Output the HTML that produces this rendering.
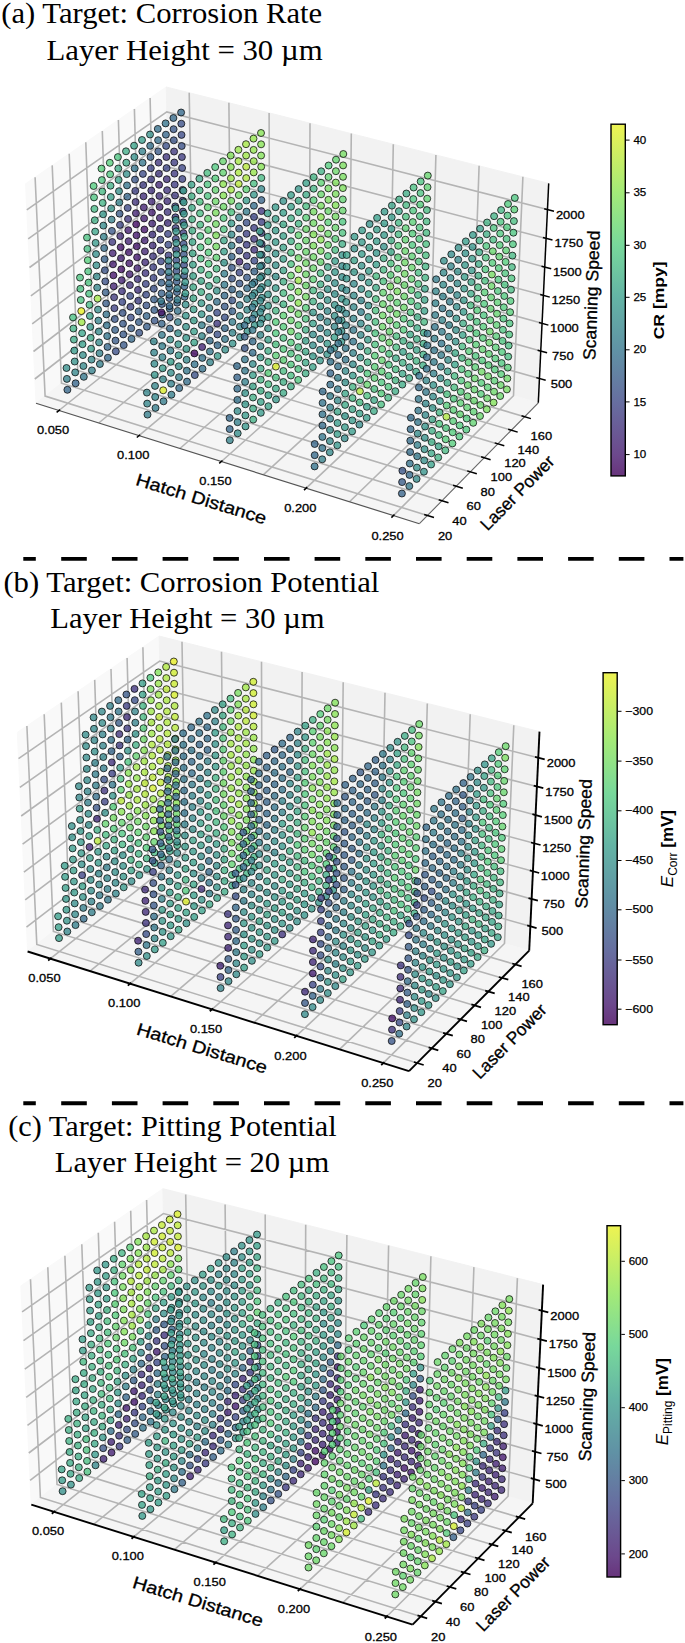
<!DOCTYPE html>
<html><head><meta charset="utf-8"><style>
html,body{margin:0;padding:0;background:#fff;}
svg{display:block;}
.sc circle{r:3.5px;stroke:#000;stroke-width:0.9;fill-opacity:0.8;stroke-opacity:0.8;}
text{font-family:"Liberation Sans",sans-serif;fill:#000;}
.tk{font-size:11.8px;text-anchor:middle;stroke:#000;stroke-width:0.3px;}
.ct{font-size:11px;stroke:#000;stroke-width:0.25px;}
.al{font-size:17.5px;text-anchor:middle;stroke:#000;stroke-width:0.3px;}
.cl{font-size:15px;font-weight:bold;text-anchor:middle;}
.ti{font-family:"Liberation Serif",serif;font-size:28.5px;}
</style></head><body>
<svg width="685" height="1643" viewBox="0 0 685 1643">
<rect width="685" height="1643" fill="#fff"/>
<path d="M36 403.3 L170.8 296.9 L166.3 87 L25.6 183.8Z" fill="#f9f9f9" stroke="#f9f9f9" stroke-width="1"/>
<path d="M170.8 296.9 L538.3 402.8 L548.7 183.4 L166.3 87Z" fill="#f2f2f2" stroke="#f2f2f2" stroke-width="1"/>
<path d="M36 403.3 L419.4 523.7 L538.3 402.8 L170.8 296.9Z" fill="#f5f5f5" stroke="#f5f5f5" stroke-width="1"/>
<path d="M58.9 410.5 L192.9 303.3 L189.2 92.8 M98.7 423 L231.1 314.3 L228.9 102.8 M139 435.6 L269.8 325.5 L269.1 112.9 M179.9 448.5 L309.1 336.8 L310 123.2 M221.4 461.5 L348.9 348.2 L351.3 133.6 M263.5 474.7 L389.2 359.9 L393.3 144.2 M306.2 488.1 L430.1 371.6 L435.9 154.9 M349.5 501.7 L471.5 383.6 L479.1 165.8 M393.5 515.5 L513.5 395.7 L522.9 176.8 M35.1 177.2 L45.1 396.1 L427.4 515.5 M52.2 165.4 L61.5 383.2 L442 500.7 M69.2 153.8 L77.7 370.4 L456.3 486.2 M85.8 142.3 L93.7 357.8 L470.4 471.9 M102.3 131 L109.4 345.4 L484.2 457.8 M118.4 119.9 L124.9 333.1 L497.9 443.9 M134.4 108.9 L140.2 321.1 L511.4 430.2 M150.1 98.1 L155.2 309.2 L524.6 416.7 M539.4 378.5 L170.3 273.6 L34.8 379 M540.7 351.1 L169.7 247.3 L33.5 351.5 M542.1 323.3 L169.1 220.8 L32.2 323.8 M543.4 295.3 L168.6 194 L30.9 295.8 M544.7 267 L168 166.9 L29.5 267.5 M546.1 238.4 L167.4 139.6 L28.2 238.9 M547.5 209.5 L166.8 111.9 L26.8 209.9" fill="none" stroke="#b4b4b4" stroke-width="1.6"/>
<path d="M36 403.3 L419.4 523.7" fill="none" stroke="#555" stroke-width="1.2"/>
<path d="M538.3 402.8 L419.4 523.7" fill="none" stroke="#666" stroke-width="1.1"/>
<path d="M538.3 402.8 L548.7 183.4" fill="none" stroke="#000" stroke-width="1.5"/>
<path d="M60.1 409.6 L56.6 412.3 M140.1 434.7 L136.8 437.5 M222.5 460.5 L219.2 463.4 M307.2 487.1 L304 490.1 M394.5 514.5 L391.4 517.6 M424.2 514.5 L434 517.5 M438.7 499.7 L448.5 502.7 M453.1 485.2 L462.8 488.2 M467.2 470.9 L476.8 473.8 M481.1 456.8 L490.6 459.7 M494.7 442.9 L504.3 445.8 M508.2 429.3 L517.7 432.1 M521.5 415.8 L530.9 418.6 M536.3 377.6 L545.7 380.3 M537.6 350.2 L547.1 352.8 M538.9 322.5 L548.4 325.1 M540.2 294.5 L549.8 297.1 M541.5 266.2 L551.2 268.7 M542.9 237.6 L552.5 240.1 M544.2 208.7 L554 211.2" fill="none" stroke="#000" stroke-width="1.5"/>
<text class="tk" x="53.1" y="433.8" textLength="32.3" lengthAdjust="spacingAndGlyphs">0.050</text>
<text class="tk" x="133.2" y="459.1" textLength="32.3" lengthAdjust="spacingAndGlyphs">0.100</text>
<text class="tk" x="215.5" y="485.2" textLength="32.3" lengthAdjust="spacingAndGlyphs">0.150</text>
<text class="tk" x="300.3" y="512.1" textLength="32.3" lengthAdjust="spacingAndGlyphs">0.200</text>
<text class="tk" x="387.6" y="539.8" textLength="32.3" lengthAdjust="spacingAndGlyphs">0.250</text>
<text class="tk" x="445.1" y="539.7" textLength="14.4" lengthAdjust="spacingAndGlyphs">20</text>
<text class="tk" x="459.5" y="524.8" textLength="14.4" lengthAdjust="spacingAndGlyphs">40</text>
<text class="tk" x="473.7" y="510.1" textLength="14.4" lengthAdjust="spacingAndGlyphs">60</text>
<text class="tk" x="487.7" y="495.7" textLength="14.4" lengthAdjust="spacingAndGlyphs">80</text>
<text class="tk" x="501.4" y="481.4" textLength="21.6" lengthAdjust="spacingAndGlyphs">100</text>
<text class="tk" x="515" y="467.4" textLength="21.6" lengthAdjust="spacingAndGlyphs">120</text>
<text class="tk" x="528.3" y="453.6" textLength="21.6" lengthAdjust="spacingAndGlyphs">140</text>
<text class="tk" x="541.4" y="440" textLength="21.6" lengthAdjust="spacingAndGlyphs">160</text>
<text class="tk" x="561.5" y="387.5" textLength="21.6" lengthAdjust="spacingAndGlyphs">500</text>
<text class="tk" x="562.9" y="360" textLength="21.6" lengthAdjust="spacingAndGlyphs">750</text>
<text class="tk" x="564.4" y="332.3" textLength="28.8" lengthAdjust="spacingAndGlyphs">1000</text>
<text class="tk" x="565.8" y="304.3" textLength="28.8" lengthAdjust="spacingAndGlyphs">1250</text>
<text class="tk" x="567.3" y="276" textLength="28.8" lengthAdjust="spacingAndGlyphs">1500</text>
<text class="tk" x="568.8" y="247.4" textLength="28.8" lengthAdjust="spacingAndGlyphs">1750</text>
<text class="tk" x="570.3" y="218.5" textLength="28.8" lengthAdjust="spacingAndGlyphs">2000</text>
<g class="sc">
<circle cx="184.6" cy="296.8" fill="#3b6a8d"/>
<circle cx="184.4" cy="286.3" fill="#3b678c"/>
<circle cx="177.1" cy="302.7" fill="#3b678c"/>
<circle cx="184.2" cy="275.7" fill="#3d5e8b"/>
<circle cx="176.9" cy="292.1" fill="#3d618b"/>
<circle cx="184" cy="265.1" fill="#405089"/>
<circle cx="169.7" cy="308.6" fill="#3b688d"/>
<circle cx="176.7" cy="281.6" fill="#3d5f8b"/>
<circle cx="183.8" cy="254.5" fill="#3e5a8a"/>
<circle cx="169.4" cy="298.1" fill="#3e5a8b"/>
<circle cx="176.5" cy="271" fill="#3f558a"/>
<circle cx="183.6" cy="243.9" fill="#3f548a"/>
<circle cx="162.1" cy="314.6" fill="#3c658c"/>
<circle cx="169.2" cy="287.5" fill="#3b678c"/>
<circle cx="176.3" cy="260.3" fill="#3f538a"/>
<circle cx="183.4" cy="233.1" fill="#424586"/>
<circle cx="161.9" cy="304" fill="#3d5d8b"/>
<circle cx="169" cy="276.8" fill="#3d5d8b"/>
<circle cx="261.9" cy="319" fill="#3c948e"/>
<circle cx="176.1" cy="249.6" fill="#404e89"/>
<circle cx="183.2" cy="222.4" fill="#404d89"/>
<circle cx="154.6" cy="320.6" fill="#3e5b8b"/>
<circle cx="161.6" cy="293.4" fill="#3c648c"/>
<circle cx="168.7" cy="266.1" fill="#3e578a"/>
<circle cx="261.9" cy="308.4" fill="#3b8d8e"/>
<circle cx="175.8" cy="238.9" fill="#414686"/>
<circle cx="182.9" cy="211.6" fill="#424485"/>
<circle cx="154.3" cy="310" fill="#3c628c"/>
<circle cx="161.4" cy="282.7" fill="#3c648c"/>
<circle cx="254.7" cy="325.1" fill="#3c9b8e"/>
<circle cx="168.5" cy="255.4" fill="#424586"/>
<circle cx="261.8" cy="297.8" fill="#3b8f8e"/>
<circle cx="175.6" cy="228.1" fill="#424284"/>
<circle cx="182.7" cy="200.8" fill="#424184"/>
<circle cx="146.9" cy="326.7" fill="#3c628c"/>
<circle cx="154" cy="299.4" fill="#3c618c"/>
<circle cx="161.1" cy="272" fill="#3f558a"/>
<circle cx="254.6" cy="314.4" fill="#3b908e"/>
<circle cx="168.3" cy="244.7" fill="#404f89"/>
<circle cx="261.8" cy="287.1" fill="#3c948e"/>
<circle cx="175.4" cy="217.3" fill="#423f83"/>
<circle cx="182.5" cy="189.9" fill="#414988"/>
<circle cx="146.6" cy="316" fill="#3b698d"/>
<circle cx="153.8" cy="288.7" fill="#3f548a"/>
<circle cx="247.4" cy="331.2" fill="#3c978e"/>
<circle cx="160.9" cy="261.3" fill="#414a88"/>
<circle cx="254.5" cy="303.8" fill="#3c978e"/>
<circle cx="168" cy="233.9" fill="#414887"/>
<circle cx="261.7" cy="276.4" fill="#3a868e"/>
<circle cx="175.2" cy="206.4" fill="#424586"/>
<circle cx="139.2" cy="332.8" fill="#3e598a"/>
<circle cx="182.3" cy="179" fill="#414787"/>
<circle cx="146.4" cy="305.4" fill="#3e578a"/>
<circle cx="153.5" cy="277.9" fill="#414887"/>
<circle cx="247.3" cy="320.5" fill="#3c958e"/>
<circle cx="160.6" cy="250.5" fill="#43387f"/>
<circle cx="254.5" cy="293.1" fill="#3b908e"/>
<circle cx="167.8" cy="223" fill="#44327c"/>
<circle cx="261.7" cy="265.6" fill="#3a6d8d"/>
<circle cx="175" cy="195.5" fill="#433d81"/>
<circle cx="138.9" cy="322.1" fill="#3c618c"/>
<circle cx="182.1" cy="168" fill="#414a88"/>
<circle cx="146.1" cy="294.7" fill="#404f89"/>
<circle cx="240" cy="337.3" fill="#3c928e"/>
<circle cx="153.2" cy="267.2" fill="#424385"/>
<circle cx="247.2" cy="309.8" fill="#3b8f8e"/>
<circle cx="160.4" cy="239.7" fill="#414686"/>
<circle cx="254.4" cy="282.3" fill="#38788e"/>
<circle cx="167.6" cy="212.1" fill="#433a80"/>
<circle cx="131.5" cy="338.9" fill="#3a6c8d"/>
<circle cx="261.6" cy="254.8" fill="#3c638c"/>
<circle cx="174.7" cy="184.6" fill="#423f83"/>
<circle cx="138.6" cy="311.4" fill="#3c638c"/>
<circle cx="181.9" cy="157" fill="#423e82"/>
<circle cx="145.8" cy="283.9" fill="#414887"/>
<circle cx="239.9" cy="326.6" fill="#3b8a8e"/>
<circle cx="153" cy="256.3" fill="#433c81"/>
<circle cx="247.1" cy="299.1" fill="#3a898e"/>
<circle cx="160.1" cy="228.8" fill="#43377e"/>
<circle cx="341.4" cy="341.8" fill="#3d9b8e"/>
<circle cx="254.3" cy="271.5" fill="#3c668c"/>
<circle cx="167.3" cy="201.2" fill="#44317b"/>
<circle cx="131.2" cy="328.3" fill="#3d608b"/>
<circle cx="261.6" cy="243.9" fill="#433c81"/>
<circle cx="174.5" cy="173.6" fill="#433d82"/>
<circle cx="138.3" cy="300.7" fill="#424284"/>
<circle cx="181.7" cy="146" fill="#3f548a"/>
<circle cx="232.6" cy="343.5" fill="#3c968e"/>
<circle cx="145.5" cy="273.1" fill="#43387f"/>
<circle cx="239.8" cy="315.9" fill="#3b8d8e"/>
<circle cx="152.7" cy="245.5" fill="#44317b"/>
<circle cx="247.1" cy="288.3" fill="#39728e"/>
<circle cx="159.9" cy="217.9" fill="#462776"/>
<circle cx="123.7" cy="345.1" fill="#3d5c8b"/>
<circle cx="341.5" cy="331.1" fill="#3c958e"/>
<circle cx="254.3" cy="260.7" fill="#404e89"/>
<circle cx="167.1" cy="190.2" fill="#43387f"/>
<circle cx="130.8" cy="317.5" fill="#405189"/>
<circle cx="261.5" cy="233" fill="#424384"/>
<circle cx="174.3" cy="162.5" fill="#424083"/>
<circle cx="138" cy="289.9" fill="#44367e"/>
<circle cx="181.5" cy="134.9" fill="#404f89"/>
<circle cx="232.5" cy="332.8" fill="#3a888e"/>
<circle cx="145.2" cy="262.3" fill="#442f7a"/>
<circle cx="239.7" cy="305.1" fill="#397f8e"/>
<circle cx="152.4" cy="234.6" fill="#44367e"/>
<circle cx="334.3" cy="348.1" fill="#3b928e"/>
<circle cx="247" cy="277.5" fill="#3d5f8b"/>
<circle cx="159.6" cy="206.9" fill="#462776"/>
<circle cx="123.3" cy="334.4" fill="#3d5d8b"/>
<circle cx="341.6" cy="320.4" fill="#3d9b8e"/>
<circle cx="254.2" cy="249.8" fill="#44357d"/>
<circle cx="166.8" cy="179.2" fill="#44337c"/>
<circle cx="130.5" cy="306.8" fill="#424686"/>
<circle cx="261.5" cy="222.1" fill="#424485"/>
<circle cx="174.1" cy="151.5" fill="#433c81"/>
<circle cx="225.2" cy="349.7" fill="#3c948e"/>
<circle cx="137.7" cy="279.1" fill="#43387f"/>
<circle cx="181.3" cy="123.7" fill="#3f548a"/>
<circle cx="232.4" cy="322" fill="#397f8e"/>
<circle cx="144.9" cy="251.4" fill="#452977"/>
<circle cx="239.6" cy="294.3" fill="#3a708e"/>
<circle cx="152.2" cy="223.6" fill="#452877"/>
<circle cx="115.8" cy="351.4" fill="#3f5289"/>
<circle cx="334.4" cy="337.3" fill="#3fa48e"/>
<circle cx="246.9" cy="266.6" fill="#404e89"/>
<circle cx="159.4" cy="195.9" fill="#44317b"/>
<circle cx="123" cy="323.7" fill="#3d5c8b"/>
<circle cx="341.7" cy="309.6" fill="#3c968e"/>
<circle cx="254.1" cy="238.9" fill="#433b80"/>
<circle cx="166.6" cy="168.1" fill="#414988"/>
<circle cx="130.2" cy="295.9" fill="#404d89"/>
<circle cx="261.4" cy="211.1" fill="#433b81"/>
<circle cx="173.8" cy="140.3" fill="#3e578a"/>
<circle cx="225" cy="339" fill="#397b8e"/>
<circle cx="137.4" cy="268.2" fill="#462575"/>
<circle cx="181.1" cy="112.5" fill="#3a6c8d"/>
<circle cx="232.3" cy="311.3" fill="#3c638c"/>
<circle cx="144.7" cy="240.4" fill="#462575"/>
<circle cx="327.2" cy="354.3" fill="#3c998e"/>
<circle cx="239.5" cy="283.5" fill="#3e5b8b"/>
<circle cx="151.9" cy="212.6" fill="#462072"/>
<circle cx="115.5" cy="340.6" fill="#3d5e8b"/>
<circle cx="334.5" cy="326.6" fill="#3b8c8e"/>
<circle cx="246.8" cy="255.7" fill="#423f82"/>
<circle cx="159.1" cy="184.8" fill="#452a78"/>
<circle cx="122.7" cy="312.9" fill="#3e598a"/>
<circle cx="341.8" cy="298.8" fill="#3c988e"/>
<circle cx="254.1" cy="227.9" fill="#424384"/>
<circle cx="166.4" cy="157" fill="#433a80"/>
<circle cx="217.6" cy="356" fill="#3d9d8e"/>
<circle cx="129.9" cy="285.1" fill="#44357d"/>
<circle cx="261.4" cy="200.1" fill="#3b678c"/>
<circle cx="173.6" cy="129.2" fill="#3e5b8b"/>
<circle cx="224.9" cy="328.2" fill="#3a6b8d"/>
<circle cx="137.1" cy="257.3" fill="#471c70"/>
<circle cx="232.2" cy="300.4" fill="#3e598a"/>
<circle cx="144.4" cy="229.5" fill="#47176d"/>
<circle cx="107.9" cy="357.7" fill="#3a6b8d"/>
<circle cx="327.3" cy="343.6" fill="#3d9d8e"/>
<circle cx="239.5" cy="272.6" fill="#414c89"/>
<circle cx="151.6" cy="201.6" fill="#452c78"/>
<circle cx="115.1" cy="329.9" fill="#3c648c"/>
<circle cx="334.6" cy="315.8" fill="#3c968e"/>
<circle cx="246.7" cy="244.8" fill="#424284"/>
<circle cx="158.9" cy="173.7" fill="#433980"/>
<circle cx="122.3" cy="302" fill="#414c89"/>
<circle cx="341.9" cy="287.9" fill="#3b918e"/>
<circle cx="254" cy="216.9" fill="#414a88"/>
<circle cx="166.1" cy="145.9" fill="#3f5289"/>
<circle cx="217.5" cy="345.2" fill="#3a6c8d"/>
<circle cx="129.6" cy="274.2" fill="#462474"/>
<circle cx="261.3" cy="189" fill="#3b8d8e"/>
<circle cx="173.4" cy="118" fill="#3a6d8d"/>
<circle cx="224.8" cy="317.4" fill="#3f548a"/>
<circle cx="136.8" cy="246.3" fill="#47196e"/>
<circle cx="320" cy="360.6" fill="#3d9c8e"/>
<circle cx="232.1" cy="289.5" fill="#3b688c"/>
<circle cx="144.1" cy="218.4" fill="#462173"/>
<circle cx="107.5" cy="346.9" fill="#3b6a8d"/>
<circle cx="327.4" cy="332.8" fill="#3b928e"/>
<circle cx="239.4" cy="261.7" fill="#452977"/>
<circle cx="151.3" cy="190.5" fill="#44357d"/>
<circle cx="114.8" cy="319" fill="#3e5a8b"/>
<circle cx="334.7" cy="304.9" fill="#3c988e"/>
<circle cx="246.6" cy="233.8" fill="#424586"/>
<circle cx="158.6" cy="162.6" fill="#433980"/>
<circle cx="210.1" cy="362.3" fill="#3a878e"/>
<circle cx="122" cy="291.2" fill="#43387f"/>
<circle cx="342" cy="277" fill="#3b928e"/>
<circle cx="253.9" cy="205.8" fill="#39728e"/>
<circle cx="165.9" cy="134.7" fill="#3b6a8d"/>
<circle cx="217.4" cy="334.4" fill="#3f5289"/>
<circle cx="129.3" cy="263.3" fill="#471c70"/>
<circle cx="261.3" cy="177.9" fill="#4cbc87"/>
<circle cx="224.7" cy="306.5" fill="#3d5e8b"/>
<circle cx="136.5" cy="235.3" fill="#471b70"/>
<circle cx="99.9" cy="364" fill="#3a828e"/>
<circle cx="320.1" cy="349.9" fill="#3b8d8e"/>
<circle cx="232" cy="278.6" fill="#3e598a"/>
<circle cx="143.8" cy="207.4" fill="#462575"/>
<circle cx="107.2" cy="336.1" fill="#38788e"/>
<circle cx="327.4" cy="321.9" fill="#3b8d8e"/>
<circle cx="239.3" cy="250.7" fill="#414787"/>
<circle cx="151.1" cy="179.4" fill="#423f83"/>
<circle cx="114.4" cy="308.2" fill="#424586"/>
<circle cx="423" cy="365.3" fill="#47b38a"/>
<circle cx="334.8" cy="294" fill="#3c958e"/>
<circle cx="246.6" cy="222.7" fill="#3f5289"/>
<circle cx="158.3" cy="151.4" fill="#3d5c8b"/>
<circle cx="209.9" cy="351.5" fill="#39798e"/>
<circle cx="121.7" cy="280.2" fill="#462676"/>
<circle cx="342.1" cy="266.1" fill="#3b8e8e"/>
<circle cx="253.9" cy="194.7" fill="#3d9c8e"/>
<circle cx="165.6" cy="123.4" fill="#38778e"/>
<circle cx="217.2" cy="323.6" fill="#433c81"/>
<circle cx="128.9" cy="252.3" fill="#471c70"/>
<circle cx="261.2" cy="166.7" fill="#89e359"/>
<circle cx="312.8" cy="367" fill="#40a68d"/>
<circle cx="224.5" cy="295.6" fill="#3a6d8d"/>
<circle cx="136.2" cy="224.3" fill="#450d65"/>
<circle cx="99.5" cy="353.2" fill="#3a848e"/>
<circle cx="320.2" cy="339" fill="#3b908e"/>
<circle cx="231.8" cy="267.7" fill="#3e5c8b"/>
<circle cx="143.5" cy="196.3" fill="#44307b"/>
<circle cx="106.8" cy="325.3" fill="#38768e"/>
<circle cx="327.5" cy="311.1" fill="#3b8d8e"/>
<circle cx="239.2" cy="239.7" fill="#404e89"/>
<circle cx="150.8" cy="168.2" fill="#414787"/>
<circle cx="202.5" cy="368.7" fill="#39748e"/>
<circle cx="114.1" cy="297.3" fill="#433d81"/>
<circle cx="423.3" cy="354.5" fill="#47b489"/>
<circle cx="334.9" cy="283.1" fill="#3c938e"/>
<circle cx="246.5" cy="211.6" fill="#397f8e"/>
<circle cx="158.1" cy="140.2" fill="#39728e"/>
<circle cx="209.8" cy="340.7" fill="#3a6f8d"/>
<circle cx="121.3" cy="269.3" fill="#46146a"/>
<circle cx="342.2" cy="255.1" fill="#3c988e"/>
<circle cx="253.8" cy="183.6" fill="#4fc186"/>
<circle cx="217.1" cy="312.7" fill="#404f89"/>
<circle cx="128.6" cy="241.2" fill="#462575"/>
<circle cx="261.1" cy="155.5" fill="#86e25b"/>
<circle cx="91.9" cy="370.4" fill="#3a838e"/>
<circle cx="312.9" cy="356.2" fill="#3d9e8e"/>
<circle cx="224.4" cy="284.7" fill="#397d8e"/>
<circle cx="135.9" cy="213.2" fill="#462776"/>
<circle cx="99.1" cy="342.4" fill="#3b8c8e"/>
<circle cx="320.2" cy="328.2" fill="#3a848e"/>
<circle cx="231.7" cy="256.7" fill="#3b678c"/>
<circle cx="143.2" cy="185.1" fill="#423f82"/>
<circle cx="106.4" cy="314.4" fill="#39758e"/>
<circle cx="416.1" cy="371.7" fill="#44ae8b"/>
<circle cx="327.6" cy="300.1" fill="#3c998e"/>
<circle cx="239.1" cy="228.6" fill="#3e5b8b"/>
<circle cx="150.5" cy="157" fill="#3c638c"/>
<circle cx="202.3" cy="357.9" fill="#38768e"/>
<circle cx="113.7" cy="286.3" fill="#462776"/>
<circle cx="423.5" cy="343.7" fill="#46b28a"/>
<circle cx="335" cy="272.1" fill="#3c9b8e"/>
<circle cx="246.4" cy="200.5" fill="#3da08e"/>
<circle cx="157.8" cy="128.9" fill="#39738e"/>
<circle cx="209.6" cy="329.8" fill="#3e5a8b"/>
<circle cx="121" cy="258.2" fill="#462675"/>
<circle cx="342.3" cy="244" fill="#46b08a"/>
<circle cx="253.7" cy="172.4" fill="#98e650"/>
<circle cx="305.6" cy="373.4" fill="#47b28a"/>
<circle cx="216.9" cy="301.8" fill="#39738e"/>
<circle cx="128.3" cy="230.2" fill="#462173"/>
<circle cx="261.1" cy="144.3" fill="#89e458"/>
<circle cx="91.5" cy="359.6" fill="#3b8c8e"/>
<circle cx="312.9" cy="345.3" fill="#3b928e"/>
<circle cx="224.3" cy="273.7" fill="#39818e"/>
<circle cx="135.6" cy="202" fill="#43377e"/>
<circle cx="98.8" cy="331.5" fill="#3b8d8e"/>
<circle cx="320.3" cy="317.3" fill="#3b8a8e"/>
<circle cx="231.6" cy="245.6" fill="#3a838e"/>
<circle cx="142.9" cy="173.9" fill="#404f89"/>
<circle cx="194.8" cy="375.1" fill="#3f548a"/>
<circle cx="106.1" cy="303.4" fill="#3d608b"/>
<circle cx="416.4" cy="360.9" fill="#4ab988"/>
<circle cx="327.7" cy="289.2" fill="#3c988e"/>
<circle cx="239" cy="217.5" fill="#3a868e"/>
<circle cx="150.2" cy="145.8" fill="#39738e"/>
<circle cx="202.1" cy="347" fill="#462776"/>
<circle cx="113.4" cy="275.3" fill="#47186e"/>
<circle cx="423.8" cy="332.8" fill="#45b08a"/>
<circle cx="335.1" cy="261.1" fill="#3da28e"/>
<circle cx="246.3" cy="189.3" fill="#61d379"/>
<circle cx="209.4" cy="318.9" fill="#397a8e"/>
<circle cx="120.7" cy="247.2" fill="#47186e"/>
<circle cx="342.5" cy="232.9" fill="#52c684"/>
<circle cx="253.7" cy="161.2" fill="#9ae64f"/>
<circle cx="83.8" cy="376.8" fill="#397a8e"/>
<circle cx="305.6" cy="362.6" fill="#43ac8b"/>
<circle cx="216.8" cy="290.8" fill="#3c978e"/>
<circle cx="128" cy="219" fill="#43397f"/>
<circle cx="261" cy="133" fill="#89e359"/>
<circle cx="91.1" cy="348.7" fill="#3da08e"/>
<circle cx="313" cy="334.5" fill="#3b918e"/>
<circle cx="224.1" cy="262.7" fill="#3c978e"/>
<circle cx="135.3" cy="190.9" fill="#424586"/>
<circle cx="98.4" cy="320.6" fill="#3a868e"/>
<circle cx="409.2" cy="378.1" fill="#47b28a"/>
<circle cx="320.4" cy="306.3" fill="#3d9d8e"/>
<circle cx="231.5" cy="234.5" fill="#3b8f8e"/>
<circle cx="142.6" cy="162.7" fill="#39798e"/>
<circle cx="194.6" cy="364.3" fill="#38768e"/>
<circle cx="105.7" cy="292.4" fill="#3c638c"/>
<circle cx="416.7" cy="350" fill="#41a88d"/>
<circle cx="327.8" cy="278.2" fill="#3d9c8e"/>
<circle cx="238.9" cy="206.3" fill="#46b18a"/>
<circle cx="150" cy="134.5" fill="#3c958e"/>
<circle cx="201.9" cy="336.1" fill="#3b8c8e"/>
<circle cx="113" cy="264.3" fill="#471f72"/>
<circle cx="424.1" cy="321.9" fill="#4cbb87"/>
<circle cx="335.2" cy="250" fill="#4ebf86"/>
<circle cx="246.2" cy="178.1" fill="#afe944"/>
<circle cx="298.2" cy="379.9" fill="#53c983"/>
<circle cx="209.3" cy="308" fill="#3a848e"/>
<circle cx="120.3" cy="236.1" fill="#452e79"/>
<circle cx="342.6" cy="221.8" fill="#53c983"/>
<circle cx="253.6" cy="149.9" fill="#95e652"/>
<circle cx="83.4" cy="366" fill="#3b8c8e"/>
<circle cx="305.6" cy="351.7" fill="#44ad8b"/>
<circle cx="216.7" cy="279.8" fill="#48b489"/>
<circle cx="127.7" cy="207.9" fill="#414b88"/>
<circle cx="90.7" cy="337.8" fill="#43ab8c"/>
<circle cx="313" cy="323.5" fill="#3fa48e"/>
<circle cx="224" cy="251.6" fill="#3ea38e"/>
<circle cx="135" cy="179.6" fill="#3e5a8b"/>
<circle cx="187" cy="381.6" fill="#39728e"/>
<circle cx="98" cy="309.6" fill="#3b908e"/>
<circle cx="409.5" cy="367.3" fill="#3ea38e"/>
<circle cx="320.4" cy="295.3" fill="#3d9d8e"/>
<circle cx="231.4" cy="223.4" fill="#3d9e8e"/>
<circle cx="142.3" cy="151.4" fill="#3a838e"/>
<circle cx="194.4" cy="353.4" fill="#440a62"/>
<circle cx="105.3" cy="281.4" fill="#3f548a"/>
<circle cx="416.9" cy="339.1" fill="#47b389"/>
<circle cx="327.8" cy="267.1" fill="#43ab8c"/>
<circle cx="238.8" cy="195.1" fill="#74db6a"/>
<circle cx="201.8" cy="325.2" fill="#39818e"/>
<circle cx="112.7" cy="253.2" fill="#462575"/>
<circle cx="424.4" cy="310.9" fill="#40a68d"/>
<circle cx="335.3" cy="238.9" fill="#5dd17d"/>
<circle cx="246.2" cy="166.8" fill="#b9ea40"/>
<circle cx="75.6" cy="383.3" fill="#3b698d"/>
<circle cx="298.3" cy="369" fill="#51c485"/>
<circle cx="209.1" cy="297" fill="#3d9e8e"/>
<circle cx="120" cy="224.9" fill="#414b88"/>
<circle cx="342.7" cy="210.6" fill="#6ad772"/>
<circle cx="253.5" cy="138.6" fill="#96e651"/>
<circle cx="82.9" cy="355.1" fill="#3b928e"/>
<circle cx="305.7" cy="340.8" fill="#40a58d"/>
<circle cx="216.5" cy="268.7" fill="#4dbd87"/>
<circle cx="127.3" cy="196.7" fill="#3b698d"/>
<circle cx="90.3" cy="326.9" fill="#3c9b8e"/>
<circle cx="402.3" cy="384.6" fill="#45af8b"/>
<circle cx="313.1" cy="312.5" fill="#3d9c8e"/>
<circle cx="223.9" cy="240.5" fill="#42aa8c"/>
<circle cx="134.7" cy="168.4" fill="#38778e"/>
<circle cx="186.8" cy="370.7" fill="#397b8e"/>
<circle cx="97.6" cy="298.6" fill="#a1e74b"/>
<circle cx="409.7" cy="356.4" fill="#47b28a"/>
<circle cx="320.5" cy="284.3" fill="#46b28a"/>
<circle cx="231.3" cy="212.2" fill="#52c784"/>
<circle cx="142" cy="140" fill="#3da08e"/>
<circle cx="194.2" cy="342.5" fill="#40a78d"/>
<circle cx="104.9" cy="270.3" fill="#3f568a"/>
<circle cx="417.2" cy="328.1" fill="#45af8b"/>
<circle cx="327.9" cy="256" fill="#53c984"/>
<circle cx="238.7" cy="183.9" fill="#bbea3f"/>
<circle cx="290.9" cy="386.4" fill="#46b08a"/>
<circle cx="201.6" cy="314.2" fill="#3c998e"/>
<circle cx="112.3" cy="242" fill="#433c81"/>
<circle cx="424.6" cy="299.9" fill="#42a98c"/>
<circle cx="335.4" cy="227.7" fill="#6ad672"/>
<circle cx="246.1" cy="155.5" fill="#a1e74c"/>
<circle cx="75.2" cy="372.4" fill="#3a898e"/>
<circle cx="298.3" cy="358.1" fill="#53c983"/>
<circle cx="209" cy="285.9" fill="#43ab8c"/>
<circle cx="119.6" cy="213.7" fill="#3d5e8b"/>
<circle cx="342.8" cy="199.4" fill="#67d575"/>
<circle cx="82.5" cy="344.2" fill="#3da28e"/>
<circle cx="305.7" cy="329.8" fill="#47b38a"/>
<circle cx="216.4" cy="257.6" fill="#62d378"/>
<circle cx="127" cy="185.4" fill="#38778e"/>
<circle cx="179.2" cy="388.1" fill="#3a6f8d"/>
<circle cx="89.9" cy="315.9" fill="#40a78d"/>
<circle cx="402.5" cy="373.7" fill="#43ab8c"/>
<circle cx="313.1" cy="301.5" fill="#48b589"/>
<circle cx="223.8" cy="229.3" fill="#52c784"/>
<circle cx="134.4" cy="157" fill="#3c958e"/>
<circle cx="186.6" cy="359.8" fill="#3b8b8e"/>
<circle cx="97.2" cy="287.6" fill="#3a878e"/>
<circle cx="410" cy="345.5" fill="#44ad8b"/>
<circle cx="320.6" cy="273.2" fill="#4ebf86"/>
<circle cx="231.2" cy="200.9" fill="#75db69"/>
<circle cx="194" cy="331.5" fill="#3ea28e"/>
<circle cx="506.9" cy="389.4" fill="#79dd66"/>
<circle cx="104.6" cy="259.2" fill="#3c648c"/>
<circle cx="417.5" cy="317.1" fill="#46b08a"/>
<circle cx="328" cy="244.9" fill="#6bd771"/>
<circle cx="238.6" cy="172.6" fill="#aee945"/>
<circle cx="67.4" cy="389.8" fill="#3b6a8d"/>
<circle cx="290.9" cy="375.5" fill="#4ebf86"/>
<circle cx="201.4" cy="303.2" fill="#3d9c8e"/>
<circle cx="111.9" cy="230.9" fill="#3e5b8b"/>
<circle cx="424.9" cy="288.8" fill="#41a88d"/>
<circle cx="335.5" cy="216.5" fill="#76db68"/>
<circle cx="246" cy="144.2" fill="#a7e849"/>
<circle cx="74.7" cy="361.5" fill="#3c958e"/>
<circle cx="298.3" cy="347.2" fill="#4ec086"/>
<circle cx="208.8" cy="274.8" fill="#4ebf86"/>
<circle cx="119.3" cy="202.5" fill="#3a838e"/>
<circle cx="342.9" cy="188.1" fill="#80e060"/>
<circle cx="82.1" cy="333.2" fill="#40a78d"/>
<circle cx="395.3" cy="391.2" fill="#45b08a"/>
<circle cx="305.7" cy="318.8" fill="#51c485"/>
<circle cx="216.2" cy="246.5" fill="#77dc67"/>
<circle cx="126.7" cy="174.1" fill="#3c948e"/>
<circle cx="179" cy="377.2" fill="#3a828e"/>
<circle cx="89.5" cy="304.8" fill="#4bba88"/>
<circle cx="402.7" cy="362.8" fill="#48b489"/>
<circle cx="313.2" cy="290.5" fill="#4bbb87"/>
<circle cx="223.6" cy="218.1" fill="#55cd82"/>
<circle cx="134.1" cy="145.7" fill="#40a78d"/>
<circle cx="186.4" cy="348.9" fill="#3d9e8e"/>
<circle cx="96.8" cy="276.5" fill="#3b8d8e"/>
<circle cx="410.2" cy="334.5" fill="#43ac8b"/>
<circle cx="320.6" cy="262.1" fill="#6ad672"/>
<circle cx="231" cy="189.7" fill="#a7e849"/>
<circle cx="283.4" cy="392.9" fill="#45ae8b"/>
<circle cx="193.8" cy="320.5" fill="#3ea28e"/>
<circle cx="507.3" cy="378.5" fill="#72da6b"/>
<circle cx="104.2" cy="248.1" fill="#3a6f8d"/>
<circle cx="417.7" cy="306.1" fill="#4cbd87"/>
<circle cx="328.1" cy="233.7" fill="#6fd96e"/>
<circle cx="238.5" cy="161.2" fill="#a8e848"/>
<circle cx="66.9" cy="378.9" fill="#3a838e"/>
<circle cx="290.9" cy="364.5" fill="#55cc83"/>
<circle cx="201.2" cy="292.1" fill="#46b18a"/>
<circle cx="111.6" cy="219.6" fill="#3a828e"/>
<circle cx="425.2" cy="277.7" fill="#4ab888"/>
<circle cx="335.6" cy="205.2" fill="#84e25d"/>
<circle cx="74.3" cy="350.6" fill="#3d9e8e"/>
<circle cx="298.3" cy="336.2" fill="#54ca83"/>
<circle cx="208.6" cy="263.7" fill="#56ce82"/>
<circle cx="119" cy="191.2" fill="#3b928e"/>
<circle cx="343" cy="176.8" fill="#7cde63"/>
<circle cx="171.4" cy="394.7" fill="#39818e"/>
<circle cx="81.7" cy="322.2" fill="#a1e74b"/>
<circle cx="395.5" cy="380.3" fill="#4cbb87"/>
<circle cx="305.8" cy="307.8" fill="#5ad07f"/>
<circle cx="216.1" cy="235.3" fill="#81e05f"/>
<circle cx="126.3" cy="162.7" fill="#43ab8c"/>
<circle cx="178.8" cy="366.3" fill="#3c948e"/>
<circle cx="89.1" cy="293.7" fill="#4fc285"/>
<circle cx="403" cy="351.9" fill="#40a68d"/>
<circle cx="313.2" cy="279.3" fill="#60d37a"/>
<circle cx="223.5" cy="206.8" fill="#71d96c"/>
<circle cx="186.2" cy="337.9" fill="#3c9a8e"/>
<circle cx="500.2" cy="396" fill="#6ed86f"/>
<circle cx="96.4" cy="265.3" fill="#3c948e"/>
<circle cx="410.5" cy="323.4" fill="#4dbd87"/>
<circle cx="320.7" cy="250.9" fill="#79dd66"/>
<circle cx="230.9" cy="178.3" fill="#9be64f"/>
<circle cx="283.4" cy="382" fill="#47b38a"/>
<circle cx="193.6" cy="309.4" fill="#3fa48e"/>
<circle cx="507.8" cy="367.6" fill="#5dd17d"/>
<circle cx="103.8" cy="236.8" fill="#3a858e"/>
<circle cx="418" cy="295" fill="#4ab988"/>
<circle cx="328.2" cy="222.4" fill="#5ed27c"/>
<circle cx="238.4" cy="149.8" fill="#9be64f"/>
<circle cx="66.5" cy="368" fill="#3b918e"/>
<circle cx="290.9" cy="353.6" fill="#53c884"/>
<circle cx="201.1" cy="281" fill="#43ac8b"/>
<circle cx="111.2" cy="208.4" fill="#3c978e"/>
<circle cx="425.5" cy="266.5" fill="#4ab888"/>
<circle cx="335.7" cy="193.9" fill="#7edf62"/>
<circle cx="73.9" cy="339.6" fill="#43ac8b"/>
<circle cx="388.2" cy="397.7" fill="#4cbc87"/>
<circle cx="298.4" cy="325.1" fill="#61d379"/>
<circle cx="208.5" cy="252.5" fill="#59d080"/>
<circle cx="118.6" cy="179.9" fill="#40a78d"/>
<circle cx="343.1" cy="165.4" fill="#7dde62"/>
<circle cx="171.1" cy="383.7" fill="#3a838e"/>
<circle cx="81.3" cy="311.1" fill="#e7ef27"/>
<circle cx="395.7" cy="369.3" fill="#4dbe86"/>
<circle cx="305.8" cy="296.7" fill="#75db69"/>
<circle cx="215.9" cy="224" fill="#76dc68"/>
<circle cx="126" cy="151.3" fill="#45af8b"/>
<circle cx="178.6" cy="355.3" fill="#3c9a8e"/>
<circle cx="88.6" cy="282.6" fill="#52c684"/>
<circle cx="403.2" cy="340.9" fill="#49b789"/>
<circle cx="313.3" cy="268.2" fill="#6bd771"/>
<circle cx="223.4" cy="195.5" fill="#88e359"/>
<circle cx="276" cy="399.5" fill="#3d9c8e"/>
<circle cx="186" cy="326.8" fill="#3c968e"/>
<circle cx="500.7" cy="385.1" fill="#6ed86e"/>
<circle cx="96" cy="254.1" fill="#3b928e"/>
<circle cx="410.7" cy="312.4" fill="#54c983"/>
<circle cx="320.8" cy="239.7" fill="#8ce557"/>
<circle cx="230.8" cy="167" fill="#8ae458"/>
<circle cx="283.4" cy="371" fill="#4dbe86"/>
<circle cx="193.4" cy="298.3" fill="#43ab8c"/>
<circle cx="508.2" cy="356.6" fill="#4fc186"/>
<circle cx="103.4" cy="225.6" fill="#3b8d8e"/>
<circle cx="418.3" cy="283.9" fill="#52c784"/>
<circle cx="328.3" cy="211.1" fill="#6ed86f"/>
<circle cx="290.9" cy="342.6" fill="#59cf80"/>
<circle cx="200.9" cy="269.8" fill="#4ab888"/>
<circle cx="110.8" cy="197" fill="#3fa48e"/>
<circle cx="425.8" cy="255.3" fill="#4fc285"/>
<circle cx="335.8" cy="182.6" fill="#82e15e"/>
<circle cx="163.5" cy="401.3" fill="#39808e"/>
<circle cx="73.4" cy="328.5" fill="#48b489"/>
<circle cx="388.4" cy="386.8" fill="#54ca83"/>
<circle cx="298.4" cy="314" fill="#73da6b"/>
<circle cx="208.3" cy="241.3" fill="#5ed27c"/>
<circle cx="118.3" cy="168.5" fill="#45ae8b"/>
<circle cx="343.3" cy="154" fill="#79dd66"/>
<circle cx="170.9" cy="372.8" fill="#3b908e"/>
<circle cx="80.8" cy="300" fill="#52c684"/>
<circle cx="395.9" cy="358.3" fill="#44ad8b"/>
<circle cx="305.9" cy="285.5" fill="#6ed86e"/>
<circle cx="215.8" cy="212.7" fill="#7ddf62"/>
<circle cx="178.3" cy="344.3" fill="#3c998e"/>
<circle cx="493.6" cy="402.6" fill="#84e25c"/>
<circle cx="88.2" cy="271.4" fill="#52c684"/>
<circle cx="403.5" cy="329.8" fill="#58cf81"/>
<circle cx="313.4" cy="257" fill="#72da6c"/>
<circle cx="223.2" cy="184.1" fill="#8ee555"/>
<circle cx="275.9" cy="388.6" fill="#44ae8b"/>
<circle cx="185.8" cy="315.7" fill="#3c998e"/>
<circle cx="501.1" cy="374.1" fill="#5dd17d"/>
<circle cx="95.6" cy="242.9" fill="#3d9e8e"/>
<circle cx="411" cy="301.3" fill="#57cf81"/>
<circle cx="320.9" cy="228.4" fill="#83e15e"/>
<circle cx="230.7" cy="155.5" fill="#85e25c"/>
<circle cx="283.4" cy="360" fill="#5fd27b"/>
<circle cx="193.2" cy="287.2" fill="#43ac8b"/>
<circle cx="508.7" cy="345.6" fill="#4fc186"/>
<circle cx="103.1" cy="214.3" fill="#3d9c8e"/>
<circle cx="418.5" cy="272.7" fill="#4ebf86"/>
<circle cx="328.4" cy="199.8" fill="#7dde62"/>
<circle cx="381.1" cy="404.4" fill="#4fc086"/>
<circle cx="290.9" cy="331.5" fill="#6fd86e"/>
<circle cx="200.7" cy="258.6" fill="#50c385"/>
<circle cx="110.5" cy="185.7" fill="#46b18a"/>
<circle cx="426.1" cy="244.1" fill="#50c385"/>
<circle cx="335.9" cy="171.2" fill="#6fd96e"/>
<circle cx="163.2" cy="390.3" fill="#dbee2e"/>
<circle cx="73" cy="317.4" fill="#4ec086"/>
<circle cx="388.6" cy="375.8" fill="#53c984"/>
<circle cx="298.4" cy="302.9" fill="#90e554"/>
<circle cx="208.2" cy="230" fill="#5fd27b"/>
<circle cx="117.9" cy="157.1" fill="#52c784"/>
<circle cx="170.7" cy="361.8" fill="#3da18e"/>
<circle cx="80.4" cy="288.8" fill="#50c385"/>
<circle cx="396.2" cy="347.3" fill="#4fc186"/>
<circle cx="305.9" cy="274.3" fill="#70d96d"/>
<circle cx="215.6" cy="201.4" fill="#6fd96d"/>
<circle cx="268.4" cy="406.2" fill="#40a68d"/>
<circle cx="178.1" cy="333.2" fill="#3b908e"/>
<circle cx="494" cy="391.7" fill="#6fd96e"/>
<circle cx="87.8" cy="260.2" fill="#5ad07f"/>
<circle cx="403.7" cy="318.7" fill="#57cf81"/>
<circle cx="313.4" cy="245.7" fill="#7dde62"/>
<circle cx="223.1" cy="172.7" fill="#67d574"/>
<circle cx="275.9" cy="377.6" fill="#50c485"/>
<circle cx="185.6" cy="304.6" fill="#3c948e"/>
<circle cx="501.6" cy="363.1" fill="#54c983"/>
<circle cx="95.2" cy="231.6" fill="#41a88d"/>
<circle cx="411.3" cy="290.1" fill="#5ed27c"/>
<circle cx="320.9" cy="217.1" fill="#8be457"/>
<circle cx="283.4" cy="349" fill="#55cd82"/>
<circle cx="193.1" cy="276" fill="#41a78d"/>
<circle cx="509.2" cy="334.5" fill="#52c784"/>
<circle cx="102.7" cy="202.9" fill="#49b789"/>
<circle cx="418.8" cy="261.5" fill="#54cb83"/>
<circle cx="328.4" cy="188.4" fill="#77dc67"/>
<circle cx="155.5" cy="407.9" fill="#39808e"/>
<circle cx="381.3" cy="393.4" fill="#59cf80"/>
<circle cx="290.9" cy="320.4" fill="#6bd771"/>
<circle cx="200.5" cy="247.3" fill="#51c585"/>
<circle cx="110.1" cy="174.3" fill="#53c884"/>
<circle cx="426.4" cy="232.8" fill="#4dbe86"/>
<circle cx="336" cy="159.7" fill="#68d673"/>
<circle cx="163" cy="379.3" fill="#3b8c8e"/>
<circle cx="388.8" cy="364.8" fill="#53c884"/>
<circle cx="298.4" cy="291.7" fill="#86e25b"/>
<circle cx="208" cy="218.7" fill="#67d574"/>
<circle cx="170.4" cy="350.7" fill="#3a838e"/>
<circle cx="486.8" cy="409.3" fill="#7cde63"/>
<circle cx="80" cy="277.6" fill="#52c684"/>
<circle cx="396.4" cy="336.2" fill="#50c285"/>
<circle cx="305.9" cy="263.1" fill="#74db6a"/>
<circle cx="215.5" cy="190" fill="#66d575"/>
<circle cx="268.4" cy="395.2" fill="#40a78d"/>
<circle cx="177.9" cy="322.1" fill="#3a828e"/>
<circle cx="494.4" cy="380.7" fill="#60d27a"/>
<circle cx="87.4" cy="248.9" fill="#4dbe87"/>
<circle cx="403.9" cy="307.5" fill="#6fd96e"/>
<circle cx="313.5" cy="234.4" fill="#85e25c"/>
<circle cx="223" cy="161.3" fill="#6ad672"/>
<circle cx="275.9" cy="366.6" fill="#dbee2e"/>
<circle cx="185.4" cy="293.4" fill="#3da08e"/>
<circle cx="502" cy="352" fill="#56ce82"/>
<circle cx="94.8" cy="220.3" fill="#46b18a"/>
<circle cx="411.5" cy="278.9" fill="#65d576"/>
<circle cx="321" cy="205.7" fill="#7bde64"/>
<circle cx="373.9" cy="411.1" fill="#44ae8b"/>
<circle cx="283.4" cy="337.9" fill="#50c385"/>
<circle cx="192.9" cy="264.7" fill="#41a88d"/>
<circle cx="509.6" cy="323.4" fill="#52c784"/>
<circle cx="102.3" cy="191.5" fill="#4bbb87"/>
<circle cx="419.1" cy="250.2" fill="#52c684"/>
<circle cx="328.5" cy="177" fill="#65d476"/>
<circle cx="155.2" cy="397" fill="#3a898e"/>
<circle cx="381.5" cy="382.4" fill="#54cb83"/>
<circle cx="290.9" cy="309.2" fill="#74db6a"/>
<circle cx="200.3" cy="236" fill="#4fc285"/>
<circle cx="109.8" cy="162.8" fill="#5ad07f"/>
<circle cx="426.6" cy="221.5" fill="#4dbd87"/>
<circle cx="162.7" cy="368.3" fill="#3d9e8e"/>
<circle cx="389.1" cy="353.8" fill="#52c784"/>
<circle cx="298.4" cy="280.5" fill="#9ce74e"/>
<circle cx="207.8" cy="207.3" fill="#64d477"/>
<circle cx="260.8" cy="412.8" fill="#3d9d8e"/>
<circle cx="170.2" cy="339.6" fill="#3c948e"/>
<circle cx="487.2" cy="398.3" fill="#6fd86e"/>
<circle cx="396.6" cy="325.1" fill="#5fd27b"/>
<circle cx="306" cy="251.8" fill="#6cd770"/>
<circle cx="215.3" cy="178.5" fill="#58cf80"/>
<circle cx="268.3" cy="384.2" fill="#4dbe87"/>
<circle cx="177.7" cy="310.9" fill="#39758e"/>
<circle cx="494.8" cy="369.6" fill="#59cf80"/>
<circle cx="87" cy="237.6" fill="#50c285"/>
<circle cx="404.2" cy="296.4" fill="#6cd870"/>
<circle cx="313.5" cy="223.1" fill="#74db6a"/>
<circle cx="275.9" cy="355.5" fill="#60d27a"/>
<circle cx="185.2" cy="282.2" fill="#3c9a8e"/>
<circle cx="502.5" cy="340.9" fill="#53c984"/>
<circle cx="94.4" cy="208.9" fill="#4bba88"/>
<circle cx="411.8" cy="267.6" fill="#6ad772"/>
<circle cx="321.1" cy="194.3" fill="#6bd771"/>
<circle cx="147.5" cy="414.6" fill="#39818e"/>
<circle cx="374.1" cy="400.1" fill="#44ad8b"/>
<circle cx="283.4" cy="326.8" fill="#57cf81"/>
<circle cx="192.7" cy="253.4" fill="#44ad8b"/>
<circle cx="510.1" cy="312.2" fill="#5cd17d"/>
<circle cx="101.9" cy="180.1" fill="#52c784"/>
<circle cx="419.3" cy="238.9" fill="#54ca83"/>
<circle cx="328.6" cy="165.5" fill="#56ce82"/>
<circle cx="155" cy="385.9" fill="#3b8a8e"/>
<circle cx="381.7" cy="371.4" fill="#60d37a"/>
<circle cx="290.9" cy="298" fill="#63d477"/>
<circle cx="200.2" cy="224.7" fill="#4cbd87"/>
<circle cx="426.9" cy="210.1" fill="#4dbe86"/>
<circle cx="162.4" cy="357.2" fill="#3a878e"/>
<circle cx="480" cy="416" fill="#6bd771"/>
<circle cx="389.3" cy="342.6" fill="#6dd870"/>
<circle cx="298.5" cy="269.3" fill="#8fe555"/>
<circle cx="207.7" cy="195.9" fill="#52c684"/>
<circle cx="260.8" cy="401.9" fill="#40a68d"/>
<circle cx="169.9" cy="328.5" fill="#3a6c8d"/>
<circle cx="487.7" cy="387.3" fill="#5fd27b"/>
<circle cx="396.8" cy="313.9" fill="#72da6c"/>
<circle cx="306" cy="240.5" fill="#6bd771"/>
<circle cx="215.2" cy="167.1" fill="#55cb83"/>
<circle cx="268.3" cy="373.1" fill="#5dd17d"/>
<circle cx="177.4" cy="299.7" fill="#3a828e"/>
<circle cx="495.3" cy="358.5" fill="#59cf80"/>
<circle cx="404.4" cy="285.1" fill="#6bd771"/>
<circle cx="313.6" cy="211.7" fill="#77dc67"/>
<circle cx="366.7" cy="417.8" fill="#3da08e"/>
<circle cx="275.8" cy="344.4" fill="#51c485"/>
<circle cx="184.9" cy="270.9" fill="#3d9f8e"/>
<circle cx="502.9" cy="329.8" fill="#53c884"/>
<circle cx="94" cy="197.4" fill="#52c684"/>
<circle cx="412" cy="256.3" fill="#62d379"/>
<circle cx="321.1" cy="182.8" fill="#63d478"/>
<circle cx="147.2" cy="403.6" fill="#3a898e"/>
<circle cx="374.3" cy="389" fill="#50c385"/>
<circle cx="283.4" cy="315.6" fill="#61d379"/>
<circle cx="192.5" cy="242.1" fill="#42ab8c"/>
<circle cx="510.5" cy="301" fill="#57ce82"/>
<circle cx="101.5" cy="168.6" fill="#5bd07e"/>
<circle cx="419.6" cy="227.5" fill="#54c983"/>
<circle cx="154.7" cy="374.9" fill="#3c998e"/>
<circle cx="381.9" cy="360.3" fill="#68d574"/>
<circle cx="290.9" cy="286.8" fill="#61d379"/>
<circle cx="200" cy="213.3" fill="#4dbe86"/>
<circle cx="427.2" cy="198.7" fill="#64d477"/>
<circle cx="253.2" cy="419.6" fill="#47b38a"/>
<circle cx="162.2" cy="346.1" fill="#3a828e"/>
<circle cx="480.4" cy="405" fill="#6cd770"/>
<circle cx="389.5" cy="331.5" fill="#69d673"/>
<circle cx="298.5" cy="257.9" fill="#72da6c"/>
<circle cx="207.5" cy="184.4" fill="#53c884"/>
<circle cx="260.7" cy="390.8" fill="#46b28a"/>
<circle cx="169.7" cy="317.3" fill="#3e588a"/>
<circle cx="488.1" cy="376.2" fill="#71d96d"/>
<circle cx="397.1" cy="302.7" fill="#63d478"/>
<circle cx="306.1" cy="229.1" fill="#6dd86f"/>
<circle cx="268.3" cy="362" fill="#4ab988"/>
<circle cx="177.2" cy="288.4" fill="#3a838e"/>
<circle cx="495.7" cy="347.4" fill="#5ed27c"/>
<circle cx="404.7" cy="273.8" fill="#74db6a"/>
<circle cx="313.6" cy="200.2" fill="#5cd17d"/>
<circle cx="366.9" cy="406.8" fill="#3fa58e"/>
<circle cx="275.8" cy="333.2" fill="#55cd82"/>
<circle cx="184.7" cy="259.6" fill="#3fa48e"/>
<circle cx="503.4" cy="318.6" fill="#54c983"/>
<circle cx="93.6" cy="186" fill="#56cd82"/>
<circle cx="412.3" cy="245" fill="#54ca83"/>
<circle cx="321.2" cy="171.3" fill="#48b489"/>
<circle cx="146.9" cy="392.6" fill="#3b8a8e"/>
<circle cx="374.5" cy="378" fill="#60d27a"/>
<circle cx="283.4" cy="304.3" fill="#4ab988"/>
<circle cx="192.3" cy="230.7" fill="#47b389"/>
<circle cx="511" cy="289.7" fill="#4dbd87"/>
<circle cx="419.9" cy="216.1" fill="#51c585"/>
<circle cx="154.4" cy="363.8" fill="#3b8e8e"/>
<circle cx="473.2" cy="422.8" fill="#66d575"/>
<circle cx="382.1" cy="349.1" fill="#5cd17d"/>
<circle cx="290.9" cy="275.5" fill="#6cd870"/>
<circle cx="199.8" cy="201.8" fill="#50c385"/>
<circle cx="427.5" cy="187.2" fill="#64d477"/>
<circle cx="253.1" cy="408.6" fill="#45af8b"/>
<circle cx="161.9" cy="334.9" fill="#397d8e"/>
<circle cx="480.9" cy="393.9" fill="#5bd07e"/>
<circle cx="389.7" cy="320.3" fill="#6cd770"/>
<circle cx="298.5" cy="246.6" fill="#63d477"/>
<circle cx="207.3" cy="172.9" fill="#4fc186"/>
<circle cx="260.7" cy="379.7" fill="#4bb988"/>
<circle cx="169.5" cy="306" fill="#3a6c8d"/>
<circle cx="488.5" cy="365.1" fill="#5cd17d"/>
<circle cx="397.3" cy="291.4" fill="#7cde64"/>
<circle cx="306.1" cy="217.7" fill="#5ed17c"/>
<circle cx="359.4" cy="424.6" fill="#3b8e8e"/>
<circle cx="268.2" cy="350.9" fill="#45b08b"/>
<circle cx="177" cy="277.1" fill="#3c938e"/>
<circle cx="496.2" cy="336.2" fill="#5cd07e"/>
<circle cx="404.9" cy="262.5" fill="#72da6b"/>
<circle cx="313.7" cy="188.7" fill="#4ab788"/>
<circle cx="367.1" cy="395.7" fill="#51c485"/>
<circle cx="275.8" cy="322" fill="#58cf80"/>
<circle cx="184.5" cy="248.2" fill="#3d9e8e"/>
<circle cx="503.8" cy="307.3" fill="#58cf81"/>
<circle cx="412.5" cy="233.6" fill="#59cf80"/>
<circle cx="374.7" cy="366.8" fill="#5ed17c"/>
<circle cx="283.4" cy="293.1" fill="#4dbe86"/>
<circle cx="192.1" cy="219.3" fill="#48b589"/>
<circle cx="511.5" cy="278.4" fill="#52c784"/>
<circle cx="420.2" cy="204.6" fill="#58cf80"/>
<circle cx="245.5" cy="426.4" fill="#3c9a8e"/>
<circle cx="154.1" cy="352.6" fill="#3a878e"/>
<circle cx="473.6" cy="411.7" fill="#63d478"/>
<circle cx="382.3" cy="337.9" fill="#67d575"/>
<circle cx="291" cy="264.1" fill="#50c385"/>
<circle cx="199.6" cy="190.3" fill="#4bb988"/>
<circle cx="427.8" cy="175.6" fill="#6ad672"/>
<circle cx="253" cy="397.5" fill="#47b28a"/>
<circle cx="161.7" cy="323.7" fill="#3b688c"/>
<circle cx="481.3" cy="382.9" fill="#5ad07f"/>
<circle cx="389.9" cy="309" fill="#6cd770"/>
<circle cx="298.5" cy="235.2" fill="#64d476"/>
<circle cx="260.6" cy="368.6" fill="#45af8b"/>
<circle cx="169.2" cy="294.7" fill="#39718e"/>
<circle cx="488.9" cy="353.9" fill="#62d378"/>
<circle cx="397.5" cy="280.1" fill="#6ed86e"/>
<circle cx="306.1" cy="206.2" fill="#4fc186"/>
<circle cx="359.6" cy="413.5" fill="#40a58d"/>
<circle cx="268.2" cy="339.7" fill="#3fa48e"/>
<circle cx="176.8" cy="265.8" fill="#3b918e"/>
<circle cx="496.6" cy="325" fill="#61d379"/>
<circle cx="405.2" cy="251.1" fill="#6bd771"/>
<circle cx="313.7" cy="177.2" fill="#4ab888"/>
<circle cx="367.2" cy="384.6" fill="#6ad672"/>
<circle cx="275.8" cy="310.7" fill="#4bb988"/>
<circle cx="184.3" cy="236.8" fill="#42ab8c"/>
<circle cx="504.3" cy="296" fill="#55cc82"/>
<circle cx="412.8" cy="222.1" fill="#5fd27b"/>
<circle cx="466.3" cy="429.6" fill="#55cc83"/>
<circle cx="374.8" cy="355.7" fill="#5dd17d"/>
<circle cx="283.4" cy="281.7" fill="#47b389"/>
<circle cx="191.9" cy="207.8" fill="#44ae8b"/>
<circle cx="511.9" cy="267.1" fill="#4cbc87"/>
<circle cx="420.5" cy="193.1" fill="#51c485"/>
<circle cx="245.4" cy="415.4" fill="#3d9f8e"/>
<circle cx="153.8" cy="341.4" fill="#3a888e"/>
<circle cx="474" cy="400.7" fill="#6ad772"/>
<circle cx="382.5" cy="326.7" fill="#6fd86e"/>
<circle cx="291" cy="252.7" fill="#51c585"/>
<circle cx="199.4" cy="178.8" fill="#43ab8c"/>
<circle cx="252.9" cy="386.4" fill="#41a78d"/>
<circle cx="161.4" cy="312.4" fill="#47176c"/>
<circle cx="481.7" cy="371.7" fill="#74db6a"/>
<circle cx="390.1" cy="297.7" fill="#69d672"/>
<circle cx="298.6" cy="223.7" fill="#4ab988"/>
<circle cx="352.1" cy="431.4" fill="#3d9f8e"/>
<circle cx="260.5" cy="357.4" fill="#3da08e"/>
<circle cx="169" cy="283.4" fill="#39718e"/>
<circle cx="489.3" cy="342.7" fill="#6cd770"/>
<circle cx="397.8" cy="268.7" fill="#5ed27b"/>
<circle cx="306.2" cy="194.7" fill="#45af8b"/>
<circle cx="359.7" cy="402.5" fill="#4cbd87"/>
<circle cx="268.1" cy="328.4" fill="#3c988e"/>
<circle cx="176.5" cy="254.4" fill="#3c988e"/>
<circle cx="497" cy="313.7" fill="#68d674"/>
<circle cx="405.4" cy="239.7" fill="#64d477"/>
<circle cx="367.4" cy="373.5" fill="#56cd82"/>
<circle cx="275.7" cy="299.4" fill="#44ae8b"/>
<circle cx="184.1" cy="225.3" fill="#3da08e"/>
<circle cx="504.7" cy="284.7" fill="#51c585"/>
<circle cx="413.1" cy="210.6" fill="#53c983"/>
<circle cx="237.7" cy="433.3" fill="#3b918e"/>
<circle cx="466.7" cy="418.5" fill="#56cd82"/>
<circle cx="375" cy="344.5" fill="#52c784"/>
<circle cx="283.4" cy="270.4" fill="#41a98c"/>
<circle cx="191.7" cy="196.3" fill="#46b18a"/>
<circle cx="512.4" cy="255.6" fill="#4bba87"/>
<circle cx="420.7" cy="181.5" fill="#52c684"/>
<circle cx="245.3" cy="404.3" fill="#3d9c8e"/>
<circle cx="474.4" cy="389.5" fill="#68d674"/>
<circle cx="382.7" cy="315.4" fill="#72da6b"/>
<circle cx="291" cy="241.3" fill="#48b489"/>
<circle cx="252.9" cy="375.2" fill="#3ea28e"/>
<circle cx="161.1" cy="301.1" fill="#397d8e"/>
<circle cx="482.1" cy="360.5" fill="#56ce82"/>
<circle cx="390.3" cy="286.4" fill="#7add65"/>
<circle cx="298.6" cy="212.2" fill="#47b38a"/>
<circle cx="352.3" cy="420.4" fill="#3d9e8e"/>
<circle cx="260.5" cy="346.2" fill="#3b8b8e"/>
<circle cx="168.7" cy="272" fill="#3a858e"/>
<circle cx="489.8" cy="331.5" fill="#6ed86f"/>
<circle cx="398" cy="257.3" fill="#5dd17d"/>
<circle cx="306.2" cy="183.1" fill="#40a58d"/>
<circle cx="359.9" cy="391.3" fill="#b0e944"/>
<circle cx="268.1" cy="317.1" fill="#3da28e"/>
<circle cx="176.3" cy="242.9" fill="#3c988e"/>
<circle cx="497.5" cy="302.4" fill="#62d379"/>
<circle cx="405.7" cy="228.2" fill="#60d27a"/>
<circle cx="459.4" cy="436.5" fill="#54ca83"/>
<circle cx="367.6" cy="362.3" fill="#47b38a"/>
<circle cx="275.7" cy="288.1" fill="#3d9f8e"/>
<circle cx="183.9" cy="213.8" fill="#3d9f8e"/>
<circle cx="505.2" cy="273.3" fill="#54ca83"/>
<circle cx="413.3" cy="199.1" fill="#53c984"/>
<circle cx="237.6" cy="422.2" fill="#3a838e"/>
<circle cx="467.1" cy="407.4" fill="#64d477"/>
<circle cx="375.2" cy="333.2" fill="#53c884"/>
<circle cx="283.3" cy="258.9" fill="#3fa58e"/>
<circle cx="191.5" cy="184.7" fill="#40a68d"/>
<circle cx="512.9" cy="244.2" fill="#53c983"/>
<circle cx="245.2" cy="393.1" fill="#3c978e"/>
<circle cx="474.8" cy="378.4" fill="#6dd870"/>
<circle cx="382.9" cy="304.1" fill="#6bd771"/>
<circle cx="291" cy="229.8" fill="#49b689"/>
<circle cx="344.7" cy="438.3" fill="#3b8e8e"/>
<circle cx="252.8" cy="364" fill="#3b908e"/>
<circle cx="482.5" cy="349.3" fill="#66d575"/>
<circle cx="390.6" cy="275" fill="#5ed17c"/>
<circle cx="298.6" cy="200.7" fill="#45ae8b"/>
<circle cx="352.4" cy="409.2" fill="#42a98c"/>
<circle cx="260.4" cy="334.9" fill="#3a8a8e"/>
<circle cx="168.5" cy="260.6" fill="#3b8c8e"/>
<circle cx="490.2" cy="320.2" fill="#60d27a"/>
<circle cx="398.2" cy="245.8" fill="#5ad07f"/>
<circle cx="360.1" cy="380.1" fill="#4ebf86"/>
<circle cx="268.1" cy="305.8" fill="#3d9f8e"/>
<circle cx="176.1" cy="231.4" fill="#3d9c8e"/>
<circle cx="497.9" cy="291" fill="#55cc83"/>
<circle cx="405.9" cy="216.7" fill="#50c385"/>
<circle cx="229.8" cy="440.2" fill="#3a868e"/>
<circle cx="459.7" cy="425.4" fill="#56ce82"/>
<circle cx="367.7" cy="351" fill="#46b18a"/>
<circle cx="275.7" cy="276.6" fill="#3c948e"/>
<circle cx="183.7" cy="202.3" fill="#3da18e"/>
<circle cx="505.6" cy="261.9" fill="#58cf80"/>
<circle cx="413.6" cy="187.5" fill="#4fc286"/>
<circle cx="237.5" cy="411.1" fill="#3b908e"/>
<circle cx="467.5" cy="396.3" fill="#66d575"/>
<circle cx="375.4" cy="321.9" fill="#4fc285"/>
<circle cx="283.3" cy="247.5" fill="#41a88d"/>
<circle cx="513.4" cy="232.7" fill="#53c884"/>
<circle cx="245.1" cy="381.9" fill="#3a838e"/>
<circle cx="475.2" cy="367.1" fill="#5fd27b"/>
<circle cx="383.1" cy="292.7" fill="#68d574"/>
<circle cx="291" cy="218.3" fill="#46b18a"/>
<circle cx="344.9" cy="427.2" fill="#3d9f8e"/>
<circle cx="252.7" cy="352.8" fill="#39718e"/>
<circle cx="482.9" cy="338" fill="#5ad07f"/>
<circle cx="390.8" cy="263.5" fill="#52c784"/>
<circle cx="298.6" cy="189.1" fill="#3c9a8e"/>
<circle cx="352.5" cy="398.1" fill="#4bba88"/>
<circle cx="260.4" cy="323.6" fill="#3b928e"/>
<circle cx="490.6" cy="308.8" fill="#66d576"/>
<circle cx="398.5" cy="234.3" fill="#4cbc87"/>
<circle cx="452.4" cy="443.4" fill="#5ad07f"/>
<circle cx="360.2" cy="368.9" fill="#44ad8b"/>
<circle cx="268" cy="294.4" fill="#3c988e"/>
<circle cx="175.8" cy="219.9" fill="#3c968e"/>
<circle cx="498.4" cy="279.6" fill="#54ca83"/>
<circle cx="406.2" cy="205.1" fill="#4dbd87"/>
<circle cx="229.7" cy="429.1" fill="#3b6a8d"/>
<circle cx="460.1" cy="414.3" fill="#64d476"/>
<circle cx="367.9" cy="339.7" fill="#3da18e"/>
<circle cx="275.7" cy="265.2" fill="#3c958e"/>
<circle cx="183.4" cy="190.7" fill="#3ea38e"/>
<circle cx="506.1" cy="250.4" fill="#61d379"/>
<circle cx="237.4" cy="399.9" fill="#39758e"/>
<circle cx="467.8" cy="385.1" fill="#69d673"/>
<circle cx="375.6" cy="310.5" fill="#51c485"/>
<circle cx="283.3" cy="236" fill="#40a58d"/>
<circle cx="513.9" cy="221.1" fill="#4fc186"/>
<circle cx="337.3" cy="445.3" fill="#3c9a8e"/>
<circle cx="245" cy="370.7" fill="#397c8e"/>
<circle cx="475.6" cy="355.9" fill="#54cb83"/>
<circle cx="383.3" cy="281.3" fill="#51c585"/>
<circle cx="291" cy="206.7" fill="#3fa48e"/>
<circle cx="345" cy="416.1" fill="#3c9a8e"/>
<circle cx="252.7" cy="341.5" fill="#3a6e8d"/>
<circle cx="483.3" cy="326.7" fill="#5ad07f"/>
<circle cx="391" cy="252" fill="#44ad8b"/>
<circle cx="352.7" cy="386.9" fill="#4ab788"/>
<circle cx="260.3" cy="312.2" fill="#3b8e8e"/>
<circle cx="491.1" cy="297.4" fill="#64d477"/>
<circle cx="398.7" cy="222.8" fill="#4bba88"/>
<circle cx="452.7" cy="432.3" fill="#57cf81"/>
<circle cx="360.4" cy="357.6" fill="#3d9b8e"/>
<circle cx="268" cy="283" fill="#3c978e"/>
<circle cx="175.6" cy="208.3" fill="#3d9e8e"/>
<circle cx="498.8" cy="268.1" fill="#57cf81"/>
<circle cx="406.4" cy="193.5" fill="#45b08a"/>
<circle cx="229.6" cy="417.9" fill="#3b6b8d"/>
<circle cx="460.5" cy="403.1" fill="#62d379"/>
<circle cx="368.1" cy="328.4" fill="#3ea28e"/>
<circle cx="275.6" cy="253.7" fill="#3c988e"/>
<circle cx="506.6" cy="238.9" fill="#51c585"/>
<circle cx="237.3" cy="388.7" fill="#3a6f8d"/>
<circle cx="468.2" cy="373.8" fill="#5ad07f"/>
<circle cx="375.8" cy="299.1" fill="#4fc285"/>
<circle cx="283.3" cy="224.4" fill="#44ad8b"/>
<circle cx="514.3" cy="209.5" fill="#5ed17c"/>
<circle cx="337.4" cy="434.1" fill="#3ea38e"/>
<circle cx="244.9" cy="359.4" fill="#397b8e"/>
<circle cx="476" cy="344.6" fill="#5ed27c"/>
<circle cx="383.5" cy="269.8" fill="#4cbc87"/>
<circle cx="291" cy="195.1" fill="#3ea38e"/>
<circle cx="345.1" cy="404.9" fill="#43ac8b"/>
<circle cx="252.6" cy="330.1" fill="#397a8e"/>
<circle cx="483.7" cy="315.3" fill="#53c984"/>
<circle cx="391.2" cy="240.5" fill="#47b28a"/>
<circle cx="445.3" cy="450.4" fill="#4cbb87"/>
<circle cx="352.8" cy="375.6" fill="#3da08e"/>
<circle cx="260.3" cy="300.8" fill="#3b8e8e"/>
<circle cx="491.5" cy="286" fill="#6ed86e"/>
<circle cx="398.9" cy="211.2" fill="#41a88d"/>
<circle cx="453.1" cy="421.1" fill="#5cd17d"/>
<circle cx="360.5" cy="346.3" fill="#3b908e"/>
<circle cx="267.9" cy="271.5" fill="#3c978e"/>
<circle cx="499.3" cy="256.6" fill="#64d477"/>
<circle cx="460.8" cy="391.8" fill="#5ad07f"/>
<circle cx="368.2" cy="317" fill="#3da18e"/>
<circle cx="275.6" cy="242.1" fill="#3d9e8e"/>
<circle cx="507" cy="227.3" fill="#55cd82"/>
<circle cx="329.8" cy="452.3" fill="#3b8d8e"/>
<circle cx="237.2" cy="377.4" fill="#3b678c"/>
<circle cx="468.6" cy="362.5" fill="#5cd17d"/>
<circle cx="376" cy="287.7" fill="#44ad8b"/>
<circle cx="283.3" cy="212.8" fill="#3fa48e"/>
<circle cx="514.8" cy="197.9" fill="#53c884"/>
<circle cx="337.5" cy="423" fill="#3da08e"/>
<circle cx="244.8" cy="348.1" fill="#3e5a8a"/>
<circle cx="476.4" cy="333.2" fill="#57cf81"/>
<circle cx="383.7" cy="258.3" fill="#47b28a"/>
<circle cx="345.2" cy="393.6" fill="#42aa8c"/>
<circle cx="252.5" cy="318.7" fill="#3a6f8d"/>
<circle cx="484.1" cy="303.8" fill="#56ce82"/>
<circle cx="391.4" cy="228.9" fill="#3fa48e"/>
<circle cx="445.7" cy="439.3" fill="#5bd07e"/>
<circle cx="352.9" cy="364.3" fill="#3b908e"/>
<circle cx="260.2" cy="289.4" fill="#3b8c8e"/>
<circle cx="491.9" cy="274.5" fill="#78dc67"/>
<circle cx="399.2" cy="199.5" fill="#45b08a"/>
<circle cx="453.4" cy="409.9" fill="#5ed17c"/>
<circle cx="360.7" cy="334.9" fill="#3b8d8e"/>
<circle cx="267.9" cy="260" fill="#3c9a8e"/>
<circle cx="499.7" cy="245.1" fill="#5ad07f"/>
<circle cx="461.2" cy="380.6" fill="#55cc83"/>
<circle cx="368.4" cy="305.6" fill="#3c978e"/>
<circle cx="275.6" cy="230.5" fill="#3da08e"/>
<circle cx="507.5" cy="215.6" fill="#53c884"/>
<circle cx="329.9" cy="441.1" fill="#3b8d8e"/>
<circle cx="237" cy="366.1" fill="#3a6d8d"/>
<circle cx="469" cy="351.2" fill="#5ad07f"/>
<circle cx="376.2" cy="276.2" fill="#4ebf86"/>
<circle cx="283.3" cy="201.1" fill="#3c968e"/>
<circle cx="337.6" cy="411.7" fill="#41a98c"/>
<circle cx="244.7" cy="336.7" fill="#3c648c"/>
<circle cx="476.8" cy="321.8" fill="#53c884"/>
<circle cx="383.9" cy="246.7" fill="#3c978e"/>
<circle cx="438.2" cy="457.4" fill="#48b589"/>
<circle cx="345.3" cy="382.4" fill="#3c948e"/>
<circle cx="252.4" cy="307.3" fill="#397c8e"/>
<circle cx="484.6" cy="292.4" fill="#5ed17c"/>
<circle cx="391.7" cy="217.3" fill="#3da08e"/>
<circle cx="446" cy="428.1" fill="#54ca83"/>
<circle cx="353.1" cy="353" fill="#3a878e"/>
<circle cx="260.1" cy="277.8" fill="#3c948e"/>
<circle cx="492.4" cy="262.9" fill="#59cf80"/>
<circle cx="453.8" cy="398.7" fill="#54cb83"/>
<circle cx="360.8" cy="323.5" fill="#3b8f8e"/>
<circle cx="267.9" cy="248.4" fill="#3c968e"/>
<circle cx="500.2" cy="233.5" fill="#54ca83"/>
<circle cx="322.2" cy="459.3" fill="#3a848e"/>
<circle cx="461.6" cy="369.2" fill="#53c884"/>
<circle cx="368.6" cy="294.1" fill="#3fa58e"/>
<circle cx="275.6" cy="218.9" fill="#3ea38e"/>
<circle cx="508" cy="204" fill="#55cd82"/>
<circle cx="330" cy="429.9" fill="#3b8f8e"/>
<circle cx="469.4" cy="339.8" fill="#55cc83"/>
<circle cx="376.3" cy="264.6" fill="#3ea28e"/>
<circle cx="337.7" cy="400.5" fill="#3b8f8e"/>
<circle cx="244.6" cy="325.3" fill="#3a708d"/>
<circle cx="477.2" cy="310.3" fill="#58cf80"/>
<circle cx="384.1" cy="235.1" fill="#3d9e8e"/>
<circle cx="438.6" cy="446.3" fill="#41a98c"/>
<circle cx="345.5" cy="371" fill="#3b8e8e"/>
<circle cx="252.4" cy="295.8" fill="#3a8a8e"/>
<circle cx="485" cy="280.8" fill="#50c485"/>
<circle cx="391.9" cy="205.6" fill="#41a78d"/>
<circle cx="446.4" cy="416.8" fill="#b0e944"/>
<circle cx="353.2" cy="341.6" fill="#38798e"/>
<circle cx="260.1" cy="266.3" fill="#3b8d8e"/>
<circle cx="492.8" cy="251.3" fill="#6cd870"/>
<circle cx="454.2" cy="387.4" fill="#4fc186"/>
<circle cx="361" cy="312.1" fill="#3a858e"/>
<circle cx="267.8" cy="236.8" fill="#3da18e"/>
<circle cx="500.6" cy="221.8" fill="#53c884"/>
<circle cx="322.3" cy="448.1" fill="#38778e"/>
<circle cx="462" cy="357.9" fill="#4bba88"/>
<circle cx="368.8" cy="282.5" fill="#3d9c8e"/>
<circle cx="275.5" cy="207.2" fill="#3d9d8e"/>
<circle cx="330.1" cy="418.7" fill="#3a848e"/>
<circle cx="469.8" cy="328.4" fill="#52c784"/>
<circle cx="376.5" cy="253" fill="#3c9b8e"/>
<circle cx="431.1" cy="464.5" fill="#3fa58e"/>
<circle cx="337.8" cy="389.2" fill="#39808e"/>
<circle cx="477.6" cy="298.8" fill="#52c684"/>
<circle cx="384.3" cy="223.4" fill="#3da08e"/>
<circle cx="438.9" cy="435" fill="#4fc186"/>
<circle cx="345.6" cy="359.6" fill="#39798e"/>
<circle cx="252.3" cy="284.2" fill="#397f8e"/>
<circle cx="485.4" cy="269.3" fill="#55cc83"/>
<circle cx="446.7" cy="405.5" fill="#5bd07e"/>
<circle cx="353.4" cy="330.1" fill="#397d8e"/>
<circle cx="260" cy="254.7" fill="#3c9a8e"/>
<circle cx="493.2" cy="239.7" fill="#4ebf86"/>
<circle cx="314.6" cy="466.4" fill="#38768e"/>
<circle cx="454.5" cy="376" fill="#4dbe87"/>
<circle cx="361.1" cy="300.5" fill="#3b8a8e"/>
<circle cx="267.8" cy="225.1" fill="#3ea38e"/>
<circle cx="501.1" cy="210.1" fill="#4ab988"/>
<circle cx="322.4" cy="436.9" fill="#38798e"/>
<circle cx="462.3" cy="346.4" fill="#4dbe87"/>
<circle cx="368.9" cy="271" fill="#3da08e"/>
<circle cx="330.2" cy="407.4" fill="#3a868e"/>
<circle cx="470.2" cy="316.9" fill="#4ec086"/>
<circle cx="376.7" cy="241.3" fill="#3da18e"/>
<circle cx="431.4" cy="453.3" fill="#43ab8c"/>
<circle cx="337.9" cy="377.8" fill="#3a838e"/>
<circle cx="478" cy="287.3" fill="#4ec086"/>
<circle cx="384.5" cy="211.7" fill="#3d9e8e"/>
<circle cx="439.2" cy="423.8" fill="#53c884"/>
<circle cx="345.7" cy="348.2" fill="#397a8e"/>
<circle cx="485.8" cy="257.6" fill="#52c684"/>
<circle cx="447" cy="394.2" fill="#51c585"/>
<circle cx="353.5" cy="318.6" fill="#3b8b8e"/>
<circle cx="260" cy="243" fill="#3c988e"/>
<circle cx="493.7" cy="228" fill="#52c684"/>
<circle cx="314.7" cy="455.2" fill="#3a6d8d"/>
<circle cx="454.9" cy="364.6" fill="#40a78d"/>
<circle cx="361.3" cy="289" fill="#3c968e"/>
<circle cx="267.7" cy="213.3" fill="#3fa48e"/>
<circle cx="322.5" cy="425.6" fill="#3a6f8d"/>
<circle cx="462.7" cy="335" fill="#41a88d"/>
<circle cx="369.1" cy="259.3" fill="#3d9e8e"/>
<circle cx="423.9" cy="471.7" fill="#3c978e"/>
<circle cx="330.2" cy="396" fill="#397f8e"/>
<circle cx="470.6" cy="305.3" fill="#4ebf86"/>
<circle cx="376.9" cy="229.6" fill="#3ea28e"/>
<circle cx="431.7" cy="442.1" fill="#46b28a"/>
<circle cx="338" cy="366.4" fill="#38768e"/>
<circle cx="478.4" cy="275.7" fill="#47b389"/>
<circle cx="439.5" cy="412.5" fill="#4ab988"/>
<circle cx="345.8" cy="336.7" fill="#397a8e"/>
<circle cx="486.3" cy="246" fill="#54ca83"/>
<circle cx="447.4" cy="382.8" fill="#44ad8b"/>
<circle cx="353.7" cy="307.1" fill="#3b8d8e"/>
<circle cx="259.9" cy="231.3" fill="#3ea28e"/>
<circle cx="494.1" cy="216.2" fill="#48b589"/>
<circle cx="314.7" cy="444" fill="#3b6a8d"/>
<circle cx="455.2" cy="353.1" fill="#44ae8b"/>
<circle cx="361.5" cy="277.4" fill="#3c938e"/>
<circle cx="322.5" cy="414.3" fill="#38768e"/>
<circle cx="463.1" cy="323.4" fill="#46b08a"/>
<circle cx="369.3" cy="247.6" fill="#3fa48e"/>
<circle cx="424.2" cy="460.4" fill="#3c948e"/>
<circle cx="330.3" cy="384.6" fill="#39728e"/>
<circle cx="470.9" cy="293.7" fill="#45af8b"/>
<circle cx="377.1" cy="217.9" fill="#3da28e"/>
<circle cx="432" cy="430.8" fill="#46b28a"/>
<circle cx="338.2" cy="354.9" fill="#39728e"/>
<circle cx="478.8" cy="264" fill="#45af8b"/>
<circle cx="439.9" cy="401.1" fill="#3da18e"/>
<circle cx="346" cy="325.2" fill="#3b8a8e"/>
<circle cx="486.7" cy="234.2" fill="#47b389"/>
<circle cx="447.7" cy="371.4" fill="#3fa48e"/>
<circle cx="353.8" cy="295.5" fill="#3b908e"/>
<circle cx="455.6" cy="341.6" fill="#3c978e"/>
<circle cx="361.6" cy="265.7" fill="#3c978e"/>
<circle cx="416.6" cy="478.9" fill="#3b8f8e"/>
<circle cx="322.6" cy="402.9" fill="#38778e"/>
<circle cx="463.5" cy="311.9" fill="#3d9f8e"/>
<circle cx="369.5" cy="235.9" fill="#3fa48e"/>
<circle cx="424.5" cy="449.2" fill="#3c978e"/>
<circle cx="330.4" cy="373.2" fill="#3b698d"/>
<circle cx="471.3" cy="282.1" fill="#42a98c"/>
<circle cx="432.3" cy="419.4" fill="#42aa8c"/>
<circle cx="338.3" cy="343.4" fill="#39748e"/>
<circle cx="479.2" cy="252.3" fill="#44ad8b"/>
<circle cx="440.2" cy="389.7" fill="#3fa48e"/>
<circle cx="346.1" cy="313.6" fill="#3a898e"/>
<circle cx="487.1" cy="222.5" fill="#49b788"/>
<circle cx="448.1" cy="359.9" fill="#3b928e"/>
<circle cx="353.9" cy="283.8" fill="#3b8f8e"/>
<circle cx="456" cy="330.1" fill="#3c938e"/>
<circle cx="361.8" cy="254" fill="#3da08e"/>
<circle cx="416.9" cy="467.6" fill="#3b928e"/>
<circle cx="322.7" cy="391.5" fill="#3a6e8d"/>
<circle cx="463.8" cy="300.3" fill="#3d9f8e"/>
<circle cx="369.6" cy="224.1" fill="#3c968e"/>
<circle cx="424.8" cy="437.8" fill="#3c958e"/>
<circle cx="330.5" cy="361.7" fill="#39758e"/>
<circle cx="471.7" cy="270.4" fill="#3d9d8e"/>
<circle cx="432.6" cy="408" fill="#3c998e"/>
<circle cx="338.4" cy="331.9" fill="#3a828e"/>
<circle cx="479.6" cy="240.5" fill="#48b489"/>
<circle cx="440.5" cy="378.2" fill="#3b918e"/>
<circle cx="346.2" cy="302" fill="#3c988e"/>
<circle cx="448.4" cy="348.4" fill="#3a898e"/>
<circle cx="354.1" cy="272.1" fill="#3d9c8e"/>
<circle cx="409.3" cy="486.1" fill="#397c8e"/>
<circle cx="456.3" cy="318.5" fill="#3c998e"/>
<circle cx="361.9" cy="242.2" fill="#3d9e8e"/>
<circle cx="417.2" cy="456.3" fill="#397d8e"/>
<circle cx="464.2" cy="288.6" fill="#3d9e8e"/>
<circle cx="425.1" cy="426.5" fill="#3c988e"/>
<circle cx="330.6" cy="350.1" fill="#38778e"/>
<circle cx="472.1" cy="258.7" fill="#3d9f8e"/>
<circle cx="433" cy="396.6" fill="#3b908e"/>
<circle cx="338.5" cy="320.2" fill="#397e8e"/>
<circle cx="480.1" cy="228.7" fill="#3ea28e"/>
<circle cx="440.9" cy="366.7" fill="#3a878e"/>
<circle cx="346.4" cy="290.3" fill="#3b8d8e"/>
<circle cx="448.8" cy="336.8" fill="#3a898e"/>
<circle cx="354.2" cy="260.4" fill="#3fa58d"/>
<circle cx="409.5" cy="474.9" fill="#3a6b8d"/>
<circle cx="456.7" cy="306.8" fill="#3b918e"/>
<circle cx="362.1" cy="230.4" fill="#3d9f8e"/>
<circle cx="417.4" cy="445" fill="#3a848e"/>
<circle cx="464.6" cy="276.9" fill="#3ea38e"/>
<circle cx="425.4" cy="415" fill="#3b8f8e"/>
<circle cx="472.5" cy="246.9" fill="#3c998e"/>
<circle cx="433.3" cy="385.1" fill="#3c978e"/>
<circle cx="338.6" cy="308.6" fill="#3b8c8e"/>
<circle cx="441.2" cy="355.1" fill="#39808e"/>
<circle cx="346.5" cy="278.6" fill="#3c988e"/>
<circle cx="401.9" cy="493.5" fill="#3c668c"/>
<circle cx="449.1" cy="325.1" fill="#3a848e"/>
<circle cx="354.4" cy="248.6" fill="#3c968e"/>
<circle cx="409.8" cy="463.5" fill="#39758e"/>
<circle cx="457.1" cy="295.1" fill="#3b8d8e"/>
<circle cx="417.7" cy="433.6" fill="#3b908e"/>
<circle cx="465" cy="265.1" fill="#3d9d8e"/>
<circle cx="425.7" cy="403.6" fill="#3b8c8e"/>
<circle cx="472.9" cy="235" fill="#3d9f8e"/>
<circle cx="433.6" cy="373.5" fill="#3a848e"/>
<circle cx="441.5" cy="343.5" fill="#38788e"/>
<circle cx="346.6" cy="266.8" fill="#3d9b8e"/>
<circle cx="402.1" cy="482.1" fill="#3d608b"/>
<circle cx="449.5" cy="313.5" fill="#3a858e"/>
<circle cx="354.5" cy="236.7" fill="#3d9f8e"/>
<circle cx="410.1" cy="452.1" fill="#3a6f8d"/>
<circle cx="457.4" cy="283.4" fill="#3b8f8e"/>
<circle cx="418" cy="422.1" fill="#397b8e"/>
<circle cx="465.4" cy="253.3" fill="#3c978e"/>
<circle cx="426" cy="392" fill="#397d8e"/>
<circle cx="433.9" cy="362" fill="#39818e"/>
<circle cx="441.9" cy="331.8" fill="#39818e"/>
<circle cx="346.7" cy="255" fill="#3fa58e"/>
<circle cx="402.4" cy="470.8" fill="#3e598a"/>
<circle cx="449.8" cy="301.7" fill="#397f8e"/>
<circle cx="410.3" cy="440.7" fill="#39718e"/>
<circle cx="457.8" cy="271.6" fill="#3c948e"/>
<circle cx="418.3" cy="410.6" fill="#397a8e"/>
<circle cx="465.8" cy="241.4" fill="#3da18e"/>
<circle cx="426.3" cy="380.5" fill="#3b8b8e"/>
<circle cx="434.2" cy="350.3" fill="#397b8e"/>
<circle cx="442.2" cy="320.1" fill="#3a888e"/>
<circle cx="450.2" cy="289.9" fill="#3a898e"/>
<circle cx="410.6" cy="429.2" fill="#3a6f8d"/>
<circle cx="458.2" cy="259.7" fill="#3b8a8e"/>
<circle cx="418.6" cy="399" fill="#397b8e"/>
<circle cx="426.6" cy="368.8" fill="#38768e"/>
<circle cx="434.5" cy="338.6" fill="#3a838e"/>
<circle cx="442.5" cy="308.4" fill="#397a8e"/>
<circle cx="450.5" cy="278.1" fill="#3b8f8e"/>
<circle cx="410.9" cy="417.7" fill="#39718e"/>
<circle cx="458.5" cy="247.8" fill="#3c948e"/>
<circle cx="418.9" cy="387.4" fill="#3a6f8d"/>
<circle cx="426.9" cy="357.2" fill="#3a708e"/>
<circle cx="434.9" cy="326.9" fill="#38798e"/>
<circle cx="442.9" cy="296.5" fill="#3a858e"/>
<circle cx="450.9" cy="266.2" fill="#3a8a8e"/>
<circle cx="419.2" cy="375.8" fill="#38778e"/>
<circle cx="427.2" cy="345.4" fill="#39798e"/>
<circle cx="435.2" cy="315.1" fill="#3a828e"/>
<circle cx="443.2" cy="284.7" fill="#3b908e"/>
<circle cx="451.3" cy="254.3" fill="#3b8e8e"/>
<circle cx="427.5" cy="333.6" fill="#397c8e"/>
<circle cx="435.5" cy="303.2" fill="#3a868e"/>
<circle cx="443.6" cy="272.7" fill="#3b8f8e"/>
<circle cx="435.9" cy="291.3" fill="#3a898e"/>
<circle cx="443.9" cy="260.8" fill="#3c948e"/>
<circle cx="436.2" cy="279.3" fill="#39808e"/>
</g>
<defs><linearGradient id="ga" x1="0" y1="0" x2="0" y2="1"><stop offset="0" stop-color="#ecf252"/><stop offset="0.015" stop-color="#e8f255"/><stop offset="0.194" stop-color="#a3ea78"/><stop offset="0.343" stop-color="#78d89b"/><stop offset="0.491" stop-color="#64b4a5"/><stop offset="0.643" stop-color="#6092a5"/><stop offset="0.791" stop-color="#676ea0"/><stop offset="0.942" stop-color="#6c488c"/><stop offset="0.985" stop-color="#693980"/><stop offset="1" stop-color="#68347c"/></linearGradient></defs>
<rect x="611" y="124.2" width="14.3" height="351.7" fill="url(#ga)" stroke="#000" stroke-width="1.4"/>
<text class="ct" x="633.4" y="143.7" textLength="12.9" lengthAdjust="spacingAndGlyphs">40</text>
<text class="ct" x="633.4" y="196.4" textLength="12.9" lengthAdjust="spacingAndGlyphs">35</text>
<text class="ct" x="633.4" y="248.9" textLength="12.9" lengthAdjust="spacingAndGlyphs">30</text>
<text class="ct" x="633.4" y="300.9" textLength="12.9" lengthAdjust="spacingAndGlyphs">25</text>
<text class="ct" x="633.4" y="353.4" textLength="12.9" lengthAdjust="spacingAndGlyphs">20</text>
<text class="ct" x="633.4" y="405.5" textLength="12.9" lengthAdjust="spacingAndGlyphs">15</text>
<text class="ct" x="633.4" y="458.2" textLength="12.9" lengthAdjust="spacingAndGlyphs">10</text>
<path d="M626 140.1H629.6 M626 192.8H629.6 M626 245.3H629.6 M626 297.3H629.6 M626 349.8H629.6 M626 401.9H629.6 M626 454.6H629.6" stroke="#000" stroke-width="1"/>
<path d="M27.6 951.5 L163.6 845.5 L159.2 636.1 L17.3 732.5Z" fill="#f9f9f9" stroke="#f9f9f9" stroke-width="1"/>
<path d="M163.6 845.5 L529.2 950.6 L539.5 731.6 L159.2 636.1Z" fill="#f2f2f2" stroke="#f2f2f2" stroke-width="1"/>
<path d="M27.6 951.5 L409 1071.2 L529.2 950.6 L163.6 845.5Z" fill="#f5f5f5" stroke="#f5f5f5" stroke-width="1"/>
<path d="M50.4 958.7 L185.6 851.8 L182 641.8 M90 971.1 L223.6 862.7 L221.5 651.7 M130.1 983.7 L262.1 873.8 L261.5 661.8 M170.8 996.4 L301.2 885 L302.1 672 M212 1009.4 L340.7 896.4 L343.2 682.3 M253.9 1022.5 L380.9 907.9 L385 692.8 M296.4 1035.8 L421.5 919.6 L427.3 703.5 M339.5 1049.4 L462.7 931.5 L470.2 714.2 M383.2 1063.1 L504.5 943.5 L513.8 725.2 M26.9 726 L36.8 944.4 L417.2 1063 M44.2 714.2 L53.4 931.4 L431.9 1048.3 M61.3 702.6 L69.7 918.7 L446.3 1033.7 M78.1 691.2 L85.8 906.1 L460.6 1019.5 M94.7 679.9 L101.7 893.8 L474.6 1005.4 M111 668.9 L117.3 881.6 L488.4 991.5 M127.1 657.9 L132.8 869.5 L502 977.9 M142.9 647.2 L148 857.7 L515.4 964.5 M530.3 926.3 L163.2 822.2 L26.5 927.2 M531.6 898.9 L162.6 796 L25.2 899.8 M532.9 871.3 L162 769.5 L23.9 872.2 M534.2 843.3 L161.5 742.8 L22.6 844.2 M535.6 815.1 L160.9 715.8 L21.2 816 M536.9 786.6 L160.3 688.5 L19.9 787.4 M538.3 757.7 L159.7 661 L18.5 758.6" fill="none" stroke="#b4b4b4" stroke-width="1.6"/>
<path d="M27.6 951.5 L409 1071.2" fill="none" stroke="#000" stroke-width="1.9"/>
<path d="M529.2 950.6 L409 1071.2" fill="none" stroke="#000" stroke-width="1.9"/>
<path d="M529.2 950.6 L539.5 731.6" fill="none" stroke="#000" stroke-width="1.9"/>
<path d="M51.6 957.8 L48.1 960.5 M131.2 982.7 L127.8 985.6 M213.1 1008.4 L209.8 1011.3 M297.4 1034.8 L294.2 1037.8 M384.3 1062.1 L381.2 1065.1 M413.9 1062 L423.7 1065 M428.6 1047.3 L438.3 1050.3 M443.1 1032.8 L452.8 1035.7 M457.4 1018.5 L467 1021.4 M471.4 1004.4 L481 1007.3 M485.2 990.6 L494.7 993.4 M498.8 977 L508.3 979.7 M512.3 963.5 L521.6 966.3 M527.2 925.4 L536.6 928.1 M528.5 898.1 L537.9 900.7 M529.8 870.4 L539.2 873 M531 842.5 L540.6 845 M532.4 814.2 L541.9 816.8 M533.7 785.7 L543.3 788.2 M535 756.9 L544.7 759.4" fill="none" stroke="#000" stroke-width="1.8"/>
<text class="tk" x="44.5" y="982" textLength="32.3" lengthAdjust="spacingAndGlyphs">0.050</text>
<text class="tk" x="124.2" y="1007.2" textLength="32.3" lengthAdjust="spacingAndGlyphs">0.100</text>
<text class="tk" x="206.1" y="1033.1" textLength="32.3" lengthAdjust="spacingAndGlyphs">0.150</text>
<text class="tk" x="290.5" y="1059.8" textLength="32.3" lengthAdjust="spacingAndGlyphs">0.200</text>
<text class="tk" x="377.3" y="1087.3" textLength="32.3" lengthAdjust="spacingAndGlyphs">0.250</text>
<text class="tk" x="434.8" y="1087.2" textLength="14.4" lengthAdjust="spacingAndGlyphs">20</text>
<text class="tk" x="449.4" y="1072.3" textLength="14.4" lengthAdjust="spacingAndGlyphs">40</text>
<text class="tk" x="463.7" y="1057.7" textLength="14.4" lengthAdjust="spacingAndGlyphs">60</text>
<text class="tk" x="477.8" y="1043.2" textLength="14.4" lengthAdjust="spacingAndGlyphs">80</text>
<text class="tk" x="491.7" y="1029" textLength="21.6" lengthAdjust="spacingAndGlyphs">100</text>
<text class="tk" x="505.4" y="1015.1" textLength="21.6" lengthAdjust="spacingAndGlyphs">120</text>
<text class="tk" x="518.9" y="1001.3" textLength="21.6" lengthAdjust="spacingAndGlyphs">140</text>
<text class="tk" x="532.2" y="987.7" textLength="21.6" lengthAdjust="spacingAndGlyphs">160</text>
<text class="tk" x="552.4" y="935.3" textLength="21.6" lengthAdjust="spacingAndGlyphs">500</text>
<text class="tk" x="553.8" y="907.9" textLength="21.6" lengthAdjust="spacingAndGlyphs">750</text>
<text class="tk" x="555.2" y="880.2" textLength="28.8" lengthAdjust="spacingAndGlyphs">1000</text>
<text class="tk" x="556.7" y="852.3" textLength="28.8" lengthAdjust="spacingAndGlyphs">1250</text>
<text class="tk" x="558.1" y="824" textLength="28.8" lengthAdjust="spacingAndGlyphs">1500</text>
<text class="tk" x="559.6" y="795.5" textLength="28.8" lengthAdjust="spacingAndGlyphs">1750</text>
<text class="tk" x="561.1" y="766.7" textLength="28.8" lengthAdjust="spacingAndGlyphs">2000</text>
<g class="sc">
<circle cx="177.2" cy="845.3" fill="#45b08a"/>
<circle cx="177" cy="834.8" fill="#52c784"/>
<circle cx="169.8" cy="851.1" fill="#43ac8b"/>
<circle cx="176.9" cy="824.3" fill="#63d478"/>
<circle cx="169.5" cy="840.6" fill="#4fc186"/>
<circle cx="176.7" cy="813.7" fill="#72da6b"/>
<circle cx="162.2" cy="857.1" fill="#44ae8b"/>
<circle cx="169.3" cy="830.1" fill="#65d476"/>
<circle cx="176.5" cy="803.1" fill="#8be457"/>
<circle cx="162" cy="846.5" fill="#4bbb87"/>
<circle cx="169.1" cy="819.5" fill="#78dd66"/>
<circle cx="176.3" cy="792.5" fill="#92e553"/>
<circle cx="154.6" cy="863" fill="#42aa8c"/>
<circle cx="161.8" cy="836" fill="#6ed86f"/>
<circle cx="168.9" cy="808.9" fill="#86e25b"/>
<circle cx="176.1" cy="781.8" fill="#8be457"/>
<circle cx="154.4" cy="852.5" fill="#4dbd87"/>
<circle cx="161.5" cy="825.4" fill="#82e15e"/>
<circle cx="168.7" cy="798.2" fill="#91e554"/>
<circle cx="254.2" cy="867.3" fill="#46b18a"/>
<circle cx="175.9" cy="771.1" fill="#a9e848"/>
<circle cx="147" cy="869" fill="#3d9c8e"/>
<circle cx="154.1" cy="841.9" fill="#6ad772"/>
<circle cx="161.3" cy="814.7" fill="#8fe555"/>
<circle cx="168.5" cy="787.5" fill="#9ae64f"/>
<circle cx="254.1" cy="856.8" fill="#4ab988"/>
<circle cx="175.7" cy="760.3" fill="#a2e74b"/>
<circle cx="146.7" cy="858.4" fill="#4ab888"/>
<circle cx="153.9" cy="831.2" fill="#8ae458"/>
<circle cx="161.1" cy="804" fill="#8ce556"/>
<circle cx="246.9" cy="873.4" fill="#4ab888"/>
<circle cx="168.3" cy="776.8" fill="#a9e848"/>
<circle cx="254.1" cy="846.1" fill="#54cb83"/>
<circle cx="175.5" cy="749.5" fill="#a5e84a"/>
<circle cx="139.3" cy="875.1" fill="#3d9d8e"/>
<circle cx="146.4" cy="847.8" fill="#57cf81"/>
<circle cx="153.6" cy="820.6" fill="#90e554"/>
<circle cx="160.8" cy="793.3" fill="#b5e942"/>
<circle cx="246.8" cy="862.8" fill="#4ebf86"/>
<circle cx="168" cy="766" fill="#aae847"/>
<circle cx="254" cy="835.5" fill="#69d672"/>
<circle cx="175.3" cy="738.7" fill="#b8ea40"/>
<circle cx="139" cy="864.5" fill="#48b589"/>
<circle cx="146.2" cy="837.2" fill="#64d477"/>
<circle cx="153.4" cy="809.8" fill="#9ce74e"/>
<circle cx="239.5" cy="879.4" fill="#48b489"/>
<circle cx="160.6" cy="782.5" fill="#c3eb3a"/>
<circle cx="246.7" cy="852.1" fill="#63d478"/>
<circle cx="167.8" cy="755.1" fill="#b9ea3f"/>
<circle cx="254" cy="824.8" fill="#76dc68"/>
<circle cx="175.1" cy="727.8" fill="#b9ea40"/>
<circle cx="131.5" cy="881.2" fill="#3b918e"/>
<circle cx="138.7" cy="853.8" fill="#4ab888"/>
<circle cx="145.9" cy="826.5" fill="#71da6c"/>
<circle cx="153.2" cy="799.1" fill="#9fe74c"/>
<circle cx="239.4" cy="868.8" fill="#53c884"/>
<circle cx="160.4" cy="771.7" fill="#a8e848"/>
<circle cx="246.7" cy="841.4" fill="#70d96d"/>
<circle cx="167.6" cy="744.3" fill="#b4e942"/>
<circle cx="253.9" cy="814.1" fill="#7cde64"/>
<circle cx="174.9" cy="716.8" fill="#c0eb3c"/>
<circle cx="131.2" cy="870.5" fill="#41a78d"/>
<circle cx="138.4" cy="843.1" fill="#51c485"/>
<circle cx="145.7" cy="815.7" fill="#88e35a"/>
<circle cx="232.1" cy="885.6" fill="#45b08b"/>
<circle cx="152.9" cy="788.3" fill="#d3ed32"/>
<circle cx="239.3" cy="858.2" fill="#61d379"/>
<circle cx="160.1" cy="760.8" fill="#b8ea40"/>
<circle cx="246.6" cy="830.7" fill="#70d96d"/>
<circle cx="167.4" cy="733.4" fill="#b6ea41"/>
<circle cx="253.9" cy="803.3" fill="#97e650"/>
<circle cx="123.7" cy="887.3" fill="#3d9c8e"/>
<circle cx="174.6" cy="705.9" fill="#b2e943"/>
<circle cx="130.9" cy="859.9" fill="#4ab888"/>
<circle cx="138.2" cy="832.4" fill="#64d477"/>
<circle cx="145.4" cy="804.9" fill="#a1e74c"/>
<circle cx="232" cy="874.9" fill="#4ebf86"/>
<circle cx="152.7" cy="777.4" fill="#bfeb3c"/>
<circle cx="239.3" cy="847.4" fill="#73da6a"/>
<circle cx="159.9" cy="749.9" fill="#b0e944"/>
<circle cx="246.5" cy="820" fill="#7ddf62"/>
<circle cx="333.2" cy="890" fill="#3d9b8e"/>
<circle cx="167.2" cy="722.4" fill="#b2e943"/>
<circle cx="253.8" cy="792.4" fill="#8be457"/>
<circle cx="123.4" cy="876.6" fill="#3c9b8e"/>
<circle cx="174.4" cy="694.9" fill="#d7ed30"/>
<circle cx="130.6" cy="849.1" fill="#41a88d"/>
<circle cx="137.9" cy="821.6" fill="#73da6b"/>
<circle cx="224.6" cy="891.7" fill="#45ae8b"/>
<circle cx="145.1" cy="794.1" fill="#b6ea41"/>
<circle cx="231.9" cy="864.2" fill="#66d575"/>
<circle cx="152.4" cy="766.5" fill="#ace846"/>
<circle cx="239.2" cy="836.7" fill="#74db6a"/>
<circle cx="159.7" cy="739" fill="#b4e942"/>
<circle cx="246.5" cy="809.1" fill="#84e15d"/>
<circle cx="333.3" cy="879.3" fill="#3ea38e"/>
<circle cx="115.8" cy="893.5" fill="#3a898e"/>
<circle cx="167" cy="711.4" fill="#b4e942"/>
<circle cx="253.8" cy="781.6" fill="#95e652"/>
<circle cx="123.1" cy="865.9" fill="#3c978e"/>
<circle cx="174.2" cy="683.8" fill="#ccec36"/>
<circle cx="130.3" cy="838.4" fill="#4dbd87"/>
<circle cx="137.6" cy="810.8" fill="#8ae458"/>
<circle cx="224.5" cy="881.1" fill="#44ae8b"/>
<circle cx="144.9" cy="783.2" fill="#c0eb3c"/>
<circle cx="231.8" cy="853.5" fill="#72da6c"/>
<circle cx="152.2" cy="755.6" fill="#afe944"/>
<circle cx="239.1" cy="825.9" fill="#7fdf61"/>
<circle cx="326.1" cy="896.2" fill="#3b928e"/>
<circle cx="159.4" cy="728" fill="#a6e849"/>
<circle cx="246.4" cy="798.3" fill="#8ae458"/>
<circle cx="333.4" cy="868.6" fill="#4cbb87"/>
<circle cx="115.5" cy="882.8" fill="#3b8e8e"/>
<circle cx="166.7" cy="700.3" fill="#ade945"/>
<circle cx="253.7" cy="770.7" fill="#98e650"/>
<circle cx="122.8" cy="855.2" fill="#3c968e"/>
<circle cx="174" cy="672.7" fill="#cfec34"/>
<circle cx="130" cy="827.6" fill="#6ad772"/>
<circle cx="217.1" cy="898" fill="#41a78d"/>
<circle cx="137.3" cy="799.9" fill="#ade946"/>
<circle cx="224.4" cy="870.3" fill="#48b589"/>
<circle cx="144.6" cy="772.3" fill="#ade946"/>
<circle cx="231.7" cy="842.7" fill="#7ddf62"/>
<circle cx="151.9" cy="744.6" fill="#b2e943"/>
<circle cx="239" cy="815.1" fill="#8be457"/>
<circle cx="326.1" cy="885.5" fill="#48b589"/>
<circle cx="107.9" cy="899.7" fill="#397a8e"/>
<circle cx="159.2" cy="716.9" fill="#c2eb3b"/>
<circle cx="246.3" cy="787.4" fill="#8ce556"/>
<circle cx="333.5" cy="857.9" fill="#54ca83"/>
<circle cx="115.2" cy="872.1" fill="#3b928e"/>
<circle cx="166.5" cy="689.2" fill="#beeb3d"/>
<circle cx="253.7" cy="759.7" fill="#8be457"/>
<circle cx="122.4" cy="844.4" fill="#4bba88"/>
<circle cx="173.8" cy="661.5" fill="#e7ef27"/>
<circle cx="129.7" cy="816.7" fill="#7bde64"/>
<circle cx="216.9" cy="887.2" fill="#3c988e"/>
<circle cx="137" cy="789" fill="#a6e849"/>
<circle cx="224.3" cy="859.6" fill="#43ac8b"/>
<circle cx="144.3" cy="761.3" fill="#a3e74b"/>
<circle cx="231.6" cy="831.9" fill="#84e15d"/>
<circle cx="318.9" cy="902.4" fill="#3c998e"/>
<circle cx="151.7" cy="733.6" fill="#9de74e"/>
<circle cx="238.9" cy="804.2" fill="#a0e74c"/>
<circle cx="326.2" cy="874.8" fill="#45af8b"/>
<circle cx="107.5" cy="889" fill="#3a848e"/>
<circle cx="159" cy="705.9" fill="#a4e84a"/>
<circle cx="246.3" cy="776.5" fill="#92e553"/>
<circle cx="333.6" cy="847.1" fill="#61d379"/>
<circle cx="114.8" cy="861.3" fill="#3c938e"/>
<circle cx="166.3" cy="678.1" fill="#aee945"/>
<circle cx="253.6" cy="748.7" fill="#92e553"/>
<circle cx="122.1" cy="833.6" fill="#53c884"/>
<circle cx="209.5" cy="904.2" fill="#43ab8c"/>
<circle cx="129.4" cy="805.8" fill="#9ce74e"/>
<circle cx="216.8" cy="876.5" fill="#3c998e"/>
<circle cx="136.8" cy="778.1" fill="#94e652"/>
<circle cx="224.2" cy="848.8" fill="#46b08a"/>
<circle cx="144.1" cy="750.3" fill="#88e359"/>
<circle cx="231.5" cy="821" fill="#93e653"/>
<circle cx="319" cy="891.7" fill="#45af8b"/>
<circle cx="99.9" cy="906" fill="#397f8e"/>
<circle cx="151.4" cy="722.5" fill="#a8e848"/>
<circle cx="238.9" cy="793.3" fill="#99e650"/>
<circle cx="326.3" cy="864" fill="#57cf82"/>
<circle cx="107.2" cy="878.2" fill="#3a8a8e"/>
<circle cx="158.7" cy="694.7" fill="#9ee74d"/>
<circle cx="246.2" cy="765.5" fill="#97e651"/>
<circle cx="333.7" cy="836.2" fill="#66d576"/>
<circle cx="114.5" cy="850.5" fill="#40a68d"/>
<circle cx="166.1" cy="666.9" fill="#b2e943"/>
<circle cx="253.6" cy="737.7" fill="#9de74e"/>
<circle cx="121.8" cy="822.7" fill="#68d574"/>
<circle cx="209.4" cy="893.5" fill="#3a858e"/>
<circle cx="129.1" cy="794.9" fill="#97e651"/>
<circle cx="216.7" cy="865.7" fill="#3b928e"/>
<circle cx="136.5" cy="767.1" fill="#a2e74b"/>
<circle cx="224.1" cy="837.9" fill="#57ce82"/>
<circle cx="311.7" cy="908.7" fill="#3d9c8e"/>
<circle cx="143.8" cy="739.3" fill="#71d96c"/>
<circle cx="231.4" cy="810.1" fill="#88e35a"/>
<circle cx="319" cy="881" fill="#4ab888"/>
<circle cx="99.5" cy="895.2" fill="#397e8e"/>
<circle cx="151.1" cy="711.4" fill="#9de74e"/>
<circle cx="238.8" cy="782.3" fill="#92e553"/>
<circle cx="326.4" cy="853.2" fill="#64d476"/>
<circle cx="106.8" cy="867.4" fill="#39818e"/>
<circle cx="158.5" cy="683.6" fill="#9ae64f"/>
<circle cx="246.2" cy="754.4" fill="#94e652"/>
<circle cx="333.8" cy="825.3" fill="#75db69"/>
<circle cx="114.2" cy="839.6" fill="#49b788"/>
<circle cx="201.9" cy="910.5" fill="#3fa48e"/>
<circle cx="253.5" cy="726.6" fill="#b8ea40"/>
<circle cx="121.5" cy="811.8" fill="#8be457"/>
<circle cx="209.2" cy="882.7" fill="#38798e"/>
<circle cx="128.8" cy="783.9" fill="#98e650"/>
<circle cx="216.6" cy="854.9" fill="#3c998e"/>
<circle cx="136.2" cy="756.1" fill="#66d575"/>
<circle cx="224" cy="827" fill="#56ce82"/>
<circle cx="311.7" cy="898" fill="#3da08e"/>
<circle cx="91.8" cy="912.3" fill="#3a828e"/>
<circle cx="143.5" cy="728.2" fill="#5ad07f"/>
<circle cx="231.3" cy="799.2" fill="#a4e74a"/>
<circle cx="319.1" cy="870.1" fill="#54ca83"/>
<circle cx="99.2" cy="884.5" fill="#3b8c8e"/>
<circle cx="150.9" cy="700.3" fill="#95e652"/>
<circle cx="238.7" cy="771.3" fill="#9ae64f"/>
<circle cx="326.5" cy="842.3" fill="#6ad672"/>
<circle cx="414.4" cy="913.3" fill="#47b38a"/>
<circle cx="106.5" cy="856.6" fill="#3b908e"/>
<circle cx="158.3" cy="672.4" fill="#85e25c"/>
<circle cx="246.1" cy="743.4" fill="#a6e849"/>
<circle cx="333.9" cy="814.4" fill="#7dde63"/>
<circle cx="113.8" cy="828.7" fill="#58cf81"/>
<circle cx="201.7" cy="899.8" fill="#3c998e"/>
<circle cx="253.5" cy="715.5" fill="#d0ed34"/>
<circle cx="121.2" cy="800.8" fill="#b9ea3f"/>
<circle cx="209.1" cy="871.9" fill="#3a6c8d"/>
<circle cx="128.5" cy="772.9" fill="#89e359"/>
<circle cx="216.5" cy="844" fill="#3fa48e"/>
<circle cx="304.4" cy="915.1" fill="#3c988e"/>
<circle cx="135.9" cy="745" fill="#48b489"/>
<circle cx="223.8" cy="816.1" fill="#6bd771"/>
<circle cx="311.8" cy="887.2" fill="#4bba88"/>
<circle cx="91.4" cy="901.5" fill="#3a868e"/>
<circle cx="143.3" cy="717" fill="#4dbd87"/>
<circle cx="231.2" cy="788.2" fill="#9ce74e"/>
<circle cx="319.2" cy="859.3" fill="#58cf81"/>
<circle cx="98.8" cy="873.6" fill="#3a898e"/>
<circle cx="150.6" cy="689.1" fill="#7fdf61"/>
<circle cx="238.6" cy="760.2" fill="#9ae64f"/>
<circle cx="326.6" cy="831.4" fill="#72da6c"/>
<circle cx="414.6" cy="902.5" fill="#4dbe86"/>
<circle cx="106.2" cy="845.7" fill="#42ab8c"/>
<circle cx="194.2" cy="916.9" fill="#3ea28e"/>
<circle cx="246" cy="732.3" fill="#a1e74c"/>
<circle cx="334.1" cy="803.4" fill="#82e05f"/>
<circle cx="113.5" cy="817.8" fill="#76dc68"/>
<circle cx="201.5" cy="889" fill="#43377e"/>
<circle cx="253.4" cy="704.3" fill="#cdec35"/>
<circle cx="120.9" cy="789.8" fill="#65d476"/>
<circle cx="208.9" cy="861" fill="#39738e"/>
<circle cx="128.2" cy="761.9" fill="#52c784"/>
<circle cx="216.3" cy="833.1" fill="#47b389"/>
<circle cx="304.4" cy="904.3" fill="#3d9f8e"/>
<circle cx="83.7" cy="918.7" fill="#3a708e"/>
<circle cx="135.6" cy="733.9" fill="#3c998e"/>
<circle cx="223.7" cy="805.1" fill="#65d476"/>
<circle cx="311.9" cy="876.4" fill="#52c684"/>
<circle cx="91.1" cy="890.7" fill="#3b908e"/>
<circle cx="143" cy="705.9" fill="#4ab988"/>
<circle cx="231.1" cy="777.1" fill="#9fe74c"/>
<circle cx="319.3" cy="848.4" fill="#6dd86f"/>
<circle cx="407.4" cy="919.7" fill="#44ae8b"/>
<circle cx="98.4" cy="862.8" fill="#3d9d8e"/>
<circle cx="150.4" cy="677.8" fill="#54cb83"/>
<circle cx="238.5" cy="749.1" fill="#9ce74e"/>
<circle cx="326.7" cy="820.4" fill="#85e25c"/>
<circle cx="414.9" cy="891.7" fill="#52c784"/>
<circle cx="105.8" cy="834.8" fill="#4fc086"/>
<circle cx="194" cy="906.1" fill="#3d9f8e"/>
<circle cx="246" cy="721.1" fill="#bcea3e"/>
<circle cx="334.2" cy="792.4" fill="#99e64f"/>
<circle cx="113.2" cy="806.8" fill="#59cf80"/>
<circle cx="201.4" cy="878.1" fill="#3a858e"/>
<circle cx="253.4" cy="693.1" fill="#d1ed33"/>
<circle cx="120.6" cy="778.8" fill="#50c385"/>
<circle cx="208.8" cy="850.1" fill="#3a868e"/>
<circle cx="297" cy="921.5" fill="#3c938e"/>
<circle cx="127.9" cy="750.7" fill="#3c998e"/>
<circle cx="216.2" cy="822.1" fill="#4dbd87"/>
<circle cx="304.5" cy="893.5" fill="#3da28e"/>
<circle cx="83.3" cy="907.9" fill="#39818e"/>
<circle cx="135.3" cy="722.7" fill="#3a848e"/>
<circle cx="223.6" cy="794.1" fill="#76db68"/>
<circle cx="311.9" cy="865.5" fill="#57cf81"/>
<circle cx="90.7" cy="879.9" fill="#3c938e"/>
<circle cx="142.7" cy="694.6" fill="#40a68d"/>
<circle cx="231" cy="766" fill="#9be64f"/>
<circle cx="319.4" cy="837.4" fill="#73da6a"/>
<circle cx="407.7" cy="908.9" fill="#50c385"/>
<circle cx="98.1" cy="851.8" fill="#3d9d8e"/>
<circle cx="186.4" cy="923.3" fill="#3c978e"/>
<circle cx="238.5" cy="738" fill="#a7e849"/>
<circle cx="326.8" cy="809.4" fill="#81e05f"/>
<circle cx="415.2" cy="880.8" fill="#58cf81"/>
<circle cx="105.5" cy="823.8" fill="#69d673"/>
<circle cx="193.8" cy="895.3" fill="#3ea38e"/>
<circle cx="245.9" cy="709.9" fill="#b6ea41"/>
<circle cx="334.3" cy="781.4" fill="#a4e84a"/>
<circle cx="112.8" cy="795.8" fill="#3c9a8e"/>
<circle cx="201.2" cy="867.2" fill="#3c948e"/>
<circle cx="253.3" cy="681.8" fill="#d0ed34"/>
<circle cx="120.2" cy="767.7" fill="#3da08e"/>
<circle cx="208.7" cy="839.2" fill="#3da08e"/>
<circle cx="297.1" cy="910.7" fill="#3c9a8e"/>
<circle cx="75.5" cy="925.1" fill="#3a838e"/>
<circle cx="127.6" cy="739.6" fill="#3a6c8d"/>
<circle cx="216.1" cy="811.1" fill="#51c585"/>
<circle cx="304.5" cy="882.6" fill="#47b28a"/>
<circle cx="82.9" cy="897" fill="#3c988e"/>
<circle cx="135" cy="711.5" fill="#3a888e"/>
<circle cx="223.5" cy="783" fill="#75db69"/>
<circle cx="312" cy="854.5" fill="#71da6c"/>
<circle cx="400.5" cy="926.1" fill="#47b28a"/>
<circle cx="90.3" cy="869" fill="#3b928e"/>
<circle cx="142.5" cy="683.4" fill="#3ea38e"/>
<circle cx="230.9" cy="754.9" fill="#a7e849"/>
<circle cx="319.5" cy="826.5" fill="#7edf62"/>
<circle cx="408" cy="898" fill="#4cbb87"/>
<circle cx="97.7" cy="840.9" fill="#b9ea3f"/>
<circle cx="186.2" cy="912.5" fill="#41a88d"/>
<circle cx="238.4" cy="726.8" fill="#afe944"/>
<circle cx="326.9" cy="798.4" fill="#91e554"/>
<circle cx="415.5" cy="869.9" fill="#6ad672"/>
<circle cx="105.1" cy="812.8" fill="#3c938e"/>
<circle cx="193.6" cy="884.4" fill="#42aa8c"/>
<circle cx="245.8" cy="698.7" fill="#a9e847"/>
<circle cx="334.4" cy="770.2" fill="#95e652"/>
<circle cx="112.5" cy="784.7" fill="#397c8e"/>
<circle cx="201.1" cy="856.3" fill="#3b918e"/>
<circle cx="289.7" cy="927.9" fill="#3c958e"/>
<circle cx="119.9" cy="756.5" fill="#3a6c8d"/>
<circle cx="208.5" cy="828.2" fill="#48b489"/>
<circle cx="297.1" cy="899.8" fill="#40a68d"/>
<circle cx="75.1" cy="914.3" fill="#3b8f8e"/>
<circle cx="127.3" cy="728.4" fill="#433e82"/>
<circle cx="216" cy="800" fill="#4fc285"/>
<circle cx="304.6" cy="871.7" fill="#52c784"/>
<circle cx="82.5" cy="886.2" fill="#3fa58e"/>
<circle cx="134.8" cy="700.2" fill="#3f5289"/>
<circle cx="223.4" cy="771.9" fill="#63d478"/>
<circle cx="312.1" cy="843.6" fill="#75db69"/>
<circle cx="400.7" cy="915.3" fill="#43ab8c"/>
<circle cx="89.9" cy="858" fill="#3ea28e"/>
<circle cx="178.6" cy="929.7" fill="#42a98c"/>
<circle cx="230.8" cy="743.7" fill="#a2e74b"/>
<circle cx="319.5" cy="815.4" fill="#7cde63"/>
<circle cx="408.2" cy="887.1" fill="#58cf80"/>
<circle cx="97.3" cy="829.9" fill="#46b28a"/>
<circle cx="186" cy="901.6" fill="#dbee2e"/>
<circle cx="238.3" cy="715.6" fill="#a8e848"/>
<circle cx="327" cy="787.3" fill="#95e652"/>
<circle cx="415.7" cy="859" fill="#56cd82"/>
<circle cx="104.8" cy="801.7" fill="#414787"/>
<circle cx="193.5" cy="873.5" fill="#3c958e"/>
<circle cx="245.8" cy="687.4" fill="#a2e74b"/>
<circle cx="334.5" cy="759.1" fill="#a3e74a"/>
<circle cx="112.2" cy="773.6" fill="#414687"/>
<circle cx="200.9" cy="845.3" fill="#3ea38e"/>
<circle cx="289.7" cy="917.1" fill="#3c988e"/>
<circle cx="67.3" cy="931.5" fill="#3a898e"/>
<circle cx="119.6" cy="745.4" fill="#424083"/>
<circle cx="208.4" cy="817.1" fill="#3fa58e"/>
<circle cx="297.2" cy="888.9" fill="#42a98c"/>
<circle cx="74.7" cy="903.4" fill="#3b918e"/>
<circle cx="127" cy="717.1" fill="#44327c"/>
<circle cx="215.8" cy="788.9" fill="#4ab888"/>
<circle cx="304.6" cy="860.7" fill="#4dbe86"/>
<circle cx="393.5" cy="932.6" fill="#45af8b"/>
<circle cx="82.1" cy="875.2" fill="#414787"/>
<circle cx="134.5" cy="688.9" fill="#43387f"/>
<circle cx="223.3" cy="760.7" fill="#68d674"/>
<circle cx="312.1" cy="832.6" fill="#92e553"/>
<circle cx="401" cy="904.4" fill="#50c485"/>
<circle cx="89.5" cy="847" fill="#452e7a"/>
<circle cx="178.4" cy="918.9" fill="#3ea38e"/>
<circle cx="230.8" cy="732.5" fill="#97e651"/>
<circle cx="319.6" cy="804.4" fill="#85e25c"/>
<circle cx="408.5" cy="876.2" fill="#54cb83"/>
<circle cx="97" cy="818.8" fill="#442f7a"/>
<circle cx="185.8" cy="890.7" fill="#56cd82"/>
<circle cx="238.2" cy="704.3" fill="#84e15d"/>
<circle cx="327.1" cy="776.1" fill="#98e650"/>
<circle cx="416" cy="848" fill="#5cd17d"/>
<circle cx="104.4" cy="790.6" fill="#43387f"/>
<circle cx="193.3" cy="862.5" fill="#3fa48e"/>
<circle cx="282.2" cy="934.4" fill="#43377e"/>
<circle cx="334.6" cy="747.9" fill="#8be457"/>
<circle cx="111.8" cy="762.4" fill="#44357d"/>
<circle cx="200.8" cy="834.3" fill="#40a68d"/>
<circle cx="289.7" cy="906.2" fill="#3fa48e"/>
<circle cx="66.9" cy="920.7" fill="#3c9a8e"/>
<circle cx="119.3" cy="734.1" fill="#43387f"/>
<circle cx="208.2" cy="806" fill="#40a78d"/>
<circle cx="297.2" cy="878" fill="#46b18a"/>
<circle cx="74.3" cy="892.5" fill="#3d9e8e"/>
<circle cx="126.7" cy="705.9" fill="#424385"/>
<circle cx="215.7" cy="777.8" fill="#49b689"/>
<circle cx="304.7" cy="849.7" fill="#5ed27c"/>
<circle cx="393.7" cy="921.7" fill="#47b38a"/>
<circle cx="81.7" cy="864.3" fill="#3c948e"/>
<circle cx="170.7" cy="936.2" fill="#3d9c8e"/>
<circle cx="223.2" cy="749.5" fill="#5bd07e"/>
<circle cx="312.2" cy="821.5" fill="#81e05f"/>
<circle cx="401.2" cy="893.5" fill="#52c784"/>
<circle cx="89.2" cy="836" fill="#3fa48e"/>
<circle cx="178.2" cy="908" fill="#41a88d"/>
<circle cx="230.7" cy="721.2" fill="#79dd66"/>
<circle cx="319.7" cy="793.2" fill="#86e25b"/>
<circle cx="408.8" cy="865.2" fill="#55cc83"/>
<circle cx="96.6" cy="807.7" fill="#3e598a"/>
<circle cx="497.8" cy="937.2" fill="#41a78d"/>
<circle cx="185.7" cy="879.8" fill="#4ab988"/>
<circle cx="238.1" cy="692.9" fill="#7cde63"/>
<circle cx="327.2" cy="765" fill="#99e64f"/>
<circle cx="416.3" cy="837" fill="#5ed27b"/>
<circle cx="104.1" cy="779.5" fill="#3f568a"/>
<circle cx="193.1" cy="851.5" fill="#3d9d8e"/>
<circle cx="282.2" cy="923.5" fill="#3d9c8e"/>
<circle cx="59" cy="938.1" fill="#3da18e"/>
<circle cx="334.7" cy="736.7" fill="#98e650"/>
<circle cx="111.5" cy="751.2" fill="#3b698d"/>
<circle cx="200.6" cy="823.2" fill="#40a58d"/>
<circle cx="289.7" cy="895.3" fill="#3ea38e"/>
<circle cx="66.4" cy="909.8" fill="#3d9d8e"/>
<circle cx="119" cy="722.9" fill="#3d608b"/>
<circle cx="208.1" cy="794.9" fill="#3d9f8e"/>
<circle cx="297.2" cy="867" fill="#4bba87"/>
<circle cx="386.4" cy="939.1" fill="#3ea38e"/>
<circle cx="73.9" cy="881.5" fill="#3d9c8e"/>
<circle cx="126.4" cy="694.5" fill="#3d5d8b"/>
<circle cx="215.6" cy="766.6" fill="#3da08e"/>
<circle cx="304.7" cy="838.7" fill="#5ed17c"/>
<circle cx="393.9" cy="910.8" fill="#50c385"/>
<circle cx="81.3" cy="853.2" fill="#3d9e8e"/>
<circle cx="170.5" cy="925.3" fill="#3da08e"/>
<circle cx="223.1" cy="738.3" fill="#55cb83"/>
<circle cx="312.3" cy="810.4" fill="#88e359"/>
<circle cx="401.5" cy="882.5" fill="#4fc186"/>
<circle cx="88.8" cy="824.9" fill="#3b908e"/>
<circle cx="178" cy="897.1" fill="#48b489"/>
<circle cx="230.6" cy="709.9" fill="#62d379"/>
<circle cx="319.8" cy="782.1" fill="#83e15e"/>
<circle cx="409" cy="854.2" fill="#61d379"/>
<circle cx="96.2" cy="796.6" fill="#39738e"/>
<circle cx="498.3" cy="926.4" fill="#46b18a"/>
<circle cx="185.5" cy="868.8" fill="#42aa8c"/>
<circle cx="274.7" cy="940.9" fill="#3d9f8e"/>
<circle cx="327.3" cy="753.7" fill="#9fe74d"/>
<circle cx="416.6" cy="825.9" fill="#6ed86f"/>
<circle cx="103.7" cy="768.3" fill="#39808e"/>
<circle cx="193" cy="840.4" fill="#41a78d"/>
<circle cx="282.2" cy="912.6" fill="#40a78d"/>
<circle cx="58.6" cy="927.2" fill="#3fa48e"/>
<circle cx="334.8" cy="725.4" fill="#8fe555"/>
<circle cx="111.2" cy="739.9" fill="#39758e"/>
<circle cx="200.4" cy="812.1" fill="#3da08e"/>
<circle cx="289.7" cy="884.3" fill="#3da18e"/>
<circle cx="66" cy="898.9" fill="#3d9c8e"/>
<circle cx="118.6" cy="711.5" fill="#38798e"/>
<circle cx="207.9" cy="783.7" fill="#3d9d8e"/>
<circle cx="297.3" cy="856" fill="#4ebf86"/>
<circle cx="386.6" cy="928.2" fill="#46b28a"/>
<circle cx="73.5" cy="870.5" fill="#3ea28e"/>
<circle cx="162.8" cy="942.8" fill="#3fa48e"/>
<circle cx="215.4" cy="755.4" fill="#3d9e8e"/>
<circle cx="304.8" cy="827.6" fill="#69d673"/>
<circle cx="394.2" cy="899.9" fill="#4cbd87"/>
<circle cx="80.9" cy="842.2" fill="#3d9c8e"/>
<circle cx="170.3" cy="914.4" fill="#41a88d"/>
<circle cx="223" cy="727" fill="#4dbd87"/>
<circle cx="312.3" cy="799.2" fill="#79dd66"/>
<circle cx="401.7" cy="871.5" fill="#56cd82"/>
<circle cx="88.4" cy="813.8" fill="#3b918e"/>
<circle cx="491.1" cy="943.8" fill="#3d9e8e"/>
<circle cx="177.8" cy="886.1" fill="#40a78d"/>
<circle cx="230.5" cy="698.6" fill="#4fc086"/>
<circle cx="319.9" cy="770.9" fill="#6cd771"/>
<circle cx="409.3" cy="843.1" fill="#5cd17e"/>
<circle cx="95.9" cy="785.4" fill="#3a838e"/>
<circle cx="498.7" cy="915.5" fill="#44ae8b"/>
<circle cx="185.3" cy="857.7" fill="#3da18e"/>
<circle cx="274.7" cy="930" fill="#3c9a8e"/>
<circle cx="327.4" cy="742.5" fill="#89e359"/>
<circle cx="416.9" cy="814.8" fill="#6bd771"/>
<circle cx="103.3" cy="757" fill="#3b8a8e"/>
<circle cx="192.8" cy="829.3" fill="#3c938e"/>
<circle cx="282.2" cy="901.7" fill="#3da18e"/>
<circle cx="58.1" cy="916.3" fill="#3da18e"/>
<circle cx="335" cy="714" fill="#8be557"/>
<circle cx="110.8" cy="728.6" fill="#3a838e"/>
<circle cx="200.3" cy="800.9" fill="#3b8f8e"/>
<circle cx="289.8" cy="873.3" fill="#3ea28e"/>
<circle cx="379.3" cy="945.6" fill="#3ea28e"/>
<circle cx="65.6" cy="887.9" fill="#3ea28e"/>
<circle cx="118.3" cy="700.2" fill="#3a708e"/>
<circle cx="207.8" cy="772.5" fill="#3a8a8e"/>
<circle cx="297.3" cy="844.9" fill="#56ce82"/>
<circle cx="386.8" cy="917.3" fill="#4ab988"/>
<circle cx="73" cy="859.5" fill="#3d9f8e"/>
<circle cx="162.6" cy="931.9" fill="#3c9a8e"/>
<circle cx="215.3" cy="744.1" fill="#3c978e"/>
<circle cx="304.9" cy="816.5" fill="#5dd17d"/>
<circle cx="394.4" cy="888.9" fill="#51c485"/>
<circle cx="80.5" cy="831.1" fill="#3d9b8e"/>
<circle cx="170.1" cy="903.5" fill="#3ea38e"/>
<circle cx="222.8" cy="715.6" fill="#43ac8b"/>
<circle cx="312.4" cy="788.1" fill="#89e359"/>
<circle cx="402" cy="860.5" fill="#5ed17c"/>
<circle cx="88" cy="802.6" fill="#3a828e"/>
<circle cx="491.6" cy="932.9" fill="#43ab8c"/>
<circle cx="177.6" cy="875.1" fill="#3d9d8e"/>
<circle cx="267.2" cy="947.5" fill="#3d9c8e"/>
<circle cx="320" cy="759.6" fill="#75db69"/>
<circle cx="409.6" cy="832" fill="#69d673"/>
<circle cx="95.5" cy="774.2" fill="#3a828e"/>
<circle cx="499.2" cy="904.5" fill="#42aa8c"/>
<circle cx="185.1" cy="846.6" fill="#3d9d8e"/>
<circle cx="274.7" cy="919.1" fill="#3c998e"/>
<circle cx="327.5" cy="731.1" fill="#8ce556"/>
<circle cx="417.1" cy="803.6" fill="#73da6b"/>
<circle cx="103" cy="745.7" fill="#3a888e"/>
<circle cx="192.6" cy="818.2" fill="#3b8f8e"/>
<circle cx="282.2" cy="890.7" fill="#3ea38e"/>
<circle cx="335.1" cy="702.7" fill="#84e15d"/>
<circle cx="110.5" cy="717.3" fill="#397f8e"/>
<circle cx="200.1" cy="789.7" fill="#3b8c8e"/>
<circle cx="289.8" cy="862.2" fill="#3fa58e"/>
<circle cx="379.5" cy="934.7" fill="#46b18a"/>
<circle cx="65.1" cy="876.8" fill="#3da18e"/>
<circle cx="154.8" cy="949.4" fill="#3d9d8e"/>
<circle cx="207.7" cy="761.3" fill="#3a848e"/>
<circle cx="297.3" cy="833.8" fill="#4dbd87"/>
<circle cx="387" cy="906.3" fill="#44ad8b"/>
<circle cx="72.6" cy="848.4" fill="#3d9d8e"/>
<circle cx="162.3" cy="920.9" fill="#3d9b8e"/>
<circle cx="215.2" cy="732.8" fill="#3da18e"/>
<circle cx="304.9" cy="805.3" fill="#52c784"/>
<circle cx="394.6" cy="877.8" fill="#5dd17c"/>
<circle cx="80.1" cy="819.9" fill="#3c978e"/>
<circle cx="484.4" cy="950.4" fill="#46b18a"/>
<circle cx="169.8" cy="892.5" fill="#3da18e"/>
<circle cx="222.7" cy="704.3" fill="#41a78d"/>
<circle cx="312.5" cy="776.8" fill="#7ddf62"/>
<circle cx="402.2" cy="849.4" fill="#5fd27b"/>
<circle cx="87.6" cy="791.4" fill="#3a898e"/>
<circle cx="492" cy="921.9" fill="#41a98c"/>
<circle cx="177.4" cy="864" fill="#3c9a8e"/>
<circle cx="267.1" cy="936.6" fill="#3d9f8e"/>
<circle cx="320" cy="748.3" fill="#7dde62"/>
<circle cx="409.8" cy="820.9" fill="#5dd17d"/>
<circle cx="95.1" cy="762.9" fill="#3a868e"/>
<circle cx="499.6" cy="893.5" fill="#46b08a"/>
<circle cx="184.9" cy="835.5" fill="#3b928e"/>
<circle cx="274.7" cy="908.1" fill="#3fa48e"/>
<circle cx="327.6" cy="719.8" fill="#77dc67"/>
<circle cx="417.4" cy="792.4" fill="#75db69"/>
<circle cx="102.6" cy="734.4" fill="#3a878e"/>
<circle cx="192.4" cy="807" fill="#3a898e"/>
<circle cx="282.2" cy="879.6" fill="#45af8b"/>
<circle cx="372.1" cy="952.3" fill="#3d9b8e"/>
<circle cx="110.1" cy="705.9" fill="#3a858e"/>
<circle cx="200" cy="778.5" fill="#3a848e"/>
<circle cx="289.8" cy="851.1" fill="#46b18a"/>
<circle cx="379.7" cy="923.8" fill="#46b18a"/>
<circle cx="64.7" cy="865.8" fill="#3da08e"/>
<circle cx="154.6" cy="938.4" fill="#3b8c8e"/>
<circle cx="207.5" cy="749.9" fill="#3b6b8d"/>
<circle cx="297.4" cy="822.6" fill="#47b38a"/>
<circle cx="387.3" cy="895.3" fill="#4ab988"/>
<circle cx="72.2" cy="837.3" fill="#3c968e"/>
<circle cx="162.1" cy="909.9" fill="#3da18e"/>
<circle cx="215.1" cy="721.4" fill="#3a888e"/>
<circle cx="305" cy="794.1" fill="#56ce82"/>
<circle cx="394.9" cy="866.8" fill="#54ca83"/>
<circle cx="79.7" cy="808.7" fill="#3d9d8e"/>
<circle cx="484.8" cy="939.5" fill="#41a98c"/>
<circle cx="169.6" cy="881.4" fill="#3c978e"/>
<circle cx="259.5" cy="954.1" fill="#3da18e"/>
<circle cx="312.5" cy="765.5" fill="#83e15e"/>
<circle cx="402.5" cy="838.2" fill="#63d478"/>
<circle cx="87.2" cy="780.2" fill="#3b8d8e"/>
<circle cx="492.4" cy="911" fill="#43ab8c"/>
<circle cx="177.2" cy="852.9" fill="#3b8f8e"/>
<circle cx="267.1" cy="925.6" fill="#3d9e8e"/>
<circle cx="320.1" cy="736.9" fill="#78dc66"/>
<circle cx="410.1" cy="809.7" fill="#68d674"/>
<circle cx="94.7" cy="751.6" fill="#3b928e"/>
<circle cx="500.1" cy="882.4" fill="#4cbc87"/>
<circle cx="184.7" cy="824.3" fill="#3a838e"/>
<circle cx="274.7" cy="897.1" fill="#3c9b8e"/>
<circle cx="327.7" cy="708.4" fill="#70d96d"/>
<circle cx="417.7" cy="781.1" fill="#6fd96e"/>
<circle cx="102.3" cy="723" fill="#3b908e"/>
<circle cx="192.3" cy="795.8" fill="#3a878e"/>
<circle cx="282.3" cy="868.5" fill="#40a68d"/>
<circle cx="372.3" cy="941.3" fill="#42a98c"/>
<circle cx="146.8" cy="956" fill="#3c958e"/>
<circle cx="199.8" cy="767.2" fill="#39818e"/>
<circle cx="289.8" cy="840" fill="#40a78d"/>
<circle cx="379.9" cy="912.8" fill="#46b28a"/>
<circle cx="154.3" cy="927.5" fill="#397c8e"/>
<circle cx="207.4" cy="738.6" fill="#3a6f8d"/>
<circle cx="297.4" cy="811.4" fill="#42ab8c"/>
<circle cx="387.5" cy="884.2" fill="#46b28a"/>
<circle cx="71.8" cy="826.1" fill="#3c948e"/>
<circle cx="477.6" cy="957.1" fill="#42aa8c"/>
<circle cx="161.8" cy="898.9" fill="#3a878e"/>
<circle cx="214.9" cy="710" fill="#3b8f8e"/>
<circle cx="305" cy="782.8" fill="#5bd07e"/>
<circle cx="395.1" cy="855.6" fill="#5fd27b"/>
<circle cx="79.3" cy="797.5" fill="#3b8b8e"/>
<circle cx="485.2" cy="928.5" fill="#40a68d"/>
<circle cx="169.4" cy="870.3" fill="#3a888e"/>
<circle cx="259.5" cy="943.2" fill="#3c998e"/>
<circle cx="312.6" cy="754.2" fill="#70d96d"/>
<circle cx="402.7" cy="827" fill="#68d674"/>
<circle cx="86.8" cy="768.9" fill="#3b8f8e"/>
<circle cx="492.9" cy="899.9" fill="#48b589"/>
<circle cx="177" cy="841.7" fill="#3b908e"/>
<circle cx="267.1" cy="914.6" fill="#42a98c"/>
<circle cx="320.2" cy="725.6" fill="#67d574"/>
<circle cx="410.4" cy="798.4" fill="#62d378"/>
<circle cx="94.4" cy="740.2" fill="#3b8b8e"/>
<circle cx="500.5" cy="871.3" fill="#4fc186"/>
<circle cx="184.5" cy="813.1" fill="#38768e"/>
<circle cx="274.7" cy="886" fill="#3b928e"/>
<circle cx="364.8" cy="958.9" fill="#3d9f8e"/>
<circle cx="418" cy="769.8" fill="#6dd86f"/>
<circle cx="101.9" cy="711.6" fill="#3b8c8e"/>
<circle cx="192.1" cy="784.5" fill="#397e8e"/>
<circle cx="282.3" cy="857.4" fill="#40a78d"/>
<circle cx="372.5" cy="930.3" fill="#3ea38e"/>
<circle cx="146.5" cy="945.1" fill="#397c8e"/>
<circle cx="199.6" cy="755.9" fill="#39748e"/>
<circle cx="289.9" cy="828.8" fill="#48b489"/>
<circle cx="380.1" cy="901.7" fill="#41a88c"/>
<circle cx="154" cy="916.5" fill="#39748e"/>
<circle cx="207.2" cy="727.2" fill="#3a6f8d"/>
<circle cx="297.5" cy="800.1" fill="#3ea28e"/>
<circle cx="387.7" cy="873.1" fill="#4cbc87"/>
<circle cx="478" cy="946.1" fill="#40a68d"/>
<circle cx="161.6" cy="887.8" fill="#3d9b8e"/>
<circle cx="251.9" cy="960.8" fill="#3c948e"/>
<circle cx="305.1" cy="771.5" fill="#50c285"/>
<circle cx="395.4" cy="844.5" fill="#5ad07f"/>
<circle cx="78.9" cy="786.2" fill="#3b8f8e"/>
<circle cx="485.7" cy="917.5" fill="#42ab8c"/>
<circle cx="169.2" cy="859.2" fill="#397b8e"/>
<circle cx="259.5" cy="932.2" fill="#3d9f8e"/>
<circle cx="312.7" cy="742.8" fill="#64d477"/>
<circle cx="403" cy="815.8" fill="#6ad772"/>
<circle cx="86.4" cy="757.5" fill="#3b8e8e"/>
<circle cx="493.3" cy="888.8" fill="#49b689"/>
<circle cx="176.7" cy="830.5" fill="#397f8e"/>
<circle cx="267.1" cy="903.6" fill="#3da08e"/>
<circle cx="320.3" cy="714.1" fill="#5ad07f"/>
<circle cx="410.6" cy="787.1" fill="#68d574"/>
<circle cx="94" cy="728.8" fill="#3b8c8e"/>
<circle cx="501" cy="860.2" fill="#5cd17d"/>
<circle cx="184.3" cy="801.9" fill="#38788e"/>
<circle cx="274.7" cy="874.9" fill="#3d9c8e"/>
<circle cx="365" cy="948" fill="#3c948e"/>
<circle cx="138.6" cy="962.7" fill="#3b8f8e"/>
<circle cx="418.3" cy="758.4" fill="#6fd86e"/>
<circle cx="191.9" cy="773.2" fill="#39728e"/>
<circle cx="282.3" cy="846.2" fill="#3c9a8e"/>
<circle cx="372.7" cy="919.3" fill="#44ae8b"/>
<circle cx="146.2" cy="934.1" fill="#3f538a"/>
<circle cx="199.5" cy="744.5" fill="#3b6a8d"/>
<circle cx="289.9" cy="817.6" fill="#42aa8c"/>
<circle cx="380.3" cy="890.6" fill="#4cbb87"/>
<circle cx="470.7" cy="963.8" fill="#3ea38e"/>
<circle cx="153.8" cy="905.4" fill="#3d5d8b"/>
<circle cx="207.1" cy="715.7" fill="#38778e"/>
<circle cx="297.5" cy="788.8" fill="#3ea28e"/>
<circle cx="387.9" cy="862" fill="#51c485"/>
<circle cx="478.4" cy="935.1" fill="#3da18e"/>
<circle cx="161.4" cy="876.7" fill="#397a8e"/>
<circle cx="251.8" cy="949.8" fill="#3c978e"/>
<circle cx="305.1" cy="760.1" fill="#50c285"/>
<circle cx="395.6" cy="833.3" fill="#58cf81"/>
<circle cx="486.1" cy="906.4" fill="#45b08a"/>
<circle cx="168.9" cy="848" fill="#397a8e"/>
<circle cx="259.4" cy="921.2" fill="#40a68d"/>
<circle cx="312.8" cy="731.4" fill="#5fd27b"/>
<circle cx="403.2" cy="804.5" fill="#63d378"/>
<circle cx="86" cy="746.1" fill="#3b918e"/>
<circle cx="493.8" cy="877.7" fill="#4bbb87"/>
<circle cx="176.5" cy="819.3" fill="#38768e"/>
<circle cx="267" cy="892.5" fill="#3c948e"/>
<circle cx="357.6" cy="965.7" fill="#3da08e"/>
<circle cx="410.9" cy="775.8" fill="#67d574"/>
<circle cx="93.6" cy="717.4" fill="#3b8d8e"/>
<circle cx="501.5" cy="849" fill="#60d27a"/>
<circle cx="184.1" cy="790.5" fill="#39738e"/>
<circle cx="274.7" cy="863.7" fill="#3fa48e"/>
<circle cx="365.2" cy="937" fill="#3d9f8e"/>
<circle cx="138.4" cy="951.7" fill="#3c658c"/>
<circle cx="418.6" cy="747" fill="#82e15e"/>
<circle cx="191.7" cy="761.8" fill="#3a6d8d"/>
<circle cx="282.3" cy="835" fill="#3c998e"/>
<circle cx="372.9" cy="908.2" fill="#44ad8b"/>
<circle cx="145.9" cy="923" fill="#43387f"/>
<circle cx="199.3" cy="733" fill="#38758e"/>
<circle cx="289.9" cy="806.3" fill="#3c958e"/>
<circle cx="380.5" cy="879.5" fill="#46b18a"/>
<circle cx="471.1" cy="952.8" fill="#40a78d"/>
<circle cx="153.5" cy="894.3" fill="#3e598a"/>
<circle cx="244.1" cy="967.6" fill="#3ea38e"/>
<circle cx="297.5" cy="777.5" fill="#3fa58d"/>
<circle cx="388.2" cy="850.8" fill="#49b788"/>
<circle cx="478.8" cy="924" fill="#49b788"/>
<circle cx="161.1" cy="865.5" fill="#3a6c8d"/>
<circle cx="251.8" cy="938.8" fill="#3d9c8e"/>
<circle cx="305.2" cy="748.7" fill="#46b18a"/>
<circle cx="395.8" cy="822" fill="#5ed27b"/>
<circle cx="486.5" cy="895.3" fill="#4bba88"/>
<circle cx="168.7" cy="836.8" fill="#3a6f8d"/>
<circle cx="259.4" cy="910.1" fill="#3c968e"/>
<circle cx="312.8" cy="719.9" fill="#48b489"/>
<circle cx="403.5" cy="793.2" fill="#55cb83"/>
<circle cx="85.6" cy="734.7" fill="#3b908e"/>
<circle cx="494.2" cy="866.5" fill="#4fc285"/>
<circle cx="176.3" cy="808" fill="#38798e"/>
<circle cx="267" cy="881.3" fill="#3da18e"/>
<circle cx="357.7" cy="954.7" fill="#3c988e"/>
<circle cx="411.2" cy="764.4" fill="#63d478"/>
<circle cx="501.9" cy="837.8" fill="#55cd82"/>
<circle cx="183.9" cy="779.2" fill="#38798e"/>
<circle cx="274.6" cy="852.5" fill="#3b8a8e"/>
<circle cx="365.4" cy="925.9" fill="#40a78d"/>
<circle cx="138.1" cy="940.7" fill="#452b78"/>
<circle cx="418.9" cy="735.6" fill="#76db68"/>
<circle cx="191.5" cy="750.4" fill="#38788e"/>
<circle cx="282.3" cy="823.7" fill="#3da28e"/>
<circle cx="373" cy="897.1" fill="#3d9d8e"/>
<circle cx="463.8" cy="970.5" fill="#3fa58d"/>
<circle cx="145.7" cy="911.9" fill="#442f7a"/>
<circle cx="199.2" cy="721.5" fill="#38788e"/>
<circle cx="289.9" cy="794.9" fill="#3b8c8e"/>
<circle cx="380.7" cy="868.3" fill="#43ac8c"/>
<circle cx="471.5" cy="941.7" fill="#3d9d8e"/>
<circle cx="153.3" cy="883.1" fill="#3e588a"/>
<circle cx="244.1" cy="956.5" fill="#3da08e"/>
<circle cx="297.6" cy="766.1" fill="#3c9a8e"/>
<circle cx="388.4" cy="839.5" fill="#55cb83"/>
<circle cx="479.2" cy="913" fill="#43ab8c"/>
<circle cx="160.9" cy="854.3" fill="#39718e"/>
<circle cx="251.7" cy="927.8" fill="#3d9b8e"/>
<circle cx="305.2" cy="737.2" fill="#3d9d8e"/>
<circle cx="396.1" cy="810.7" fill="#5ed27c"/>
<circle cx="486.9" cy="884.1" fill="#4dbe87"/>
<circle cx="168.5" cy="825.5" fill="#39728e"/>
<circle cx="259.3" cy="899" fill="#3c978e"/>
<circle cx="350.2" cy="972.4" fill="#3d9c8e"/>
<circle cx="403.8" cy="781.8" fill="#5cd07e"/>
<circle cx="494.7" cy="855.3" fill="#55cc83"/>
<circle cx="176.1" cy="796.6" fill="#3a708e"/>
<circle cx="267" cy="870.1" fill="#42aa8c"/>
<circle cx="357.9" cy="943.6" fill="#3ea28e"/>
<circle cx="411.5" cy="753" fill="#65d476"/>
<circle cx="502.4" cy="826.5" fill="#68d673"/>
<circle cx="183.7" cy="767.8" fill="#38778e"/>
<circle cx="274.6" cy="841.3" fill="#3b928e"/>
<circle cx="365.6" cy="914.8" fill="#40a78d"/>
<circle cx="419.2" cy="724.1" fill="#6fd96e"/>
<circle cx="191.4" cy="738.9" fill="#39758e"/>
<circle cx="282.3" cy="812.4" fill="#3a868e"/>
<circle cx="373.2" cy="886" fill="#3d9f8e"/>
<circle cx="464.2" cy="959.5" fill="#3ea28e"/>
<circle cx="145.4" cy="900.8" fill="#452b78"/>
<circle cx="236.3" cy="974.3" fill="#3b908e"/>
<circle cx="290" cy="783.6" fill="#3b8f8e"/>
<circle cx="380.9" cy="857.1" fill="#43ac8b"/>
<circle cx="471.9" cy="930.7" fill="#3d9f8e"/>
<circle cx="153" cy="871.9" fill="#414787"/>
<circle cx="244" cy="945.5" fill="#3ea38e"/>
<circle cx="297.6" cy="754.7" fill="#3b918e"/>
<circle cx="388.6" cy="828.2" fill="#4ec086"/>
<circle cx="479.6" cy="901.8" fill="#49b689"/>
<circle cx="160.6" cy="843.1" fill="#3b688c"/>
<circle cx="251.6" cy="916.7" fill="#3d9d8e"/>
<circle cx="305.3" cy="725.7" fill="#40a78d"/>
<circle cx="396.3" cy="799.3" fill="#58cf81"/>
<circle cx="487.4" cy="872.9" fill="#53c984"/>
<circle cx="168.3" cy="814.2" fill="#3a6e8d"/>
<circle cx="259.3" cy="887.8" fill="#3c938e"/>
<circle cx="350.4" cy="961.4" fill="#3da08e"/>
<circle cx="404" cy="770.4" fill="#63d378"/>
<circle cx="495.1" cy="844.1" fill="#56cd82"/>
<circle cx="175.9" cy="785.3" fill="#397a8e"/>
<circle cx="267" cy="858.9" fill="#3c998e"/>
<circle cx="358" cy="932.5" fill="#41a88d"/>
<circle cx="411.7" cy="741.5" fill="#52c684"/>
<circle cx="502.8" cy="815.1" fill="#5cd17d"/>
<circle cx="183.5" cy="756.3" fill="#39748e"/>
<circle cx="274.6" cy="830" fill="#3b8a8e"/>
<circle cx="365.7" cy="903.7" fill="#41a88d"/>
<circle cx="456.9" cy="977.3" fill="#3d9e8e"/>
<circle cx="191.2" cy="727.4" fill="#3a6e8d"/>
<circle cx="282.3" cy="801.1" fill="#3a878e"/>
<circle cx="373.4" cy="874.7" fill="#3d9f8e"/>
<circle cx="464.6" cy="948.4" fill="#41a88d"/>
<circle cx="145.1" cy="889.6" fill="#442f7a"/>
<circle cx="236.3" cy="963.3" fill="#3b8e8e"/>
<circle cx="290" cy="772.1" fill="#39708e"/>
<circle cx="381.1" cy="845.8" fill="#42aa8c"/>
<circle cx="472.3" cy="919.5" fill="#4ab888"/>
<circle cx="152.7" cy="860.7" fill="#3e588a"/>
<circle cx="243.9" cy="934.4" fill="#3c998e"/>
<circle cx="297.7" cy="743.2" fill="#3b8a8e"/>
<circle cx="388.9" cy="816.9" fill="#47b28a"/>
<circle cx="480.1" cy="890.6" fill="#51c485"/>
<circle cx="160.4" cy="831.8" fill="#3e598a"/>
<circle cx="251.6" cy="905.5" fill="#3c978e"/>
<circle cx="342.8" cy="979.2" fill="#41a78d"/>
<circle cx="396.6" cy="787.9" fill="#54cb83"/>
<circle cx="487.8" cy="861.7" fill="#56ce82"/>
<circle cx="168" cy="802.8" fill="#39738e"/>
<circle cx="259.3" cy="876.6" fill="#3b8d8e"/>
<circle cx="350.5" cy="950.3" fill="#3d9f8e"/>
<circle cx="404.3" cy="759" fill="#51c585"/>
<circle cx="495.6" cy="832.7" fill="#54c983"/>
<circle cx="175.7" cy="773.8" fill="#3a6c8d"/>
<circle cx="266.9" cy="847.6" fill="#3b918e"/>
<circle cx="358.2" cy="921.4" fill="#3da18e"/>
<circle cx="412" cy="730" fill="#4dbe86"/>
<circle cx="503.3" cy="803.8" fill="#5ad07f"/>
<circle cx="183.3" cy="744.8" fill="#397b8e"/>
<circle cx="274.6" cy="818.6" fill="#397e8e"/>
<circle cx="365.9" cy="892.5" fill="#3d9d8e"/>
<circle cx="457.2" cy="966.3" fill="#3c9a8e"/>
<circle cx="228.5" cy="981.2" fill="#3b8c8e"/>
<circle cx="282.3" cy="789.7" fill="#38778e"/>
<circle cx="373.6" cy="863.5" fill="#3fa48e"/>
<circle cx="465" cy="937.3" fill="#40a58d"/>
<circle cx="236.2" cy="952.2" fill="#3a828e"/>
<circle cx="290" cy="760.6" fill="#39758e"/>
<circle cx="381.4" cy="834.5" fill="#4bba88"/>
<circle cx="472.7" cy="908.4" fill="#3ea38e"/>
<circle cx="152.5" cy="849.4" fill="#3d5f8b"/>
<circle cx="243.8" cy="923.3" fill="#3d9d8e"/>
<circle cx="297.7" cy="731.6" fill="#3a898e"/>
<circle cx="389.1" cy="805.5" fill="#46b18a"/>
<circle cx="480.5" cy="879.4" fill="#55cb83"/>
<circle cx="160.1" cy="820.4" fill="#3b6b8d"/>
<circle cx="251.5" cy="894.3" fill="#3a8a8e"/>
<circle cx="342.9" cy="968.2" fill="#3c978e"/>
<circle cx="396.8" cy="776.5" fill="#53c984"/>
<circle cx="488.2" cy="850.4" fill="#54ca83"/>
<circle cx="167.8" cy="791.4" fill="#3a708e"/>
<circle cx="259.2" cy="865.3" fill="#3c938e"/>
<circle cx="350.7" cy="939.2" fill="#3d9e8e"/>
<circle cx="404.6" cy="747.4" fill="#4cbc87"/>
<circle cx="496" cy="821.4" fill="#57cf81"/>
<circle cx="175.5" cy="762.3" fill="#3a6f8d"/>
<circle cx="266.9" cy="836.3" fill="#3a838e"/>
<circle cx="358.4" cy="910.2" fill="#3c938e"/>
<circle cx="449.9" cy="984.2" fill="#3d9e8e"/>
<circle cx="503.8" cy="792.3" fill="#6bd771"/>
<circle cx="183.1" cy="733.3" fill="#39748e"/>
<circle cx="274.6" cy="807.2" fill="#38778e"/>
<circle cx="366.1" cy="881.2" fill="#3d9f8e"/>
<circle cx="457.6" cy="955.2" fill="#3da18e"/>
<circle cx="228.4" cy="970.1" fill="#3b6a8d"/>
<circle cx="282.3" cy="778.2" fill="#38768e"/>
<circle cx="373.8" cy="852.2" fill="#3da18e"/>
<circle cx="465.4" cy="926.2" fill="#44ad8b"/>
<circle cx="236.1" cy="941.1" fill="#39728e"/>
<circle cx="290" cy="749.1" fill="#397a8e"/>
<circle cx="381.6" cy="823.1" fill="#3fa58e"/>
<circle cx="473.1" cy="897.2" fill="#48b589"/>
<circle cx="243.8" cy="912.1" fill="#3c948e"/>
<circle cx="335.3" cy="986.1" fill="#3b8f8e"/>
<circle cx="389.3" cy="794.1" fill="#45b08a"/>
<circle cx="480.9" cy="868.1" fill="#4cbc87"/>
<circle cx="159.9" cy="809" fill="#3a6f8d"/>
<circle cx="251.5" cy="883" fill="#3b8f8e"/>
<circle cx="343.1" cy="957.1" fill="#3c938e"/>
<circle cx="397.1" cy="765" fill="#45af8b"/>
<circle cx="488.7" cy="839" fill="#4ebf86"/>
<circle cx="167.6" cy="779.9" fill="#39728e"/>
<circle cx="259.2" cy="854" fill="#3b8d8e"/>
<circle cx="350.8" cy="928.1" fill="#3c968e"/>
<circle cx="404.8" cy="735.9" fill="#45af8b"/>
<circle cx="496.5" cy="810" fill="#5ed17c"/>
<circle cx="175.3" cy="750.8" fill="#38768e"/>
<circle cx="266.9" cy="824.9" fill="#39718e"/>
<circle cx="358.5" cy="899" fill="#3d9b8e"/>
<circle cx="450.2" cy="973.1" fill="#3d9c8e"/>
<circle cx="220.6" cy="988.1" fill="#3a868e"/>
<circle cx="504.2" cy="780.9" fill="#6ad672"/>
<circle cx="274.6" cy="795.8" fill="#39748e"/>
<circle cx="366.3" cy="869.9" fill="#3c998e"/>
<circle cx="458" cy="944.1" fill="#3d9f8e"/>
<circle cx="228.3" cy="959" fill="#3d618b"/>
<circle cx="282.3" cy="766.7" fill="#38788e"/>
<circle cx="374" cy="840.8" fill="#3da08e"/>
<circle cx="465.8" cy="915" fill="#3fa58d"/>
<circle cx="236" cy="929.9" fill="#3c638c"/>
<circle cx="290.1" cy="737.6" fill="#3b6b8d"/>
<circle cx="381.8" cy="811.7" fill="#3d9b8e"/>
<circle cx="473.5" cy="885.9" fill="#46b08a"/>
<circle cx="243.7" cy="900.9" fill="#39818e"/>
<circle cx="335.5" cy="975" fill="#3c968e"/>
<circle cx="389.5" cy="782.6" fill="#3d9d8e"/>
<circle cx="481.3" cy="856.8" fill="#4dbe86"/>
<circle cx="251.4" cy="871.7" fill="#3b908e"/>
<circle cx="343.2" cy="946" fill="#3b8d8e"/>
<circle cx="397.3" cy="753.4" fill="#41a78d"/>
<circle cx="489.1" cy="827.7" fill="#4cbc87"/>
<circle cx="167.3" cy="768.4" fill="#3a6f8d"/>
<circle cx="259.1" cy="842.6" fill="#39818e"/>
<circle cx="351" cy="916.9" fill="#3c978e"/>
<circle cx="442.8" cy="991.1" fill="#41a88d"/>
<circle cx="496.9" cy="798.5" fill="#67d575"/>
<circle cx="175" cy="739.2" fill="#397b8e"/>
<circle cx="266.9" cy="813.5" fill="#3b6b8d"/>
<circle cx="358.7" cy="887.7" fill="#3b928e"/>
<circle cx="450.6" cy="962" fill="#3ea38e"/>
<circle cx="220.5" cy="977" fill="#414988"/>
<circle cx="504.7" cy="769.3" fill="#64d477"/>
<circle cx="274.6" cy="784.3" fill="#3a6b8d"/>
<circle cx="366.5" cy="858.6" fill="#3c9b8e"/>
<circle cx="458.4" cy="932.9" fill="#3fa48e"/>
<circle cx="228.2" cy="947.9" fill="#452b78"/>
<circle cx="282.3" cy="755.1" fill="#3a6f8d"/>
<circle cx="374.2" cy="829.4" fill="#3b8e8e"/>
<circle cx="466.2" cy="903.7" fill="#3d9e8e"/>
<circle cx="235.9" cy="918.7" fill="#3c628c"/>
<circle cx="327.8" cy="993.1" fill="#3c948e"/>
<circle cx="382" cy="800.3" fill="#3a878e"/>
<circle cx="474" cy="874.6" fill="#42ab8c"/>
<circle cx="243.6" cy="889.6" fill="#3b8b8e"/>
<circle cx="335.6" cy="963.9" fill="#3a888e"/>
<circle cx="389.8" cy="771.1" fill="#3d9c8e"/>
<circle cx="481.8" cy="845.4" fill="#4bba88"/>
<circle cx="251.4" cy="860.4" fill="#3a858e"/>
<circle cx="343.3" cy="934.8" fill="#3c9a8e"/>
<circle cx="397.6" cy="741.8" fill="#3d9b8e"/>
<circle cx="489.6" cy="816.2" fill="#4fc186"/>
<circle cx="167.1" cy="756.8" fill="#397c8e"/>
<circle cx="259.1" cy="831.2" fill="#39798e"/>
<circle cx="351.1" cy="905.6" fill="#3b918e"/>
<circle cx="443.1" cy="980" fill="#3da08e"/>
<circle cx="497.4" cy="787" fill="#54ca83"/>
<circle cx="266.8" cy="802" fill="#3b678c"/>
<circle cx="358.9" cy="876.4" fill="#3b8e8e"/>
<circle cx="450.9" cy="950.8" fill="#3d9c8e"/>
<circle cx="220.3" cy="965.8" fill="#452876"/>
<circle cx="505.2" cy="757.8" fill="#7cde63"/>
<circle cx="274.6" cy="772.8" fill="#39758e"/>
<circle cx="366.7" cy="847.2" fill="#3c988e"/>
<circle cx="458.7" cy="921.6" fill="#3d9c8e"/>
<circle cx="228.1" cy="936.7" fill="#452d79"/>
<circle cx="282.3" cy="743.5" fill="#39728e"/>
<circle cx="374.4" cy="818" fill="#3a898e"/>
<circle cx="466.5" cy="892.4" fill="#43ab8c"/>
<circle cx="235.8" cy="907.5" fill="#3a6b8d"/>
<circle cx="327.9" cy="981.9" fill="#3c988e"/>
<circle cx="382.2" cy="788.7" fill="#3b8e8e"/>
<circle cx="474.4" cy="863.2" fill="#3d9f8e"/>
<circle cx="243.6" cy="878.2" fill="#3a8a8e"/>
<circle cx="335.7" cy="952.7" fill="#3b8e8e"/>
<circle cx="390" cy="759.5" fill="#3b8c8e"/>
<circle cx="482.2" cy="834" fill="#50c385"/>
<circle cx="251.3" cy="849" fill="#397c8e"/>
<circle cx="343.5" cy="923.5" fill="#3b8e8e"/>
<circle cx="435.7" cy="998.1" fill="#3c968e"/>
<circle cx="490" cy="804.7" fill="#55cc83"/>
<circle cx="259.1" cy="819.8" fill="#39728e"/>
<circle cx="351.3" cy="894.3" fill="#3b908e"/>
<circle cx="443.5" cy="968.9" fill="#3d9d8e"/>
<circle cx="497.8" cy="775.5" fill="#5ad07f"/>
<circle cx="266.8" cy="790.5" fill="#3b678c"/>
<circle cx="359" cy="865" fill="#3a888e"/>
<circle cx="451.3" cy="939.6" fill="#3c9b8e"/>
<circle cx="505.7" cy="746.2" fill="#6fd96e"/>
<circle cx="274.6" cy="761.2" fill="#3a6e8d"/>
<circle cx="366.8" cy="835.8" fill="#3a858e"/>
<circle cx="459.1" cy="910.4" fill="#3da18e"/>
<circle cx="228" cy="925.4" fill="#452c79"/>
<circle cx="320.2" cy="1000" fill="#3b908e"/>
<circle cx="374.6" cy="806.5" fill="#39818e"/>
<circle cx="466.9" cy="881.1" fill="#3da28e"/>
<circle cx="235.7" cy="896.2" fill="#3f548a"/>
<circle cx="328" cy="970.8" fill="#3b8f8e"/>
<circle cx="382.4" cy="777.2" fill="#39808e"/>
<circle cx="474.8" cy="851.8" fill="#3da18e"/>
<circle cx="243.5" cy="866.9" fill="#39728e"/>
<circle cx="335.8" cy="941.5" fill="#3c938e"/>
<circle cx="390.3" cy="747.9" fill="#3b928e"/>
<circle cx="482.6" cy="822.5" fill="#54cb83"/>
<circle cx="251.2" cy="837.6" fill="#39738e"/>
<circle cx="343.6" cy="912.2" fill="#3a868e"/>
<circle cx="436" cy="986.9" fill="#3fa48e"/>
<circle cx="490.5" cy="793.2" fill="#51c485"/>
<circle cx="259" cy="808.2" fill="#3a6f8d"/>
<circle cx="351.4" cy="882.9" fill="#3a858e"/>
<circle cx="443.8" cy="957.7" fill="#3c988e"/>
<circle cx="498.3" cy="763.9" fill="#56cd82"/>
<circle cx="266.8" cy="778.9" fill="#3b6a8d"/>
<circle cx="359.2" cy="853.6" fill="#38778e"/>
<circle cx="451.7" cy="928.4" fill="#3d9b8e"/>
<circle cx="274.6" cy="749.6" fill="#3c618c"/>
<circle cx="367" cy="824.3" fill="#3c938e"/>
<circle cx="459.5" cy="899.1" fill="#3ea28e"/>
<circle cx="227.9" cy="914.1" fill="#433b81"/>
<circle cx="320.3" cy="988.9" fill="#3a828e"/>
<circle cx="374.8" cy="794.9" fill="#3d608b"/>
<circle cx="467.3" cy="869.7" fill="#3c978e"/>
<circle cx="235.6" cy="884.8" fill="#3d5e8b"/>
<circle cx="328.1" cy="959.6" fill="#3b928e"/>
<circle cx="382.7" cy="765.6" fill="#397b8e"/>
<circle cx="475.2" cy="840.4" fill="#42a98c"/>
<circle cx="243.4" cy="855.4" fill="#39708e"/>
<circle cx="335.9" cy="930.3" fill="#3a838e"/>
<circle cx="428.5" cy="1005.1" fill="#3d9e8e"/>
<circle cx="483" cy="811" fill="#46b08a"/>
<circle cx="251.2" cy="826.1" fill="#39758e"/>
<circle cx="343.8" cy="900.9" fill="#3a858e"/>
<circle cx="436.3" cy="975.8" fill="#3c968e"/>
<circle cx="490.9" cy="781.6" fill="#4cbb87"/>
<circle cx="259" cy="796.7" fill="#3c648c"/>
<circle cx="351.6" cy="871.6" fill="#397b8e"/>
<circle cx="444.2" cy="946.4" fill="#3c988e"/>
<circle cx="498.8" cy="752.2" fill="#5bd07e"/>
<circle cx="266.8" cy="767.3" fill="#3a6c8d"/>
<circle cx="359.4" cy="842.2" fill="#39808e"/>
<circle cx="452" cy="917.1" fill="#3d9d8e"/>
<circle cx="312.6" cy="1007.1" fill="#3b8f8e"/>
<circle cx="367.2" cy="812.8" fill="#39738e"/>
<circle cx="459.9" cy="887.7" fill="#3c998e"/>
<circle cx="320.4" cy="977.7" fill="#39728e"/>
<circle cx="375" cy="783.3" fill="#3b678c"/>
<circle cx="467.7" cy="858.3" fill="#3d9b8e"/>
<circle cx="235.5" cy="873.4" fill="#3b688d"/>
<circle cx="328.2" cy="948.3" fill="#397c8e"/>
<circle cx="382.9" cy="753.9" fill="#397f8e"/>
<circle cx="475.6" cy="828.9" fill="#3c9a8e"/>
<circle cx="243.3" cy="844" fill="#38778e"/>
<circle cx="336.1" cy="918.9" fill="#3a838e"/>
<circle cx="428.8" cy="993.9" fill="#3b8e8e"/>
<circle cx="483.5" cy="799.4" fill="#4fc186"/>
<circle cx="251.1" cy="814.5" fill="#3c668c"/>
<circle cx="343.9" cy="889.5" fill="#3b6a8d"/>
<circle cx="436.7" cy="964.5" fill="#3da08e"/>
<circle cx="491.4" cy="770" fill="#4bba88"/>
<circle cx="258.9" cy="785.1" fill="#3a6e8d"/>
<circle cx="351.7" cy="860.1" fill="#3c648c"/>
<circle cx="444.5" cy="935.1" fill="#3c968e"/>
<circle cx="266.7" cy="755.6" fill="#3b668c"/>
<circle cx="359.6" cy="830.7" fill="#39738e"/>
<circle cx="452.4" cy="905.7" fill="#3c968e"/>
<circle cx="312.7" cy="995.9" fill="#3b698d"/>
<circle cx="367.4" cy="801.2" fill="#3c668c"/>
<circle cx="460.3" cy="876.3" fill="#3b908e"/>
<circle cx="320.5" cy="966.5" fill="#3f5289"/>
<circle cx="375.3" cy="771.7" fill="#3b6a8d"/>
<circle cx="468.1" cy="846.8" fill="#3c958e"/>
<circle cx="328.3" cy="937" fill="#3a6f8d"/>
<circle cx="421.3" cy="1012.2" fill="#3d9b8e"/>
<circle cx="476" cy="817.3" fill="#3ea38e"/>
<circle cx="243.3" cy="832.5" fill="#3c638c"/>
<circle cx="336.2" cy="907.6" fill="#39748e"/>
<circle cx="429.1" cy="982.7" fill="#3d9f8e"/>
<circle cx="483.9" cy="787.8" fill="#3d9e8e"/>
<circle cx="251.1" cy="803" fill="#3a6d8d"/>
<circle cx="344" cy="878.1" fill="#3d618b"/>
<circle cx="437" cy="953.3" fill="#3da18e"/>
<circle cx="491.8" cy="758.3" fill="#42aa8c"/>
<circle cx="258.9" cy="773.4" fill="#3a6f8d"/>
<circle cx="351.9" cy="848.6" fill="#3c668c"/>
<circle cx="444.9" cy="923.8" fill="#3d9b8e"/>
<circle cx="304.9" cy="1014.2" fill="#3b8e8e"/>
<circle cx="359.7" cy="819.1" fill="#39728e"/>
<circle cx="452.8" cy="894.3" fill="#3c988e"/>
<circle cx="312.8" cy="984.7" fill="#414b88"/>
<circle cx="367.6" cy="789.6" fill="#3a6c8d"/>
<circle cx="460.6" cy="864.8" fill="#3a848e"/>
<circle cx="320.6" cy="955.2" fill="#3e588a"/>
<circle cx="375.5" cy="760" fill="#3b678c"/>
<circle cx="468.5" cy="835.3" fill="#3b918e"/>
<circle cx="328.5" cy="925.7" fill="#38778e"/>
<circle cx="421.6" cy="1001" fill="#3d9e8e"/>
<circle cx="476.4" cy="805.7" fill="#3da08e"/>
<circle cx="336.3" cy="896.2" fill="#3c668c"/>
<circle cx="429.4" cy="971.5" fill="#3da08e"/>
<circle cx="484.3" cy="776.1" fill="#40a78d"/>
<circle cx="251" cy="791.3" fill="#3b688c"/>
<circle cx="344.2" cy="866.6" fill="#3c638c"/>
<circle cx="437.3" cy="942" fill="#3d9e8e"/>
<circle cx="258.9" cy="761.7" fill="#3a6e8d"/>
<circle cx="352" cy="837.1" fill="#3a6e8d"/>
<circle cx="445.2" cy="912.4" fill="#3b8c8e"/>
<circle cx="305" cy="1003" fill="#3d5e8b"/>
<circle cx="359.9" cy="807.5" fill="#3a6c8d"/>
<circle cx="453.1" cy="882.9" fill="#3a838e"/>
<circle cx="312.8" cy="973.4" fill="#462273"/>
<circle cx="367.8" cy="777.9" fill="#3a6d8d"/>
<circle cx="461" cy="853.3" fill="#3a878e"/>
<circle cx="320.7" cy="943.9" fill="#3f548a"/>
<circle cx="414" cy="1019.3" fill="#3c978e"/>
<circle cx="468.9" cy="823.7" fill="#3a898e"/>
<circle cx="328.6" cy="914.3" fill="#3a6e8d"/>
<circle cx="421.9" cy="989.7" fill="#3da18e"/>
<circle cx="476.9" cy="794.1" fill="#3fa48e"/>
<circle cx="336.4" cy="884.7" fill="#3f568a"/>
<circle cx="429.8" cy="960.2" fill="#3c9b8e"/>
<circle cx="484.8" cy="764.4" fill="#3c998e"/>
<circle cx="251" cy="779.6" fill="#3a6f8d"/>
<circle cx="344.3" cy="855.1" fill="#3c628c"/>
<circle cx="437.7" cy="930.6" fill="#3b918e"/>
<circle cx="352.2" cy="825.5" fill="#3b668c"/>
<circle cx="445.6" cy="901" fill="#3b928e"/>
<circle cx="305" cy="991.7" fill="#44317b"/>
<circle cx="360.1" cy="795.8" fill="#3a708e"/>
<circle cx="453.5" cy="871.4" fill="#3a868e"/>
<circle cx="312.9" cy="962.1" fill="#452c79"/>
<circle cx="368" cy="766.2" fill="#3a6b8d"/>
<circle cx="461.4" cy="841.7" fill="#397a8e"/>
<circle cx="320.8" cy="932.5" fill="#414b88"/>
<circle cx="414.3" cy="1008.1" fill="#3b928e"/>
<circle cx="469.4" cy="812" fill="#3a888e"/>
<circle cx="328.7" cy="902.9" fill="#3e598a"/>
<circle cx="422.2" cy="978.5" fill="#3d9f8e"/>
<circle cx="477.3" cy="782.4" fill="#3b918e"/>
<circle cx="336.6" cy="873.2" fill="#3e598a"/>
<circle cx="430.1" cy="948.8" fill="#3b8b8e"/>
<circle cx="344.4" cy="843.5" fill="#3c638c"/>
<circle cx="438" cy="919.2" fill="#3b8d8e"/>
<circle cx="352.3" cy="813.8" fill="#3b668c"/>
<circle cx="445.9" cy="889.5" fill="#397a8e"/>
<circle cx="360.3" cy="784.1" fill="#3a6f8d"/>
<circle cx="453.9" cy="859.8" fill="#38768e"/>
<circle cx="313" cy="950.8" fill="#44317b"/>
<circle cx="406.6" cy="1026.5" fill="#3b8c8e"/>
<circle cx="461.8" cy="830.1" fill="#39748e"/>
<circle cx="320.9" cy="921.1" fill="#414787"/>
<circle cx="414.5" cy="996.8" fill="#3c938e"/>
<circle cx="469.8" cy="800.4" fill="#3a858e"/>
<circle cx="328.8" cy="891.4" fill="#414a88"/>
<circle cx="422.5" cy="967.1" fill="#3c9b8e"/>
<circle cx="477.7" cy="770.6" fill="#3c968e"/>
<circle cx="336.7" cy="861.7" fill="#3e588a"/>
<circle cx="430.4" cy="937.4" fill="#3b918e"/>
<circle cx="344.6" cy="831.9" fill="#3d5f8b"/>
<circle cx="438.4" cy="907.7" fill="#397c8e"/>
<circle cx="352.5" cy="802.1" fill="#3a6d8d"/>
<circle cx="446.3" cy="878" fill="#39728e"/>
<circle cx="360.4" cy="772.4" fill="#3d5f8b"/>
<circle cx="454.3" cy="848.2" fill="#38768e"/>
<circle cx="313" cy="939.4" fill="#452c79"/>
<circle cx="406.9" cy="1015.2" fill="#3a878e"/>
<circle cx="462.2" cy="818.4" fill="#3c668c"/>
<circle cx="321" cy="909.6" fill="#414a88"/>
<circle cx="414.8" cy="985.5" fill="#3b908e"/>
<circle cx="470.2" cy="788.6" fill="#3b8b8e"/>
<circle cx="328.9" cy="879.8" fill="#414887"/>
<circle cx="422.8" cy="955.8" fill="#3b8d8e"/>
<circle cx="336.8" cy="850" fill="#3b678c"/>
<circle cx="430.7" cy="926" fill="#3a828e"/>
<circle cx="344.7" cy="820.2" fill="#3a6b8d"/>
<circle cx="438.7" cy="896.2" fill="#39718e"/>
<circle cx="352.7" cy="790.4" fill="#3b698d"/>
<circle cx="446.7" cy="866.4" fill="#39798e"/>
<circle cx="399.2" cy="1033.7" fill="#39758e"/>
<circle cx="454.6" cy="836.6" fill="#39758e"/>
<circle cx="407.2" cy="1004" fill="#3b688c"/>
<circle cx="462.6" cy="806.7" fill="#3b688c"/>
<circle cx="321.1" cy="898.1" fill="#424485"/>
<circle cx="415.1" cy="974.2" fill="#3c938e"/>
<circle cx="470.6" cy="776.9" fill="#397a8e"/>
<circle cx="329" cy="868.3" fill="#424586"/>
<circle cx="423.1" cy="944.3" fill="#3a868e"/>
<circle cx="336.9" cy="838.4" fill="#3e5b8b"/>
<circle cx="431.1" cy="914.5" fill="#39738e"/>
<circle cx="344.9" cy="808.5" fill="#39738e"/>
<circle cx="439" cy="884.6" fill="#3a6f8d"/>
<circle cx="352.8" cy="778.6" fill="#3b688d"/>
<circle cx="447" cy="854.8" fill="#39738e"/>
<circle cx="399.5" cy="1022.5" fill="#405189"/>
<circle cx="455" cy="824.9" fill="#397b8e"/>
<circle cx="407.4" cy="992.6" fill="#3c648c"/>
<circle cx="463" cy="795" fill="#3c628c"/>
<circle cx="415.4" cy="962.7" fill="#3b8c8e"/>
<circle cx="329.1" cy="856.6" fill="#3f568a"/>
<circle cx="423.4" cy="932.9" fill="#3b908e"/>
<circle cx="337.1" cy="826.7" fill="#3b678c"/>
<circle cx="431.4" cy="903" fill="#3b668c"/>
<circle cx="345" cy="796.7" fill="#3d608b"/>
<circle cx="439.4" cy="873" fill="#3a6d8d"/>
<circle cx="391.7" cy="1041" fill="#3e5a8b"/>
<circle cx="447.4" cy="843.1" fill="#3a708e"/>
<circle cx="399.7" cy="1011.1" fill="#414888"/>
<circle cx="455.4" cy="813.1" fill="#39748e"/>
<circle cx="407.7" cy="981.2" fill="#39728e"/>
<circle cx="463.4" cy="783.1" fill="#3b698d"/>
<circle cx="415.7" cy="951.3" fill="#3b8a8e"/>
<circle cx="423.7" cy="921.3" fill="#39748e"/>
<circle cx="337.2" cy="814.9" fill="#3b688d"/>
<circle cx="431.7" cy="891.4" fill="#3e588a"/>
<circle cx="345.2" cy="784.9" fill="#3b688c"/>
<circle cx="439.7" cy="861.4" fill="#39718e"/>
<circle cx="392" cy="1029.7" fill="#433a80"/>
<circle cx="447.7" cy="831.4" fill="#39758e"/>
<circle cx="400" cy="999.8" fill="#452f7a"/>
<circle cx="455.8" cy="801.3" fill="#3a6c8d"/>
<circle cx="408" cy="969.8" fill="#3d5c8b"/>
<circle cx="416" cy="939.8" fill="#397d8e"/>
<circle cx="424" cy="909.8" fill="#3b678c"/>
<circle cx="337.3" cy="803.1" fill="#39708e"/>
<circle cx="432.1" cy="879.7" fill="#3b668c"/>
<circle cx="440.1" cy="849.7" fill="#3a6e8d"/>
<circle cx="392.2" cy="1018.4" fill="#46156b"/>
<circle cx="448.1" cy="819.6" fill="#38788e"/>
<circle cx="400.3" cy="988.4" fill="#44347d"/>
<circle cx="456.2" cy="789.5" fill="#38778e"/>
<circle cx="408.3" cy="958.3" fill="#3d5e8b"/>
<circle cx="416.3" cy="928.2" fill="#397f8e"/>
<circle cx="424.3" cy="898.1" fill="#3e578a"/>
<circle cx="432.4" cy="868" fill="#39728e"/>
<circle cx="440.4" cy="837.9" fill="#397c8e"/>
<circle cx="448.5" cy="807.7" fill="#3b6b8d"/>
<circle cx="400.5" cy="976.9" fill="#44347d"/>
<circle cx="408.6" cy="946.8" fill="#3d618b"/>
<circle cx="416.6" cy="916.6" fill="#3e5c8b"/>
<circle cx="424.7" cy="886.5" fill="#3c668c"/>
<circle cx="432.7" cy="856.3" fill="#3b688c"/>
<circle cx="440.8" cy="826.1" fill="#397f8e"/>
<circle cx="448.9" cy="795.9" fill="#39748e"/>
<circle cx="400.8" cy="965.4" fill="#43397f"/>
<circle cx="408.8" cy="935.2" fill="#3f5289"/>
<circle cx="416.9" cy="905" fill="#414887"/>
<circle cx="425" cy="874.7" fill="#3d5f8b"/>
<circle cx="433.1" cy="844.5" fill="#38788e"/>
<circle cx="441.1" cy="814.2" fill="#38778e"/>
<circle cx="409.1" cy="923.5" fill="#3e588a"/>
<circle cx="417.2" cy="893.3" fill="#3e588a"/>
<circle cx="425.3" cy="863" fill="#3a6f8d"/>
<circle cx="433.4" cy="832.6" fill="#39818e"/>
<circle cx="441.5" cy="802.3" fill="#38798e"/>
<circle cx="417.5" cy="881.5" fill="#3d618b"/>
<circle cx="425.6" cy="851.1" fill="#39798e"/>
<circle cx="433.7" cy="820.7" fill="#397d8e"/>
<circle cx="425.9" cy="839.2" fill="#397a8e"/>
<circle cx="434.1" cy="808.8" fill="#397e8e"/>
<circle cx="426.3" cy="827.3" fill="#3a6d8d"/>
</g>
<defs><linearGradient id="gb" x1="0" y1="0" x2="0" y2="1"><stop offset="0" stop-color="#ecf252"/><stop offset="0.015" stop-color="#e8f255"/><stop offset="0.194" stop-color="#a3ea78"/><stop offset="0.343" stop-color="#78d89b"/><stop offset="0.491" stop-color="#64b4a5"/><stop offset="0.643" stop-color="#6092a5"/><stop offset="0.791" stop-color="#676ea0"/><stop offset="0.942" stop-color="#6c488c"/><stop offset="0.985" stop-color="#693980"/><stop offset="1" stop-color="#68347c"/></linearGradient></defs>
<rect x="603.1" y="672.7" width="14.1" height="352" fill="url(#gb)" stroke="#000" stroke-width="1.4"/>
<text class="ct" x="625.3" y="714.9" textLength="27.7" lengthAdjust="spacingAndGlyphs">−300</text>
<text class="ct" x="625.3" y="764.7" textLength="27.7" lengthAdjust="spacingAndGlyphs">−350</text>
<text class="ct" x="625.3" y="814.4" textLength="27.7" lengthAdjust="spacingAndGlyphs">−400</text>
<text class="ct" x="625.3" y="864.1" textLength="27.7" lengthAdjust="spacingAndGlyphs">−450</text>
<text class="ct" x="625.3" y="913.4" textLength="27.7" lengthAdjust="spacingAndGlyphs">−500</text>
<text class="ct" x="625.3" y="963.6" textLength="27.7" lengthAdjust="spacingAndGlyphs">−550</text>
<text class="ct" x="625.3" y="1012.8" textLength="27.7" lengthAdjust="spacingAndGlyphs">−600</text>
<path d="M617.9 711.3H621.5 M617.9 761.1H621.5 M617.9 810.8H621.5 M617.9 860.5H621.5 M617.9 909.8H621.5 M617.9 960H621.5 M617.9 1009.2H621.5" stroke="#000" stroke-width="1"/>
<path d="M31.3 1504.7 L167.3 1398 L162.9 1188.7 L20.9 1285.8Z" fill="#f9f9f9" stroke="#f9f9f9" stroke-width="1"/>
<path d="M167.3 1398 L532.7 1503.3 L543.1 1284.6 L162.9 1188.7Z" fill="#f2f2f2" stroke="#f2f2f2" stroke-width="1"/>
<path d="M31.3 1504.7 L412.6 1624.6 L532.7 1503.3 L167.3 1398Z" fill="#f5f5f5" stroke="#f5f5f5" stroke-width="1"/>
<path d="M54.1 1511.8 L189.3 1404.3 L185.7 1194.4 M93.6 1524.3 L227.3 1415.2 L225.1 1204.4 M133.7 1536.9 L265.8 1426.4 L265.2 1214.5 M174.4 1549.7 L304.8 1437.6 L305.7 1224.7 M215.6 1562.7 L344.4 1449 L346.9 1235.1 M257.5 1575.8 L384.5 1460.6 L388.6 1245.6 M300 1589.2 L425.1 1472.3 L430.9 1256.3 M343 1602.7 L466.3 1484.2 L473.9 1267.1 M386.8 1616.5 L508.1 1496.2 L517.4 1278.1 M30.5 1279.2 L40.4 1497.5 L420.7 1616.4 M47.8 1267.3 L57 1484.5 L435.4 1601.6 M64.9 1255.7 L73.4 1471.6 L449.9 1587 M81.8 1244.2 L89.5 1459 L464.1 1572.6 M98.3 1232.8 L105.4 1446.5 L478.1 1558.4 M114.6 1221.7 L121 1434.3 L491.9 1544.5 M130.7 1210.7 L136.4 1422.2 L505.5 1530.8 M146.6 1199.9 L151.7 1410.3 L518.9 1517.3 M533.9 1479.1 L166.8 1374.7 L30.1 1480.4 M535.2 1451.7 L166.3 1348.5 L28.8 1453 M536.5 1424.1 L165.7 1322 L27.5 1425.4 M537.8 1396.2 L165.2 1295.3 L26.2 1397.4 M539.1 1367.9 L164.6 1268.3 L24.8 1369.2 M540.5 1339.4 L164 1241.1 L23.5 1340.7 M541.9 1310.6 L163.4 1213.6 L22.1 1311.8" fill="none" stroke="#b4b4b4" stroke-width="1.6"/>
<path d="M31.3 1504.7 L412.6 1624.6" fill="none" stroke="#000" stroke-width="1.9"/>
<path d="M532.7 1503.3 L412.6 1624.6" fill="none" stroke="#000" stroke-width="1.9"/>
<path d="M532.7 1503.3 L543.1 1284.6" fill="none" stroke="#000" stroke-width="1.9"/>
<path d="M55.2 1510.9 L51.8 1513.7 M134.8 1535.9 L131.5 1538.8 M216.7 1561.7 L213.4 1564.6 M301 1588.2 L297.8 1591.2 M387.8 1615.5 L384.7 1618.5 M417.5 1615.4 L427.2 1618.4 M432.2 1600.6 L441.9 1603.6 M446.7 1586 L456.3 1588.9 M460.9 1571.6 L470.5 1574.5 M475 1557.5 L484.5 1560.3 M488.8 1543.6 L498.3 1546.4 M502.4 1529.9 L511.8 1532.6 M515.8 1516.4 L525.2 1519.1 M530.8 1478.2 L540.1 1480.9 M532 1450.8 L541.5 1453.5 M533.3 1423.2 L542.8 1425.8 M534.6 1395.3 L544.2 1397.9 M536 1367.1 L545.5 1369.6 M537.3 1338.6 L546.9 1341.1 M538.6 1309.8 L548.3 1312.3" fill="none" stroke="#000" stroke-width="1.8"/>
<text class="tk" x="48.1" y="1535.1" textLength="32.3" lengthAdjust="spacingAndGlyphs">0.050</text>
<text class="tk" x="127.8" y="1560.4" textLength="32.3" lengthAdjust="spacingAndGlyphs">0.100</text>
<text class="tk" x="209.7" y="1586.4" textLength="32.3" lengthAdjust="spacingAndGlyphs">0.150</text>
<text class="tk" x="294" y="1613.2" textLength="32.3" lengthAdjust="spacingAndGlyphs">0.200</text>
<text class="tk" x="380.9" y="1640.7" textLength="32.3" lengthAdjust="spacingAndGlyphs">0.250</text>
<text class="tk" x="438.3" y="1640.6" textLength="14.4" lengthAdjust="spacingAndGlyphs">20</text>
<text class="tk" x="452.9" y="1625.6" textLength="14.4" lengthAdjust="spacingAndGlyphs">40</text>
<text class="tk" x="467.2" y="1610.9" textLength="14.4" lengthAdjust="spacingAndGlyphs">60</text>
<text class="tk" x="481.3" y="1596.4" textLength="14.4" lengthAdjust="spacingAndGlyphs">80</text>
<text class="tk" x="495.2" y="1582.1" textLength="21.6" lengthAdjust="spacingAndGlyphs">100</text>
<text class="tk" x="508.9" y="1568" textLength="21.6" lengthAdjust="spacingAndGlyphs">120</text>
<text class="tk" x="522.4" y="1554.2" textLength="21.6" lengthAdjust="spacingAndGlyphs">140</text>
<text class="tk" x="535.7" y="1540.6" textLength="21.6" lengthAdjust="spacingAndGlyphs">160</text>
<text class="tk" x="556" y="1488" textLength="21.6" lengthAdjust="spacingAndGlyphs">500</text>
<text class="tk" x="557.4" y="1460.7" textLength="21.6" lengthAdjust="spacingAndGlyphs">750</text>
<text class="tk" x="558.8" y="1433" textLength="28.8" lengthAdjust="spacingAndGlyphs">1000</text>
<text class="tk" x="560.2" y="1405.1" textLength="28.8" lengthAdjust="spacingAndGlyphs">1250</text>
<text class="tk" x="561.7" y="1376.9" textLength="28.8" lengthAdjust="spacingAndGlyphs">1500</text>
<text class="tk" x="563.2" y="1348.4" textLength="28.8" lengthAdjust="spacingAndGlyphs">1750</text>
<text class="tk" x="564.7" y="1319.6" textLength="28.8" lengthAdjust="spacingAndGlyphs">2000</text>
<g class="sc">
<circle cx="180.9" cy="1397.8" fill="#3da18e"/>
<circle cx="180.7" cy="1387.4" fill="#3da18e"/>
<circle cx="173.4" cy="1403.7" fill="#3c998e"/>
<circle cx="180.5" cy="1376.8" fill="#3d9c8e"/>
<circle cx="173.2" cy="1393.2" fill="#3c958e"/>
<circle cx="180.3" cy="1366.3" fill="#3c938e"/>
<circle cx="165.9" cy="1409.7" fill="#3c968e"/>
<circle cx="173" cy="1382.7" fill="#3c968e"/>
<circle cx="180.1" cy="1355.7" fill="#3d9e8e"/>
<circle cx="165.7" cy="1399.2" fill="#3a898e"/>
<circle cx="172.8" cy="1372.1" fill="#3b8f8e"/>
<circle cx="179.9" cy="1345.1" fill="#3c998e"/>
<circle cx="158.3" cy="1415.7" fill="#3b8e8e"/>
<circle cx="165.4" cy="1388.6" fill="#3c958e"/>
<circle cx="172.6" cy="1361.5" fill="#3b8c8e"/>
<circle cx="179.7" cy="1334.4" fill="#3b8c8e"/>
<circle cx="158.1" cy="1405.1" fill="#3a868e"/>
<circle cx="165.2" cy="1378" fill="#3b8d8e"/>
<circle cx="257.8" cy="1419.9" fill="#3ea28e"/>
<circle cx="172.4" cy="1350.9" fill="#3a868e"/>
<circle cx="179.5" cy="1323.7" fill="#3c958e"/>
<circle cx="150.6" cy="1421.7" fill="#397b8e"/>
<circle cx="157.8" cy="1394.5" fill="#3b8b8e"/>
<circle cx="165" cy="1367.4" fill="#3a848e"/>
<circle cx="257.8" cy="1409.4" fill="#3b928e"/>
<circle cx="172.2" cy="1340.2" fill="#397a8e"/>
<circle cx="179.3" cy="1312.9" fill="#3b918e"/>
<circle cx="150.4" cy="1411.2" fill="#397b8e"/>
<circle cx="157.6" cy="1383.9" fill="#3b8a8e"/>
<circle cx="250.5" cy="1426" fill="#3fa48e"/>
<circle cx="164.8" cy="1356.7" fill="#3b6b8d"/>
<circle cx="257.7" cy="1398.8" fill="#3b8b8e"/>
<circle cx="171.9" cy="1329.4" fill="#3b678c"/>
<circle cx="179.1" cy="1302.1" fill="#3c948e"/>
<circle cx="142.9" cy="1427.8" fill="#38778e"/>
<circle cx="150.1" cy="1400.5" fill="#39738e"/>
<circle cx="157.3" cy="1373.2" fill="#39728e"/>
<circle cx="250.5" cy="1415.4" fill="#3b8b8e"/>
<circle cx="164.5" cy="1345.9" fill="#3e578a"/>
<circle cx="257.7" cy="1388.1" fill="#3a868e"/>
<circle cx="171.7" cy="1318.6" fill="#3a828e"/>
<circle cx="178.9" cy="1291.3" fill="#3d9f8e"/>
<circle cx="142.7" cy="1417.2" fill="#3a708e"/>
<circle cx="149.9" cy="1389.9" fill="#3d5d8b"/>
<circle cx="243.2" cy="1432.1" fill="#3d9c8e"/>
<circle cx="157.1" cy="1362.5" fill="#404c89"/>
<circle cx="250.4" cy="1404.8" fill="#3a828e"/>
<circle cx="164.3" cy="1335.2" fill="#44347d"/>
<circle cx="257.6" cy="1377.4" fill="#397f8e"/>
<circle cx="171.5" cy="1307.8" fill="#3c9a8e"/>
<circle cx="178.7" cy="1280.4" fill="#4ab888"/>
<circle cx="135.2" cy="1433.9" fill="#3c618b"/>
<circle cx="142.4" cy="1406.6" fill="#405089"/>
<circle cx="149.6" cy="1379.2" fill="#404e89"/>
<circle cx="243.1" cy="1421.5" fill="#3a868e"/>
<circle cx="156.8" cy="1351.8" fill="#462273"/>
<circle cx="250.3" cy="1394.1" fill="#3b678c"/>
<circle cx="164.1" cy="1324.4" fill="#3d608b"/>
<circle cx="257.6" cy="1366.7" fill="#3b688d"/>
<circle cx="171.3" cy="1296.9" fill="#3da28e"/>
<circle cx="178.5" cy="1269.5" fill="#67d574"/>
<circle cx="134.9" cy="1423.3" fill="#3f558a"/>
<circle cx="142.1" cy="1395.9" fill="#44367e"/>
<circle cx="235.7" cy="1438.3" fill="#3c928e"/>
<circle cx="149.3" cy="1368.4" fill="#452c79"/>
<circle cx="243" cy="1410.9" fill="#3c668c"/>
<circle cx="156.6" cy="1341" fill="#424083"/>
<circle cx="250.3" cy="1383.4" fill="#3d608b"/>
<circle cx="163.8" cy="1313.5" fill="#3c938e"/>
<circle cx="257.5" cy="1355.9" fill="#405089"/>
<circle cx="171.1" cy="1286" fill="#4dbe87"/>
<circle cx="127.3" cy="1440.1" fill="#3c648c"/>
<circle cx="178.3" cy="1258.5" fill="#83e15e"/>
<circle cx="134.6" cy="1412.6" fill="#424184"/>
<circle cx="141.8" cy="1385.2" fill="#442f7a"/>
<circle cx="235.6" cy="1427.6" fill="#3a6e8d"/>
<circle cx="149.1" cy="1357.7" fill="#424385"/>
<circle cx="242.9" cy="1400.2" fill="#424385"/>
<circle cx="156.3" cy="1330.1" fill="#3c668c"/>
<circle cx="336.8" cy="1442.7" fill="#44307b"/>
<circle cx="250.2" cy="1372.6" fill="#424284"/>
<circle cx="163.6" cy="1302.6" fill="#3fa58e"/>
<circle cx="257.5" cy="1345.1" fill="#3f558a"/>
<circle cx="170.8" cy="1275.1" fill="#65d576"/>
<circle cx="127" cy="1429.5" fill="#3f558a"/>
<circle cx="178.1" cy="1247.5" fill="#d7ed30"/>
<circle cx="134.3" cy="1401.9" fill="#471d71"/>
<circle cx="228.3" cy="1444.5" fill="#3a888e"/>
<circle cx="141.5" cy="1374.4" fill="#43377f"/>
<circle cx="235.5" cy="1417" fill="#404e89"/>
<circle cx="148.8" cy="1346.8" fill="#3c638c"/>
<circle cx="242.8" cy="1389.4" fill="#433d82"/>
<circle cx="156.1" cy="1319.3" fill="#3a868e"/>
<circle cx="336.9" cy="1432" fill="#462776"/>
<circle cx="250.1" cy="1361.8" fill="#43387f"/>
<circle cx="163.4" cy="1291.7" fill="#51c485"/>
<circle cx="119.5" cy="1446.3" fill="#424284"/>
<circle cx="257.4" cy="1334.3" fill="#3b8d8e"/>
<circle cx="170.6" cy="1264.1" fill="#8de556"/>
<circle cx="126.7" cy="1418.8" fill="#452f7a"/>
<circle cx="177.9" cy="1236.4" fill="#c4eb3a"/>
<circle cx="134" cy="1391.2" fill="#462475"/>
<circle cx="228.2" cy="1433.8" fill="#39728e"/>
<circle cx="141.3" cy="1363.6" fill="#39728e"/>
<circle cx="235.5" cy="1406.2" fill="#462173"/>
<circle cx="148.5" cy="1336" fill="#3b928e"/>
<circle cx="329.7" cy="1448.9" fill="#471b6f"/>
<circle cx="242.8" cy="1378.6" fill="#44307b"/>
<circle cx="155.8" cy="1308.3" fill="#42a98c"/>
<circle cx="337" cy="1421.3" fill="#452d79"/>
<circle cx="250.1" cy="1351" fill="#3b6b8d"/>
<circle cx="163.1" cy="1280.7" fill="#66d575"/>
<circle cx="119.1" cy="1435.7" fill="#433d81"/>
<circle cx="257.4" cy="1323.3" fill="#46b08a"/>
<circle cx="170.4" cy="1253" fill="#b9ea3f"/>
<circle cx="126.4" cy="1408" fill="#462274"/>
<circle cx="177.7" cy="1225.3" fill="#c0eb3c"/>
<circle cx="220.7" cy="1450.7" fill="#39738e"/>
<circle cx="133.7" cy="1380.4" fill="#3c658c"/>
<circle cx="228" cy="1423.1" fill="#3e588a"/>
<circle cx="141" cy="1352.7" fill="#3b8e8e"/>
<circle cx="235.4" cy="1395.5" fill="#44307a"/>
<circle cx="148.3" cy="1325.1" fill="#3fa58d"/>
<circle cx="329.8" cy="1438.2" fill="#44367e"/>
<circle cx="242.7" cy="1367.8" fill="#3a6f8d"/>
<circle cx="155.6" cy="1297.4" fill="#54cb83"/>
<circle cx="111.5" cy="1452.6" fill="#462374"/>
<circle cx="337.1" cy="1410.6" fill="#462575"/>
<circle cx="250" cy="1340.1" fill="#3b8e8e"/>
<circle cx="162.9" cy="1269.7" fill="#a7e848"/>
<circle cx="118.8" cy="1424.9" fill="#452e7a"/>
<circle cx="257.3" cy="1312.4" fill="#65d476"/>
<circle cx="170.2" cy="1241.9" fill="#ceec35"/>
<circle cx="126.1" cy="1397.2" fill="#3b6a8d"/>
<circle cx="177.5" cy="1214.2" fill="#daee2f"/>
<circle cx="220.6" cy="1440.1" fill="#3c618c"/>
<circle cx="133.4" cy="1369.5" fill="#3a8a8e"/>
<circle cx="227.9" cy="1412.4" fill="#452877"/>
<circle cx="140.7" cy="1341.8" fill="#3fa58d"/>
<circle cx="322.5" cy="1455.2" fill="#46166c"/>
<circle cx="235.3" cy="1384.6" fill="#3f538a"/>
<circle cx="148" cy="1314.1" fill="#53c984"/>
<circle cx="329.9" cy="1427.5" fill="#462273"/>
<circle cx="242.6" cy="1356.9" fill="#3c978e"/>
<circle cx="155.3" cy="1286.3" fill="#68d673"/>
<circle cx="111.2" cy="1441.9" fill="#452a77"/>
<circle cx="337.3" cy="1399.8" fill="#452977"/>
<circle cx="249.9" cy="1329.2" fill="#40a68d"/>
<circle cx="162.6" cy="1258.6" fill="#bcea3e"/>
<circle cx="118.5" cy="1414.2" fill="#39718e"/>
<circle cx="257.3" cy="1301.4" fill="#54cb83"/>
<circle cx="170" cy="1230.8" fill="#c1eb3b"/>
<circle cx="213.1" cy="1457" fill="#3c658c"/>
<circle cx="125.8" cy="1386.4" fill="#3a868e"/>
<circle cx="220.5" cy="1429.3" fill="#433c81"/>
<circle cx="133.1" cy="1358.7" fill="#42ab8c"/>
<circle cx="227.8" cy="1401.6" fill="#44367e"/>
<circle cx="140.4" cy="1330.9" fill="#4dbd87"/>
<circle cx="322.6" cy="1444.5" fill="#452c78"/>
<circle cx="235.2" cy="1373.8" fill="#3b8d8e"/>
<circle cx="147.7" cy="1303.1" fill="#6bd771"/>
<circle cx="103.5" cy="1458.9" fill="#452977"/>
<circle cx="330" cy="1416.7" fill="#44347d"/>
<circle cx="242.5" cy="1346" fill="#3d9c8e"/>
<circle cx="155.1" cy="1275.3" fill="#9ae64f"/>
<circle cx="110.8" cy="1431.1" fill="#39748e"/>
<circle cx="337.4" cy="1388.9" fill="#462776"/>
<circle cx="249.9" cy="1318.2" fill="#52c784"/>
<circle cx="162.4" cy="1247.5" fill="#c4eb3a"/>
<circle cx="118.2" cy="1403.4" fill="#3c958e"/>
<circle cx="257.2" cy="1290.4" fill="#4dbd87"/>
<circle cx="169.7" cy="1219.6" fill="#c8ec38"/>
<circle cx="213" cy="1446.3" fill="#43377e"/>
<circle cx="125.5" cy="1375.6" fill="#3c988e"/>
<circle cx="220.4" cy="1418.5" fill="#414686"/>
<circle cx="132.8" cy="1347.7" fill="#54ca83"/>
<circle cx="315.3" cy="1461.5" fill="#450d65"/>
<circle cx="227.7" cy="1390.7" fill="#38768e"/>
<circle cx="140.1" cy="1319.9" fill="#7edf62"/>
<circle cx="322.7" cy="1433.7" fill="#452f7a"/>
<circle cx="235.1" cy="1362.9" fill="#3d9c8e"/>
<circle cx="147.5" cy="1292.1" fill="#83e15e"/>
<circle cx="103.2" cy="1448.2" fill="#3e5b8b"/>
<circle cx="330.1" cy="1405.9" fill="#433a80"/>
<circle cx="242.4" cy="1335" fill="#3da08e"/>
<circle cx="154.8" cy="1264.2" fill="#c1eb3b"/>
<circle cx="110.5" cy="1420.3" fill="#42a98c"/>
<circle cx="337.5" cy="1378.1" fill="#442f7a"/>
<circle cx="249.8" cy="1307.2" fill="#49b789"/>
<circle cx="162.2" cy="1236.3" fill="#cdec35"/>
<circle cx="205.5" cy="1463.4" fill="#424284"/>
<circle cx="117.8" cy="1392.5" fill="#3d9f8e"/>
<circle cx="257.2" cy="1279.3" fill="#4bba88"/>
<circle cx="212.9" cy="1435.6" fill="#43377e"/>
<circle cx="125.2" cy="1364.6" fill="#49b689"/>
<circle cx="220.2" cy="1407.7" fill="#39728e"/>
<circle cx="132.5" cy="1336.8" fill="#7cde64"/>
<circle cx="315.4" cy="1450.8" fill="#47186e"/>
<circle cx="227.6" cy="1379.8" fill="#39818e"/>
<circle cx="139.9" cy="1308.9" fill="#82e05f"/>
<circle cx="95.5" cy="1465.3" fill="#3b8b8e"/>
<circle cx="322.8" cy="1422.9" fill="#44367e"/>
<circle cx="235" cy="1351.9" fill="#42a98c"/>
<circle cx="147.2" cy="1281" fill="#a2e74b"/>
<circle cx="102.8" cy="1437.4" fill="#3d9b8e"/>
<circle cx="418" cy="1466" fill="#462575"/>
<circle cx="330.2" cy="1395" fill="#442f7a"/>
<circle cx="242.4" cy="1324" fill="#44ae8b"/>
<circle cx="154.6" cy="1253" fill="#d1ed33"/>
<circle cx="110.2" cy="1409.5" fill="#45ae8b"/>
<circle cx="337.6" cy="1367.1" fill="#462072"/>
<circle cx="249.8" cy="1296.1" fill="#48b489"/>
<circle cx="161.9" cy="1225.1" fill="#c4eb3a"/>
<circle cx="205.3" cy="1452.6" fill="#44337c"/>
<circle cx="117.5" cy="1381.6" fill="#42aa8c"/>
<circle cx="257.1" cy="1268.2" fill="#48b489"/>
<circle cx="212.7" cy="1424.7" fill="#3b8a8e"/>
<circle cx="124.8" cy="1353.7" fill="#54c983"/>
<circle cx="308" cy="1467.9" fill="#462374"/>
<circle cx="220.1" cy="1396.8" fill="#39818e"/>
<circle cx="132.2" cy="1325.8" fill="#9de74d"/>
<circle cx="315.4" cy="1440" fill="#44337c"/>
<circle cx="227.5" cy="1368.9" fill="#3c958e"/>
<circle cx="139.6" cy="1297.8" fill="#8ce556"/>
<circle cx="95.1" cy="1454.5" fill="#3d9e8e"/>
<circle cx="322.8" cy="1412.1" fill="#452c78"/>
<circle cx="234.9" cy="1341" fill="#3da08e"/>
<circle cx="146.9" cy="1269.8" fill="#c0eb3c"/>
<circle cx="102.4" cy="1426.6" fill="#45af8b"/>
<circle cx="418.3" cy="1455.3" fill="#462675"/>
<circle cx="330.3" cy="1384.1" fill="#44357d"/>
<circle cx="242.3" cy="1313" fill="#41a78d"/>
<circle cx="154.3" cy="1241.8" fill="#cfec34"/>
<circle cx="197.8" cy="1469.8" fill="#44327c"/>
<circle cx="109.8" cy="1398.6" fill="#4dbe87"/>
<circle cx="337.7" cy="1356.2" fill="#424184"/>
<circle cx="249.7" cy="1285" fill="#3ea38e"/>
<circle cx="205.2" cy="1441.8" fill="#39748e"/>
<circle cx="117.2" cy="1370.7" fill="#4cbb87"/>
<circle cx="257.1" cy="1257" fill="#42aa8c"/>
<circle cx="212.6" cy="1413.9" fill="#3a878e"/>
<circle cx="124.5" cy="1342.7" fill="#71da6c"/>
<circle cx="308.1" cy="1457.1" fill="#44307a"/>
<circle cx="220" cy="1385.9" fill="#3a888e"/>
<circle cx="131.9" cy="1314.7" fill="#a9e847"/>
<circle cx="87.4" cy="1471.7" fill="#51c485"/>
<circle cx="315.5" cy="1429.2" fill="#44307a"/>
<circle cx="227.4" cy="1357.9" fill="#3b918e"/>
<circle cx="139.3" cy="1286.7" fill="#a0e74c"/>
<circle cx="94.7" cy="1443.7" fill="#44ad8b"/>
<circle cx="411.1" cy="1472.4" fill="#472072"/>
<circle cx="322.9" cy="1401.2" fill="#424586"/>
<circle cx="234.8" cy="1329.9" fill="#3d9e8e"/>
<circle cx="146.7" cy="1258.7" fill="#b8ea40"/>
<circle cx="102.1" cy="1415.7" fill="#4bba88"/>
<circle cx="418.5" cy="1444.5" fill="#462474"/>
<circle cx="330.4" cy="1373.2" fill="#404d89"/>
<circle cx="242.2" cy="1301.9" fill="#3ea28e"/>
<circle cx="154" cy="1230.6" fill="#abe846"/>
<circle cx="197.6" cy="1459" fill="#404f89"/>
<circle cx="109.5" cy="1387.7" fill="#4fc086"/>
<circle cx="337.8" cy="1345.2" fill="#39738e"/>
<circle cx="249.6" cy="1273.8" fill="#41a88d"/>
<circle cx="205" cy="1431" fill="#3c938e"/>
<circle cx="116.8" cy="1359.7" fill="#58cf81"/>
<circle cx="257" cy="1245.8" fill="#3fa58e"/>
<circle cx="300.7" cy="1474.3" fill="#452f7a"/>
<circle cx="212.4" cy="1403" fill="#3a868e"/>
<circle cx="124.2" cy="1331.7" fill="#85e25c"/>
<circle cx="308.1" cy="1446.3" fill="#462575"/>
<circle cx="219.9" cy="1375" fill="#3a868e"/>
<circle cx="131.6" cy="1303.6" fill="#aae847"/>
<circle cx="87" cy="1460.9" fill="#4ec086"/>
<circle cx="315.6" cy="1418.3" fill="#433e82"/>
<circle cx="227.3" cy="1346.9" fill="#3d9d8e"/>
<circle cx="139" cy="1275.5" fill="#b8ea40"/>
<circle cx="94.3" cy="1432.9" fill="#48b489"/>
<circle cx="411.3" cy="1461.6" fill="#44307b"/>
<circle cx="323" cy="1390.2" fill="#3c618c"/>
<circle cx="234.7" cy="1318.8" fill="#3c9a8e"/>
<circle cx="146.4" cy="1247.4" fill="#9ce74e"/>
<circle cx="190.1" cy="1476.2" fill="#452a77"/>
<circle cx="101.7" cy="1404.8" fill="#46b18a"/>
<circle cx="418.8" cy="1433.6" fill="#462273"/>
<circle cx="330.5" cy="1362.2" fill="#3c658c"/>
<circle cx="242.1" cy="1290.8" fill="#3ea28e"/>
<circle cx="197.5" cy="1448.2" fill="#3a848e"/>
<circle cx="109.1" cy="1376.7" fill="#54ca83"/>
<circle cx="337.9" cy="1334.1" fill="#3b928e"/>
<circle cx="249.6" cy="1262.6" fill="#3fa58d"/>
<circle cx="204.9" cy="1420.1" fill="#3c978e"/>
<circle cx="116.5" cy="1348.7" fill="#53c884"/>
<circle cx="257" cy="1234.5" fill="#3d9d8e"/>
<circle cx="300.7" cy="1463.5" fill="#452c78"/>
<circle cx="212.3" cy="1392" fill="#3b8d8e"/>
<circle cx="123.9" cy="1320.6" fill="#84e15d"/>
<circle cx="79.2" cy="1478.1" fill="#44ae8b"/>
<circle cx="308.2" cy="1435.5" fill="#424385"/>
<circle cx="219.7" cy="1364" fill="#3b918e"/>
<circle cx="131.3" cy="1292.4" fill="#a9e847"/>
<circle cx="86.6" cy="1450.1" fill="#52c684"/>
<circle cx="404.1" cy="1478.9" fill="#452e7a"/>
<circle cx="315.6" cy="1407.4" fill="#39738e"/>
<circle cx="227.2" cy="1335.8" fill="#3d9c8e"/>
<circle cx="138.7" cy="1264.3" fill="#b7ea41"/>
<circle cx="94" cy="1422" fill="#43ac8b"/>
<circle cx="411.6" cy="1450.8" fill="#462274"/>
<circle cx="323.1" cy="1379.3" fill="#39758e"/>
<circle cx="234.6" cy="1307.7" fill="#3d9f8e"/>
<circle cx="146.1" cy="1236.2" fill="#a9e847"/>
<circle cx="189.9" cy="1465.4" fill="#3e5a8b"/>
<circle cx="101.4" cy="1393.9" fill="#4ec086"/>
<circle cx="419.1" cy="1422.7" fill="#44347d"/>
<circle cx="330.6" cy="1351.1" fill="#3a878e"/>
<circle cx="242" cy="1279.6" fill="#3da18e"/>
<circle cx="197.3" cy="1437.3" fill="#3ea38e"/>
<circle cx="108.8" cy="1365.7" fill="#51c584"/>
<circle cx="338" cy="1323" fill="#3b928e"/>
<circle cx="249.5" cy="1251.4" fill="#3d9d8e"/>
<circle cx="293.3" cy="1480.8" fill="#44327c"/>
<circle cx="204.7" cy="1409.2" fill="#3a898e"/>
<circle cx="116.2" cy="1337.6" fill="#6cd770"/>
<circle cx="300.8" cy="1452.7" fill="#404f89"/>
<circle cx="212.2" cy="1381.1" fill="#3b8e8e"/>
<circle cx="123.6" cy="1309.4" fill="#7edf61"/>
<circle cx="78.8" cy="1467.3" fill="#48b489"/>
<circle cx="308.2" cy="1424.6" fill="#38768e"/>
<circle cx="219.6" cy="1352.9" fill="#3b918e"/>
<circle cx="131" cy="1281.3" fill="#b4e942"/>
<circle cx="86.2" cy="1439.2" fill="#4fc286"/>
<circle cx="404.3" cy="1468.1" fill="#471d71"/>
<circle cx="315.7" cy="1396.4" fill="#3a868e"/>
<circle cx="227.1" cy="1324.7" fill="#3b928e"/>
<circle cx="138.4" cy="1253.1" fill="#88e35a"/>
<circle cx="182.2" cy="1482.7" fill="#3b678c"/>
<circle cx="93.6" cy="1411" fill="#49b788"/>
<circle cx="411.8" cy="1439.9" fill="#44337c"/>
<circle cx="323.2" cy="1368.2" fill="#39818e"/>
<circle cx="234.5" cy="1296.5" fill="#3c9b8e"/>
<circle cx="189.7" cy="1454.6" fill="#39798e"/>
<circle cx="101" cy="1382.9" fill="#4dbd87"/>
<circle cx="419.4" cy="1411.8" fill="#462474"/>
<circle cx="330.7" cy="1340.1" fill="#3c9a8e"/>
<circle cx="242" cy="1268.3" fill="#3fa58d"/>
<circle cx="197.1" cy="1426.4" fill="#3a898e"/>
<circle cx="108.4" cy="1354.7" fill="#4fc286"/>
<circle cx="338.2" cy="1311.9" fill="#3ea28e"/>
<circle cx="249.4" cy="1240.1" fill="#3c998e"/>
<circle cx="293.3" cy="1470" fill="#404c89"/>
<circle cx="204.6" cy="1398.2" fill="#3b8f8e"/>
<circle cx="115.8" cy="1326.5" fill="#68d673"/>
<circle cx="70.9" cy="1484.6" fill="#3c978e"/>
<circle cx="300.8" cy="1441.8" fill="#397f8e"/>
<circle cx="212" cy="1370" fill="#3a858e"/>
<circle cx="123.2" cy="1298.3" fill="#86e25b"/>
<circle cx="78.4" cy="1456.5" fill="#45af8b"/>
<circle cx="397.1" cy="1485.4" fill="#452e7a"/>
<circle cx="308.3" cy="1413.6" fill="#397a8e"/>
<circle cx="219.5" cy="1341.8" fill="#3b8b8e"/>
<circle cx="130.7" cy="1270" fill="#8ee555"/>
<circle cx="85.8" cy="1428.3" fill="#41a78d"/>
<circle cx="404.6" cy="1457.2" fill="#44367e"/>
<circle cx="315.8" cy="1385.4" fill="#3ea28e"/>
<circle cx="226.9" cy="1313.6" fill="#3c9a8e"/>
<circle cx="138.1" cy="1241.8" fill="#82e15e"/>
<circle cx="182" cy="1471.9" fill="#38778e"/>
<circle cx="93.2" cy="1400.1" fill="#49b689"/>
<circle cx="412.1" cy="1429" fill="#44337d"/>
<circle cx="323.3" cy="1357.2" fill="#3c948e"/>
<circle cx="234.4" cy="1285.3" fill="#3c938e"/>
<circle cx="189.5" cy="1443.7" fill="#40a78d"/>
<circle cx="100.6" cy="1371.8" fill="#4ab788"/>
<circle cx="419.6" cy="1400.8" fill="#452977"/>
<circle cx="330.8" cy="1328.9" fill="#3ea28e"/>
<circle cx="241.9" cy="1257.1" fill="#3c958e"/>
<circle cx="285.8" cy="1487.3" fill="#424083"/>
<circle cx="196.9" cy="1415.5" fill="#3c938e"/>
<circle cx="108" cy="1343.6" fill="#56cd82"/>
<circle cx="338.3" cy="1300.7" fill="#3d9c8e"/>
<circle cx="293.3" cy="1459.1" fill="#3b8a8e"/>
<circle cx="204.4" cy="1387.2" fill="#3a868e"/>
<circle cx="115.5" cy="1315.3" fill="#59cf80"/>
<circle cx="70.5" cy="1473.8" fill="#42aa8c"/>
<circle cx="300.8" cy="1430.9" fill="#3b8f8e"/>
<circle cx="211.9" cy="1359" fill="#3b8b8e"/>
<circle cx="122.9" cy="1287" fill="#7bde64"/>
<circle cx="77.9" cy="1445.5" fill="#49b689"/>
<circle cx="397.3" cy="1474.6" fill="#452a78"/>
<circle cx="308.3" cy="1402.6" fill="#3c948e"/>
<circle cx="219.4" cy="1330.7" fill="#3c948e"/>
<circle cx="130.4" cy="1258.7" fill="#7ddf62"/>
<circle cx="174.4" cy="1489.2" fill="#39808e"/>
<circle cx="85.4" cy="1417.3" fill="#42a98c"/>
<circle cx="404.8" cy="1446.3" fill="#44357d"/>
<circle cx="315.8" cy="1374.3" fill="#3d9e8e"/>
<circle cx="226.8" cy="1302.4" fill="#3c958e"/>
<circle cx="181.8" cy="1461" fill="#3b8c8e"/>
<circle cx="92.8" cy="1389" fill="#44ae8b"/>
<circle cx="501.4" cy="1490" fill="#452f7a"/>
<circle cx="412.4" cy="1418" fill="#452a78"/>
<circle cx="323.3" cy="1346.1" fill="#3da08e"/>
<circle cx="234.3" cy="1274.1" fill="#3b8d8e"/>
<circle cx="189.3" cy="1432.7" fill="#3c998e"/>
<circle cx="100.2" cy="1360.7" fill="#4ebf86"/>
<circle cx="419.9" cy="1389.8" fill="#452977"/>
<circle cx="330.9" cy="1317.8" fill="#42a98c"/>
<circle cx="241.8" cy="1245.7" fill="#3c978e"/>
<circle cx="285.8" cy="1476.5" fill="#3a6f8d"/>
<circle cx="196.8" cy="1404.5" fill="#3a878e"/>
<circle cx="107.7" cy="1332.4" fill="#50c385"/>
<circle cx="62.6" cy="1491.2" fill="#3c938e"/>
<circle cx="338.4" cy="1289.4" fill="#44ad8b"/>
<circle cx="293.4" cy="1448.2" fill="#3ea38e"/>
<circle cx="204.3" cy="1376.2" fill="#3b8f8e"/>
<circle cx="115.1" cy="1304.1" fill="#60d37a"/>
<circle cx="70.1" cy="1462.9" fill="#44ad8b"/>
<circle cx="390" cy="1492" fill="#43377e"/>
<circle cx="300.9" cy="1419.9" fill="#3c9a8e"/>
<circle cx="211.7" cy="1347.8" fill="#3a898e"/>
<circle cx="122.6" cy="1275.8" fill="#74db6a"/>
<circle cx="77.5" cy="1434.6" fill="#46b28a"/>
<circle cx="397.5" cy="1463.7" fill="#433c81"/>
<circle cx="308.4" cy="1391.6" fill="#3c988e"/>
<circle cx="219.2" cy="1319.5" fill="#3a878e"/>
<circle cx="130.1" cy="1247.4" fill="#5ed17c"/>
<circle cx="174.1" cy="1478.4" fill="#3b8e8e"/>
<circle cx="85" cy="1406.3" fill="#45b08a"/>
<circle cx="405.1" cy="1435.4" fill="#462776"/>
<circle cx="315.9" cy="1363.3" fill="#43ac8c"/>
<circle cx="226.7" cy="1291.1" fill="#3c938e"/>
<circle cx="181.6" cy="1450.1" fill="#3ea38e"/>
<circle cx="92.4" cy="1378" fill="#47b28a"/>
<circle cx="501.8" cy="1479.2" fill="#44317b"/>
<circle cx="412.6" cy="1407" fill="#433a80"/>
<circle cx="323.4" cy="1334.9" fill="#3ea28e"/>
<circle cx="234.2" cy="1262.8" fill="#3b8b8e"/>
<circle cx="278.3" cy="1493.9" fill="#3e5b8b"/>
<circle cx="189.1" cy="1421.8" fill="#3b908e"/>
<circle cx="99.9" cy="1349.6" fill="#50c385"/>
<circle cx="420.2" cy="1378.7" fill="#3b688c"/>
<circle cx="331" cy="1306.5" fill="#47b38a"/>
<circle cx="285.9" cy="1465.6" fill="#3c968e"/>
<circle cx="196.6" cy="1393.4" fill="#3b8c8e"/>
<circle cx="107.3" cy="1321.2" fill="#50c285"/>
<circle cx="62.2" cy="1480.3" fill="#3d9f8e"/>
<circle cx="338.5" cy="1278.1" fill="#48b589"/>
<circle cx="293.4" cy="1437.2" fill="#3da18e"/>
<circle cx="204.1" cy="1365" fill="#3c938e"/>
<circle cx="114.8" cy="1292.9" fill="#55cd82"/>
<circle cx="69.6" cy="1452" fill="#45af8b"/>
<circle cx="390.2" cy="1481.1" fill="#424184"/>
<circle cx="300.9" cy="1408.9" fill="#3d9f8e"/>
<circle cx="211.6" cy="1336.7" fill="#3b918e"/>
<circle cx="122.3" cy="1264.4" fill="#66d575"/>
<circle cx="166.4" cy="1495.8" fill="#3fa48e"/>
<circle cx="77.1" cy="1423.6" fill="#49b689"/>
<circle cx="397.8" cy="1452.7" fill="#462776"/>
<circle cx="308.4" cy="1380.5" fill="#42aa8c"/>
<circle cx="219.1" cy="1308.3" fill="#3b8b8e"/>
<circle cx="173.9" cy="1467.5" fill="#3d9e8e"/>
<circle cx="84.6" cy="1395.2" fill="#43ab8c"/>
<circle cx="494.7" cy="1496.6" fill="#462575"/>
<circle cx="405.3" cy="1424.4" fill="#433980"/>
<circle cx="316" cy="1352.1" fill="#40a78d"/>
<circle cx="226.6" cy="1279.8" fill="#3c938e"/>
<circle cx="181.4" cy="1439.1" fill="#3d9c8e"/>
<circle cx="92" cy="1366.8" fill="#49b788"/>
<circle cx="502.3" cy="1468.3" fill="#462776"/>
<circle cx="412.9" cy="1396" fill="#3e588a"/>
<circle cx="323.5" cy="1323.7" fill="#3c948e"/>
<circle cx="234.1" cy="1251.4" fill="#3a858e"/>
<circle cx="278.3" cy="1483" fill="#39758e"/>
<circle cx="188.9" cy="1410.7" fill="#3a898e"/>
<circle cx="99.5" cy="1338.4" fill="#4dbd87"/>
<circle cx="420.5" cy="1367.6" fill="#3c9a8e"/>
<circle cx="331.1" cy="1295.3" fill="#43ab8c"/>
<circle cx="285.9" cy="1454.6" fill="#40a68d"/>
<circle cx="196.4" cy="1382.3" fill="#3a868e"/>
<circle cx="107" cy="1310" fill="#49b788"/>
<circle cx="61.7" cy="1469.4" fill="#40a68d"/>
<circle cx="338.6" cy="1266.8" fill="#4ec086"/>
<circle cx="382.9" cy="1498.6" fill="#43377e"/>
<circle cx="293.4" cy="1426.2" fill="#3ea28e"/>
<circle cx="203.9" cy="1353.9" fill="#3b8c8e"/>
<circle cx="114.5" cy="1281.6" fill="#53c884"/>
<circle cx="69.2" cy="1441" fill="#48b589"/>
<circle cx="390.4" cy="1470.2" fill="#43387f"/>
<circle cx="300.9" cy="1397.8" fill="#45af8b"/>
<circle cx="211.4" cy="1325.5" fill="#3a888e"/>
<circle cx="121.9" cy="1253.1" fill="#4ab888"/>
<circle cx="166.2" cy="1484.9" fill="#3d9e8e"/>
<circle cx="76.7" cy="1412.6" fill="#46b08a"/>
<circle cx="398" cy="1441.8" fill="#44357d"/>
<circle cx="308.5" cy="1369.4" fill="#42a98c"/>
<circle cx="219" cy="1297" fill="#3b8b8e"/>
<circle cx="173.7" cy="1456.5" fill="#3ea38e"/>
<circle cx="84.2" cy="1384.1" fill="#45af8b"/>
<circle cx="495.1" cy="1485.7" fill="#452e7a"/>
<circle cx="405.6" cy="1413.3" fill="#39738e"/>
<circle cx="316" cy="1340.9" fill="#49b789"/>
<circle cx="226.5" cy="1268.5" fill="#3b908e"/>
<circle cx="270.8" cy="1500.5" fill="#3e598a"/>
<circle cx="181.2" cy="1428.1" fill="#3c968e"/>
<circle cx="91.6" cy="1355.7" fill="#47b38a"/>
<circle cx="502.8" cy="1457.3" fill="#471c70"/>
<circle cx="413.2" cy="1384.9" fill="#3b908e"/>
<circle cx="323.6" cy="1312.4" fill="#3d9f8e"/>
<circle cx="278.3" cy="1472.1" fill="#3b8d8e"/>
<circle cx="188.7" cy="1399.6" fill="#3a868e"/>
<circle cx="99.1" cy="1327.2" fill="#45af8b"/>
<circle cx="420.8" cy="1356.4" fill="#5dd17c"/>
<circle cx="331.2" cy="1284" fill="#4dbe87"/>
<circle cx="285.9" cy="1443.6" fill="#42a98c"/>
<circle cx="196.2" cy="1371.2" fill="#3b908e"/>
<circle cx="106.6" cy="1298.7" fill="#3fa48e"/>
<circle cx="338.7" cy="1255.4" fill="#52c784"/>
<circle cx="383.1" cy="1487.7" fill="#433d82"/>
<circle cx="293.4" cy="1415.2" fill="#3fa58e"/>
<circle cx="203.8" cy="1342.7" fill="#3b908e"/>
<circle cx="114.1" cy="1270.2" fill="#48b589"/>
<circle cx="158.4" cy="1502.5" fill="#3da18e"/>
<circle cx="68.8" cy="1430" fill="#47b28a"/>
<circle cx="390.7" cy="1459.2" fill="#452c79"/>
<circle cx="301" cy="1386.7" fill="#42a98c"/>
<circle cx="211.3" cy="1314.2" fill="#3b8e8e"/>
<circle cx="166" cy="1474" fill="#3fa58e"/>
<circle cx="76.3" cy="1401.5" fill="#43ac8c"/>
<circle cx="487.9" cy="1503.3" fill="#43387f"/>
<circle cx="398.2" cy="1430.7" fill="#397c8e"/>
<circle cx="308.5" cy="1358.2" fill="#41a98c"/>
<circle cx="218.8" cy="1285.7" fill="#3d9c8e"/>
<circle cx="173.5" cy="1445.5" fill="#40a78d"/>
<circle cx="83.8" cy="1373" fill="#45af8b"/>
<circle cx="495.6" cy="1474.8" fill="#452877"/>
<circle cx="405.8" cy="1402.2" fill="#3d9c8e"/>
<circle cx="316.1" cy="1329.7" fill="#45af8b"/>
<circle cx="226.4" cy="1257.1" fill="#3c938e"/>
<circle cx="270.8" cy="1489.6" fill="#397d8e"/>
<circle cx="181" cy="1417" fill="#3c958e"/>
<circle cx="91.2" cy="1344.5" fill="#46b18a"/>
<circle cx="503.2" cy="1446.3" fill="#462776"/>
<circle cx="413.4" cy="1373.7" fill="#3fa48e"/>
<circle cx="323.7" cy="1301.1" fill="#42aa8c"/>
<circle cx="278.3" cy="1461.1" fill="#44ae8b"/>
<circle cx="188.5" cy="1388.5" fill="#3b8f8e"/>
<circle cx="98.8" cy="1315.9" fill="#40a78d"/>
<circle cx="421.1" cy="1345.2" fill="#65d476"/>
<circle cx="331.3" cy="1272.6" fill="#4cbc87"/>
<circle cx="375.7" cy="1505.2" fill="#43377e"/>
<circle cx="285.9" cy="1432.6" fill="#49b689"/>
<circle cx="196.1" cy="1360" fill="#3c988e"/>
<circle cx="106.3" cy="1287.4" fill="#3da08e"/>
<circle cx="383.3" cy="1476.7" fill="#424083"/>
<circle cx="293.4" cy="1404.1" fill="#46b18a"/>
<circle cx="203.6" cy="1331.5" fill="#3b908e"/>
<circle cx="113.8" cy="1258.8" fill="#44ae8b"/>
<circle cx="158.2" cy="1491.5" fill="#3ea28e"/>
<circle cx="68.3" cy="1418.9" fill="#46b18a"/>
<circle cx="390.9" cy="1448.2" fill="#3a6d8d"/>
<circle cx="301" cy="1375.5" fill="#44ad8b"/>
<circle cx="211.2" cy="1302.9" fill="#3a838e"/>
<circle cx="165.7" cy="1463" fill="#45b08a"/>
<circle cx="75.8" cy="1390.4" fill="#42a98c"/>
<circle cx="488.4" cy="1492.3" fill="#442f7a"/>
<circle cx="398.5" cy="1419.7" fill="#40a68d"/>
<circle cx="308.6" cy="1347" fill="#49b689"/>
<circle cx="218.7" cy="1274.3" fill="#3b8b8e"/>
<circle cx="263.2" cy="1507.2" fill="#3a858e"/>
<circle cx="173.3" cy="1434.5" fill="#3da18e"/>
<circle cx="83.3" cy="1361.8" fill="#4bbb87"/>
<circle cx="496" cy="1463.8" fill="#462776"/>
<circle cx="406.1" cy="1391.1" fill="#47b38a"/>
<circle cx="316.2" cy="1318.4" fill="#49b689"/>
<circle cx="270.7" cy="1478.7" fill="#3c948e"/>
<circle cx="180.8" cy="1405.9" fill="#3b8e8e"/>
<circle cx="90.9" cy="1333.2" fill="#44ad8b"/>
<circle cx="503.7" cy="1435.3" fill="#44377e"/>
<circle cx="413.7" cy="1362.5" fill="#60d37a"/>
<circle cx="323.8" cy="1289.8" fill="#4ab888"/>
<circle cx="278.3" cy="1450.1" fill="#40a78d"/>
<circle cx="188.3" cy="1377.4" fill="#3b918e"/>
<circle cx="98.4" cy="1304.6" fill="#42aa8c"/>
<circle cx="421.3" cy="1333.9" fill="#64d477"/>
<circle cx="331.4" cy="1261.2" fill="#51c585"/>
<circle cx="375.9" cy="1494.3" fill="#423f82"/>
<circle cx="285.9" cy="1421.5" fill="#45af8b"/>
<circle cx="195.9" cy="1348.8" fill="#3c9b8e"/>
<circle cx="105.9" cy="1276" fill="#3fa58d"/>
<circle cx="150.4" cy="1509.2" fill="#3d9e8e"/>
<circle cx="383.5" cy="1465.7" fill="#397a8e"/>
<circle cx="293.5" cy="1392.9" fill="#47b389"/>
<circle cx="203.4" cy="1320.2" fill="#3c968e"/>
<circle cx="157.9" cy="1480.6" fill="#3ea38e"/>
<circle cx="481.1" cy="1509.9" fill="#414787"/>
<circle cx="391.1" cy="1437.1" fill="#3c938e"/>
<circle cx="301.1" cy="1364.3" fill="#47b28a"/>
<circle cx="211" cy="1291.5" fill="#3b8f8e"/>
<circle cx="165.5" cy="1452" fill="#3d9b8e"/>
<circle cx="75.4" cy="1379.2" fill="#43ac8b"/>
<circle cx="488.8" cy="1481.4" fill="#452c79"/>
<circle cx="398.7" cy="1408.5" fill="#6fd86e"/>
<circle cx="308.7" cy="1335.7" fill="#4fc086"/>
<circle cx="218.6" cy="1262.9" fill="#3c9a8e"/>
<circle cx="263.1" cy="1496.2" fill="#3b8c8e"/>
<circle cx="173" cy="1423.4" fill="#3c988e"/>
<circle cx="82.9" cy="1350.6" fill="#3ea38e"/>
<circle cx="496.5" cy="1452.8" fill="#433c81"/>
<circle cx="406.4" cy="1379.9" fill="#56cd82"/>
<circle cx="316.3" cy="1307.1" fill="#41a98c"/>
<circle cx="270.7" cy="1467.7" fill="#4ab988"/>
<circle cx="180.6" cy="1394.8" fill="#3d9e8e"/>
<circle cx="90.5" cy="1321.9" fill="#41a88d"/>
<circle cx="504.1" cy="1424.2" fill="#43377e"/>
<circle cx="414" cy="1351.3" fill="#5fd27b"/>
<circle cx="323.9" cy="1278.4" fill="#4cbb87"/>
<circle cx="368.4" cy="1511.9" fill="#43377e"/>
<circle cx="278.3" cy="1439" fill="#3da18e"/>
<circle cx="188.1" cy="1366.2" fill="#3c9a8e"/>
<circle cx="98" cy="1293.3" fill="#3da08e"/>
<circle cx="421.6" cy="1322.6" fill="#68d674"/>
<circle cx="376.1" cy="1483.3" fill="#b9ea3f"/>
<circle cx="285.9" cy="1410.4" fill="#47b389"/>
<circle cx="195.7" cy="1337.5" fill="#3c988e"/>
<circle cx="105.5" cy="1264.6" fill="#3d9d8e"/>
<circle cx="150.1" cy="1498.2" fill="#3fa58d"/>
<circle cx="383.7" cy="1454.7" fill="#3d9b8e"/>
<circle cx="293.5" cy="1381.8" fill="#56ce82"/>
<circle cx="203.3" cy="1308.8" fill="#3c948e"/>
<circle cx="157.7" cy="1469.6" fill="#46b18a"/>
<circle cx="481.6" cy="1499" fill="#44307b"/>
<circle cx="391.3" cy="1426.1" fill="#4dbd87"/>
<circle cx="301.1" cy="1353.1" fill="#47b38a"/>
<circle cx="210.9" cy="1280.1" fill="#3c978e"/>
<circle cx="255.5" cy="1513.9" fill="#3c948e"/>
<circle cx="165.2" cy="1440.9" fill="#4ab988"/>
<circle cx="489.2" cy="1470.4" fill="#44307b"/>
<circle cx="399" cy="1397.4" fill="#6cd870"/>
<circle cx="308.7" cy="1324.4" fill="#49b689"/>
<circle cx="263.1" cy="1485.3" fill="#3ea38e"/>
<circle cx="172.8" cy="1412.3" fill="#3b8f8e"/>
<circle cx="82.5" cy="1339.3" fill="#3fa48e"/>
<circle cx="496.9" cy="1441.7" fill="#44327c"/>
<circle cx="406.6" cy="1368.7" fill="#71da6c"/>
<circle cx="316.3" cy="1295.7" fill="#47b28a"/>
<circle cx="270.7" cy="1456.6" fill="#48b589"/>
<circle cx="180.4" cy="1383.6" fill="#3d9d8e"/>
<circle cx="90.1" cy="1310.6" fill="#3da18e"/>
<circle cx="504.6" cy="1413" fill="#414787"/>
<circle cx="414.3" cy="1340" fill="#68d574"/>
<circle cx="323.9" cy="1267" fill="#50c285"/>
<circle cx="368.6" cy="1501" fill="#dbee2e"/>
<circle cx="278.3" cy="1427.9" fill="#46b18a"/>
<circle cx="188" cy="1354.9" fill="#3d9e8e"/>
<circle cx="97.6" cy="1281.9" fill="#3d9e8e"/>
<circle cx="142.3" cy="1515.9" fill="#3d9d8e"/>
<circle cx="421.9" cy="1311.3" fill="#6fd86e"/>
<circle cx="376.3" cy="1472.3" fill="#50c385"/>
<circle cx="285.9" cy="1399.2" fill="#46b28a"/>
<circle cx="195.5" cy="1326.2" fill="#3c938e"/>
<circle cx="149.8" cy="1487.2" fill="#3fa48e"/>
<circle cx="474.3" cy="1516.7" fill="#424183"/>
<circle cx="383.9" cy="1443.6" fill="#52c784"/>
<circle cx="293.5" cy="1370.5" fill="#58cf81"/>
<circle cx="203.1" cy="1297.4" fill="#3b8e8e"/>
<circle cx="157.4" cy="1458.5" fill="#3d9f8e"/>
<circle cx="482" cy="1488" fill="#452b78"/>
<circle cx="391.6" cy="1414.9" fill="#72da6c"/>
<circle cx="301.1" cy="1341.8" fill="#4bba88"/>
<circle cx="210.7" cy="1268.7" fill="#40a58d"/>
<circle cx="255.4" cy="1502.9" fill="#3d9f8e"/>
<circle cx="165" cy="1429.8" fill="#3d9e8e"/>
<circle cx="489.7" cy="1459.3" fill="#44327c"/>
<circle cx="399.2" cy="1386.2" fill="#6bd771"/>
<circle cx="308.8" cy="1313" fill="#4cbc87"/>
<circle cx="263" cy="1474.2" fill="#4dbd87"/>
<circle cx="172.6" cy="1401.1" fill="#3d9c8e"/>
<circle cx="497.3" cy="1430.6" fill="#433980"/>
<circle cx="406.9" cy="1357.4" fill="#6cd771"/>
<circle cx="316.4" cy="1284.3" fill="#4fc285"/>
<circle cx="361.1" cy="1518.7" fill="#4fc186"/>
<circle cx="270.7" cy="1445.5" fill="#44ae8b"/>
<circle cx="180.2" cy="1372.4" fill="#40a68d"/>
<circle cx="89.7" cy="1299.2" fill="#3da18e"/>
<circle cx="505" cy="1401.9" fill="#397f8e"/>
<circle cx="414.5" cy="1328.7" fill="#6bd771"/>
<circle cx="368.8" cy="1490" fill="#41a98c"/>
<circle cx="278.3" cy="1416.8" fill="#4dbd87"/>
<circle cx="187.8" cy="1343.6" fill="#3d9c8e"/>
<circle cx="97.2" cy="1270.4" fill="#3c9b8e"/>
<circle cx="142" cy="1504.9" fill="#40a68d"/>
<circle cx="422.2" cy="1299.9" fill="#86e25b"/>
<circle cx="376.5" cy="1461.2" fill="#5ed27b"/>
<circle cx="285.9" cy="1388" fill="#4cbc87"/>
<circle cx="195.4" cy="1314.8" fill="#3c948e"/>
<circle cx="149.6" cy="1476.2" fill="#46b28a"/>
<circle cx="474.7" cy="1505.7" fill="#414887"/>
<circle cx="384.1" cy="1432.5" fill="#5ad07f"/>
<circle cx="293.5" cy="1359.3" fill="#50c385"/>
<circle cx="203" cy="1286" fill="#3d9c8e"/>
<circle cx="247.8" cy="1520.7" fill="#54c983"/>
<circle cx="157.2" cy="1447.4" fill="#3da08e"/>
<circle cx="482.4" cy="1477" fill="#433e82"/>
<circle cx="391.8" cy="1403.7" fill="#65d476"/>
<circle cx="301.2" cy="1330.5" fill="#50c385"/>
<circle cx="255.4" cy="1491.9" fill="#44ad8b"/>
<circle cx="164.8" cy="1418.7" fill="#3c9b8e"/>
<circle cx="490.1" cy="1448.2" fill="#424083"/>
<circle cx="399.5" cy="1374.9" fill="#74db6a"/>
<circle cx="308.8" cy="1301.6" fill="#4bba88"/>
<circle cx="263" cy="1463.2" fill="#47b28a"/>
<circle cx="172.3" cy="1389.9" fill="#3d9e8e"/>
<circle cx="497.8" cy="1419.4" fill="#3b678c"/>
<circle cx="407.1" cy="1346.1" fill="#5ed17c"/>
<circle cx="316.5" cy="1272.8" fill="#48b489"/>
<circle cx="361.3" cy="1507.7" fill="#b0e944"/>
<circle cx="270.6" cy="1434.4" fill="#4fc186"/>
<circle cx="180" cy="1361.1" fill="#41a88d"/>
<circle cx="89.3" cy="1287.7" fill="#3d9e8e"/>
<circle cx="505.5" cy="1390.6" fill="#3ea28e"/>
<circle cx="414.8" cy="1317.3" fill="#6ad772"/>
<circle cx="369" cy="1478.9" fill="#5dd17d"/>
<circle cx="278.3" cy="1405.6" fill="#44ad8b"/>
<circle cx="187.6" cy="1332.2" fill="#3fa48e"/>
<circle cx="141.7" cy="1493.9" fill="#40a78d"/>
<circle cx="422.5" cy="1288.4" fill="#7dde63"/>
<circle cx="467.4" cy="1523.5" fill="#414787"/>
<circle cx="376.7" cy="1450.1" fill="#57cf81"/>
<circle cx="285.9" cy="1376.8" fill="#5ad07f"/>
<circle cx="195.2" cy="1303.4" fill="#3d9f8e"/>
<circle cx="149.3" cy="1465.1" fill="#40a78d"/>
<circle cx="475.1" cy="1494.7" fill="#452d79"/>
<circle cx="384.3" cy="1421.3" fill="#6cd770"/>
<circle cx="293.6" cy="1347.9" fill="#50c385"/>
<circle cx="202.8" cy="1274.5" fill="#3ea38e"/>
<circle cx="247.7" cy="1509.7" fill="#52c684"/>
<circle cx="156.9" cy="1436.3" fill="#3ea38e"/>
<circle cx="482.8" cy="1465.9" fill="#44337c"/>
<circle cx="392" cy="1392.5" fill="#7fdf61"/>
<circle cx="301.2" cy="1319.1" fill="#4dbe87"/>
<circle cx="255.3" cy="1480.9" fill="#4bb988"/>
<circle cx="164.5" cy="1407.5" fill="#41a98c"/>
<circle cx="490.5" cy="1437.1" fill="#39748e"/>
<circle cx="399.7" cy="1363.6" fill="#74db6a"/>
<circle cx="308.9" cy="1290.2" fill="#47b28a"/>
<circle cx="353.8" cy="1525.5" fill="#a1e74b"/>
<circle cx="263" cy="1452.1" fill="#4bba88"/>
<circle cx="172.1" cy="1378.6" fill="#45af8b"/>
<circle cx="498.2" cy="1408.2" fill="#3d9b8e"/>
<circle cx="407.4" cy="1334.8" fill="#68d673"/>
<circle cx="361.5" cy="1496.7" fill="#69d673"/>
<circle cx="270.6" cy="1423.2" fill="#58cf80"/>
<circle cx="179.7" cy="1349.7" fill="#3d9f8e"/>
<circle cx="506" cy="1379.4" fill="#79dd66"/>
<circle cx="415.1" cy="1305.9" fill="#77dc67"/>
<circle cx="369.2" cy="1467.8" fill="#66d575"/>
<circle cx="278.3" cy="1394.3" fill="#4ec086"/>
<circle cx="187.4" cy="1320.8" fill="#40a58d"/>
<circle cx="422.8" cy="1277" fill="#7add65"/>
<circle cx="467.8" cy="1512.5" fill="#39758e"/>
<circle cx="376.8" cy="1439" fill="#64d477"/>
<circle cx="285.9" cy="1365.5" fill="#4cbc87"/>
<circle cx="195" cy="1291.9" fill="#3d9c8e"/>
<circle cx="240" cy="1527.5" fill="#4ab888"/>
<circle cx="149" cy="1454" fill="#3da18e"/>
<circle cx="475.5" cy="1483.6" fill="#44347d"/>
<circle cx="384.5" cy="1410.1" fill="#70d96d"/>
<circle cx="293.6" cy="1336.6" fill="#57cf81"/>
<circle cx="247.6" cy="1498.6" fill="#53c983"/>
<circle cx="156.6" cy="1425.1" fill="#3c978e"/>
<circle cx="483.2" cy="1454.8" fill="#39718e"/>
<circle cx="392.2" cy="1381.2" fill="#74db6a"/>
<circle cx="301.3" cy="1307.6" fill="#4cbc87"/>
<circle cx="255.3" cy="1469.8" fill="#50c385"/>
<circle cx="164.3" cy="1396.2" fill="#41a88d"/>
<circle cx="491" cy="1425.9" fill="#41a78d"/>
<circle cx="399.9" cy="1352.3" fill="#6dd86f"/>
<circle cx="308.9" cy="1278.7" fill="#53c884"/>
<circle cx="353.9" cy="1514.5" fill="#c3eb3b"/>
<circle cx="262.9" cy="1440.9" fill="#4cbc87"/>
<circle cx="171.9" cy="1367.3" fill="#40a78d"/>
<circle cx="498.7" cy="1397" fill="#4ec086"/>
<circle cx="407.7" cy="1323.3" fill="#71da6c"/>
<circle cx="361.6" cy="1485.6" fill="#71d96c"/>
<circle cx="270.6" cy="1412" fill="#53c984"/>
<circle cx="179.5" cy="1338.4" fill="#41a98c"/>
<circle cx="506.4" cy="1368" fill="#6fd96e"/>
<circle cx="415.4" cy="1294.4" fill="#69d673"/>
<circle cx="460.4" cy="1530.3" fill="#404d89"/>
<circle cx="369.3" cy="1456.7" fill="#6fd96e"/>
<circle cx="278.3" cy="1383" fill="#50c385"/>
<circle cx="187.2" cy="1309.4" fill="#3d9f8e"/>
<circle cx="468.2" cy="1501.4" fill="#424586"/>
<circle cx="377" cy="1427.8" fill="#6fd86e"/>
<circle cx="285.9" cy="1354.1" fill="#51c585"/>
<circle cx="194.8" cy="1280.4" fill="#3c958e"/>
<circle cx="239.9" cy="1516.5" fill="#50c485"/>
<circle cx="148.7" cy="1442.8" fill="#3ea38e"/>
<circle cx="475.9" cy="1472.5" fill="#39818e"/>
<circle cx="384.8" cy="1398.8" fill="#71d96d"/>
<circle cx="293.6" cy="1325.1" fill="#4ab988"/>
<circle cx="247.5" cy="1487.6" fill="#4dbe87"/>
<circle cx="156.4" cy="1413.9" fill="#3ea28e"/>
<circle cx="483.6" cy="1443.6" fill="#47b38a"/>
<circle cx="392.5" cy="1369.9" fill="#6bd771"/>
<circle cx="301.3" cy="1296.1" fill="#4cbb87"/>
<circle cx="346.4" cy="1532.4" fill="#d2ed33"/>
<circle cx="255.2" cy="1458.6" fill="#50c285"/>
<circle cx="164" cy="1384.9" fill="#3ea38e"/>
<circle cx="491.4" cy="1414.6" fill="#53c884"/>
<circle cx="400.2" cy="1340.9" fill="#68d674"/>
<circle cx="354.1" cy="1503.4" fill="#97e651"/>
<circle cx="262.9" cy="1429.7" fill="#4cbb87"/>
<circle cx="171.7" cy="1355.9" fill="#41a88d"/>
<circle cx="499.1" cy="1385.7" fill="#71d96c"/>
<circle cx="407.9" cy="1311.9" fill="#6bd771"/>
<circle cx="361.8" cy="1474.5" fill="#6dd86f"/>
<circle cx="270.6" cy="1400.7" fill="#54ca83"/>
<circle cx="179.3" cy="1326.9" fill="#3d9b8e"/>
<circle cx="506.9" cy="1356.7" fill="#6fd96d"/>
<circle cx="415.6" cy="1282.9" fill="#6bd771"/>
<circle cx="460.8" cy="1519.3" fill="#433980"/>
<circle cx="369.5" cy="1445.5" fill="#69d673"/>
<circle cx="278.2" cy="1371.7" fill="#4cbc87"/>
<circle cx="187" cy="1297.9" fill="#3da18e"/>
<circle cx="232.1" cy="1534.4" fill="#48b589"/>
<circle cx="468.5" cy="1490.3" fill="#3a868e"/>
<circle cx="377.2" cy="1416.5" fill="#78dc67"/>
<circle cx="285.9" cy="1342.7" fill="#4cbc87"/>
<circle cx="239.8" cy="1505.4" fill="#51c684"/>
<circle cx="476.3" cy="1461.4" fill="#3c998e"/>
<circle cx="385" cy="1387.5" fill="#85e25c"/>
<circle cx="293.6" cy="1313.7" fill="#4fc285"/>
<circle cx="247.5" cy="1476.4" fill="#54ca83"/>
<circle cx="156.1" cy="1402.6" fill="#3fa58d"/>
<circle cx="484.1" cy="1432.4" fill="#7ddf62"/>
<circle cx="392.7" cy="1358.5" fill="#70d96d"/>
<circle cx="301.3" cy="1284.6" fill="#4fc186"/>
<circle cx="346.5" cy="1521.3" fill="#9de74e"/>
<circle cx="255.2" cy="1447.4" fill="#4cbb87"/>
<circle cx="163.8" cy="1373.6" fill="#44ae8b"/>
<circle cx="491.8" cy="1403.3" fill="#66d575"/>
<circle cx="400.4" cy="1329.4" fill="#65d576"/>
<circle cx="354.2" cy="1492.3" fill="#75db69"/>
<circle cx="262.8" cy="1418.4" fill="#51c584"/>
<circle cx="171.4" cy="1344.5" fill="#3ea28e"/>
<circle cx="499.6" cy="1374.3" fill="#78dd66"/>
<circle cx="408.2" cy="1300.4" fill="#74db6a"/>
<circle cx="453.4" cy="1537.2" fill="#3c658c"/>
<circle cx="362" cy="1463.3" fill="#60d27a"/>
<circle cx="270.5" cy="1389.4" fill="#51c585"/>
<circle cx="179.1" cy="1315.4" fill="#3c9a8e"/>
<circle cx="507.4" cy="1345.2" fill="#83e15d"/>
<circle cx="461.2" cy="1508.2" fill="#b0e944"/>
<circle cx="369.7" cy="1434.3" fill="#74db69"/>
<circle cx="278.2" cy="1360.3" fill="#4cbc87"/>
<circle cx="186.8" cy="1286.4" fill="#3c978e"/>
<circle cx="232" cy="1523.3" fill="#47b28a"/>
<circle cx="468.9" cy="1479.2" fill="#4dbe86"/>
<circle cx="377.4" cy="1405.2" fill="#76dc68"/>
<circle cx="285.9" cy="1331.2" fill="#51c584"/>
<circle cx="239.7" cy="1494.3" fill="#52c684"/>
<circle cx="476.7" cy="1450.2" fill="#55cd82"/>
<circle cx="385.2" cy="1376.2" fill="#75db69"/>
<circle cx="293.7" cy="1302.1" fill="#54ca83"/>
<circle cx="338.9" cy="1539.3" fill="#85e25c"/>
<circle cx="247.4" cy="1465.3" fill="#53c884"/>
<circle cx="484.5" cy="1421.1" fill="#73da6a"/>
<circle cx="392.9" cy="1347.1" fill="#73da6a"/>
<circle cx="346.7" cy="1510.2" fill="#80e060"/>
<circle cx="255.1" cy="1436.2" fill="#53c884"/>
<circle cx="163.5" cy="1362.2" fill="#43ab8c"/>
<circle cx="492.3" cy="1392" fill="#74db69"/>
<circle cx="400.7" cy="1318" fill="#60d27a"/>
<circle cx="354.4" cy="1481.2" fill="#6dd870"/>
<circle cx="262.8" cy="1407.1" fill="#50c285"/>
<circle cx="171.2" cy="1333" fill="#3da08e"/>
<circle cx="500.1" cy="1362.9" fill="#80e060"/>
<circle cx="408.4" cy="1288.8" fill="#74db69"/>
<circle cx="453.8" cy="1526.2" fill="#d1ed33"/>
<circle cx="362.1" cy="1452.1" fill="#6fd86e"/>
<circle cx="270.5" cy="1378" fill="#4ab988"/>
<circle cx="178.9" cy="1303.9" fill="#3d9d8e"/>
<circle cx="224.2" cy="1541.3" fill="#46b18a"/>
<circle cx="507.9" cy="1333.8" fill="#85e25c"/>
<circle cx="461.5" cy="1497.1" fill="#7cde63"/>
<circle cx="369.9" cy="1423" fill="#73da6b"/>
<circle cx="278.2" cy="1348.9" fill="#4fc285"/>
<circle cx="231.9" cy="1512.2" fill="#55cd82"/>
<circle cx="469.3" cy="1468" fill="#56cd82"/>
<circle cx="377.6" cy="1393.9" fill="#78dc67"/>
<circle cx="286" cy="1319.7" fill="#53c983"/>
<circle cx="239.6" cy="1483.1" fill="#4cbd87"/>
<circle cx="477.1" cy="1438.9" fill="#73da6a"/>
<circle cx="385.4" cy="1364.7" fill="#71d96c"/>
<circle cx="293.7" cy="1290.6" fill="#4ebf86"/>
<circle cx="339.1" cy="1528.2" fill="#86e25b"/>
<circle cx="247.3" cy="1454" fill="#4bbb87"/>
<circle cx="484.9" cy="1409.8" fill="#7dde62"/>
<circle cx="393.2" cy="1335.6" fill="#61d379"/>
<circle cx="346.8" cy="1499.1" fill="#66d576"/>
<circle cx="255" cy="1424.9" fill="#52c684"/>
<circle cx="492.7" cy="1380.6" fill="#71d96d"/>
<circle cx="400.9" cy="1306.4" fill="#6cd770"/>
<circle cx="446.3" cy="1544.2" fill="#a1e74b"/>
<circle cx="354.6" cy="1470" fill="#70d96d"/>
<circle cx="262.8" cy="1395.8" fill="#4bba88"/>
<circle cx="171" cy="1321.5" fill="#3c9a8e"/>
<circle cx="500.5" cy="1351.5" fill="#8ae458"/>
<circle cx="454.1" cy="1515.1" fill="#54ca83"/>
<circle cx="362.3" cy="1440.8" fill="#68d674"/>
<circle cx="270.5" cy="1366.6" fill="#4bba88"/>
<circle cx="178.7" cy="1292.3" fill="#3d9e8e"/>
<circle cx="224.1" cy="1530.2" fill="#41a88d"/>
<circle cx="508.3" cy="1322.3" fill="#79dd65"/>
<circle cx="461.9" cy="1485.9" fill="#8fe555"/>
<circle cx="370.1" cy="1411.7" fill="#7bde64"/>
<circle cx="278.2" cy="1337.4" fill="#4fc186"/>
<circle cx="231.8" cy="1501.1" fill="#4cbc87"/>
<circle cx="469.7" cy="1456.8" fill="#5ed27b"/>
<circle cx="377.8" cy="1382.5" fill="#6dd86f"/>
<circle cx="286" cy="1308.2" fill="#4fc186"/>
<circle cx="331.4" cy="1546.2" fill="#70d96d"/>
<circle cx="239.5" cy="1471.9" fill="#4fc186"/>
<circle cx="477.5" cy="1427.6" fill="#77dc68"/>
<circle cx="385.6" cy="1353.3" fill="#5ed27b"/>
<circle cx="339.2" cy="1517.1" fill="#6cd770"/>
<circle cx="247.2" cy="1442.8" fill="#56ce82"/>
<circle cx="485.3" cy="1398.4" fill="#7fdf61"/>
<circle cx="393.4" cy="1324.1" fill="#6ad672"/>
<circle cx="346.9" cy="1487.9" fill="#7add65"/>
<circle cx="255" cy="1413.6" fill="#4ab888"/>
<circle cx="493.2" cy="1369.2" fill="#76dc68"/>
<circle cx="401.2" cy="1294.8" fill="#6ed86f"/>
<circle cx="446.7" cy="1533.1" fill="#5bd07e"/>
<circle cx="354.7" cy="1458.7" fill="#69d673"/>
<circle cx="262.7" cy="1384.4" fill="#4bbb87"/>
<circle cx="170.7" cy="1310" fill="#3ea38e"/>
<circle cx="501" cy="1340" fill="#75db69"/>
<circle cx="454.5" cy="1503.9" fill="#7fdf61"/>
<circle cx="362.5" cy="1429.5" fill="#6dd870"/>
<circle cx="270.5" cy="1355.1" fill="#4dbd87"/>
<circle cx="223.9" cy="1519.1" fill="#4dbe86"/>
<circle cx="508.8" cy="1310.7" fill="#8de556"/>
<circle cx="462.3" cy="1474.7" fill="#82e15e"/>
<circle cx="370.3" cy="1400.3" fill="#7edf62"/>
<circle cx="278.2" cy="1325.9" fill="#54ca83"/>
<circle cx="231.7" cy="1489.9" fill="#4dbe87"/>
<circle cx="470.1" cy="1445.5" fill="#80e060"/>
<circle cx="378.1" cy="1371" fill="#74db6a"/>
<circle cx="286" cy="1296.6" fill="#52c684"/>
<circle cx="331.5" cy="1535.1" fill="#78dc67"/>
<circle cx="239.4" cy="1460.7" fill="#57ce82"/>
<circle cx="477.9" cy="1416.3" fill="#70d96d"/>
<circle cx="385.8" cy="1341.8" fill="#70d96d"/>
<circle cx="339.3" cy="1505.9" fill="#6dd870"/>
<circle cx="247.2" cy="1431.4" fill="#50c385"/>
<circle cx="485.8" cy="1387" fill="#87e35b"/>
<circle cx="393.6" cy="1312.5" fill="#5fd27b"/>
<circle cx="439.2" cy="1551.2" fill="#93e653"/>
<circle cx="347.1" cy="1476.7" fill="#6ed86f"/>
<circle cx="254.9" cy="1402.2" fill="#45af8b"/>
<circle cx="493.6" cy="1357.7" fill="#82e15e"/>
<circle cx="447" cy="1522" fill="#6fd96e"/>
<circle cx="354.9" cy="1447.4" fill="#6ad672"/>
<circle cx="262.7" cy="1372.9" fill="#4cbd87"/>
<circle cx="501.4" cy="1328.4" fill="#80e060"/>
<circle cx="454.9" cy="1492.7" fill="#80e060"/>
<circle cx="362.7" cy="1418.2" fill="#6fd96e"/>
<circle cx="270.4" cy="1343.6" fill="#50c485"/>
<circle cx="509.3" cy="1299.1" fill="#7add65"/>
<circle cx="462.7" cy="1463.4" fill="#86e25b"/>
<circle cx="370.5" cy="1388.9" fill="#6dd870"/>
<circle cx="278.2" cy="1314.3" fill="#50c385"/>
<circle cx="323.8" cy="1553.3" fill="#6ed86f"/>
<circle cx="231.6" cy="1478.7" fill="#4dbd87"/>
<circle cx="470.5" cy="1434.2" fill="#7ddf62"/>
<circle cx="378.3" cy="1359.6" fill="#78dc67"/>
<circle cx="331.6" cy="1524" fill="#70d96d"/>
<circle cx="239.3" cy="1449.4" fill="#4cbd87"/>
<circle cx="478.4" cy="1404.9" fill="#7add65"/>
<circle cx="386.1" cy="1330.2" fill="#61d379"/>
<circle cx="339.4" cy="1494.7" fill="#79dd66"/>
<circle cx="247.1" cy="1420.1" fill="#3fa48e"/>
<circle cx="486.2" cy="1375.5" fill="#8ee555"/>
<circle cx="393.9" cy="1300.9" fill="#70d96d"/>
<circle cx="439.6" cy="1540.1" fill="#b1e944"/>
<circle cx="347.2" cy="1465.4" fill="#68d674"/>
<circle cx="254.9" cy="1390.8" fill="#44ae8b"/>
<circle cx="494.1" cy="1346.2" fill="#77dc67"/>
<circle cx="447.4" cy="1510.8" fill="#75db69"/>
<circle cx="355" cy="1436.1" fill="#6ad772"/>
<circle cx="262.6" cy="1361.4" fill="#50c285"/>
<circle cx="501.9" cy="1316.8" fill="#7bde64"/>
<circle cx="455.2" cy="1481.5" fill="#81e05f"/>
<circle cx="362.8" cy="1406.8" fill="#66d575"/>
<circle cx="270.4" cy="1332" fill="#50c385"/>
<circle cx="463.1" cy="1452.1" fill="#85e25c"/>
<circle cx="370.6" cy="1377.4" fill="#88e359"/>
<circle cx="278.2" cy="1302.7" fill="#48b589"/>
<circle cx="323.9" cy="1542.1" fill="#6dd86f"/>
<circle cx="231.5" cy="1467.4" fill="#55cb83"/>
<circle cx="470.9" cy="1422.8" fill="#79dd66"/>
<circle cx="378.5" cy="1348" fill="#61d379"/>
<circle cx="331.7" cy="1512.8" fill="#77dc67"/>
<circle cx="239.2" cy="1438" fill="#46b08a"/>
<circle cx="478.8" cy="1393.4" fill="#84e15d"/>
<circle cx="386.3" cy="1318.6" fill="#5ed27c"/>
<circle cx="432" cy="1558.3" fill="#a7e848"/>
<circle cx="339.5" cy="1483.5" fill="#6bd771"/>
<circle cx="247" cy="1408.7" fill="#3d9f8e"/>
<circle cx="486.6" cy="1364" fill="#6bd771"/>
<circle cx="439.9" cy="1528.9" fill="#80e060"/>
<circle cx="347.3" cy="1454.1" fill="#6ad772"/>
<circle cx="254.8" cy="1379.3" fill="#4cbb87"/>
<circle cx="494.5" cy="1334.6" fill="#75db69"/>
<circle cx="447.7" cy="1499.6" fill="#78dc67"/>
<circle cx="355.2" cy="1424.7" fill="#70d96d"/>
<circle cx="262.6" cy="1349.9" fill="#4ec086"/>
<circle cx="502.4" cy="1305.2" fill="#83e15d"/>
<circle cx="455.6" cy="1470.2" fill="#84e25d"/>
<circle cx="363" cy="1395.3" fill="#75db69"/>
<circle cx="270.4" cy="1320.4" fill="#50c385"/>
<circle cx="316.2" cy="1560.3" fill="#70d96d"/>
<circle cx="463.5" cy="1440.8" fill="#83e15e"/>
<circle cx="370.8" cy="1365.9" fill="#6ad772"/>
<circle cx="324" cy="1531" fill="#6fd96e"/>
<circle cx="471.3" cy="1411.4" fill="#86e25c"/>
<circle cx="378.7" cy="1336.4" fill="#66d575"/>
<circle cx="331.8" cy="1501.6" fill="#64d477"/>
<circle cx="239.2" cy="1426.6" fill="#41a88d"/>
<circle cx="479.2" cy="1381.9" fill="#71da6c"/>
<circle cx="386.5" cy="1307" fill="#68d673"/>
<circle cx="432.4" cy="1547.1" fill="#7edf62"/>
<circle cx="339.7" cy="1472.2" fill="#71da6c"/>
<circle cx="246.9" cy="1397.2" fill="#45af8b"/>
<circle cx="487.1" cy="1352.5" fill="#7dde63"/>
<circle cx="440.2" cy="1517.7" fill="#77dc67"/>
<circle cx="347.5" cy="1442.7" fill="#57cf81"/>
<circle cx="254.7" cy="1367.7" fill="#49b788"/>
<circle cx="495" cy="1323" fill="#7bdd64"/>
<circle cx="448.1" cy="1488.3" fill="#7add65"/>
<circle cx="355.3" cy="1413.3" fill="#67d575"/>
<circle cx="262.6" cy="1338.3" fill="#52c784"/>
<circle cx="456" cy="1458.8" fill="#7cde64"/>
<circle cx="363.2" cy="1383.8" fill="#69d673"/>
<circle cx="270.4" cy="1308.8" fill="#4bb988"/>
<circle cx="316.3" cy="1549.2" fill="#64d477"/>
<circle cx="463.8" cy="1429.4" fill="#81e060"/>
<circle cx="371" cy="1354.3" fill="#65d476"/>
<circle cx="324.1" cy="1519.7" fill="#61d37a"/>
<circle cx="471.7" cy="1399.9" fill="#80e060"/>
<circle cx="378.9" cy="1324.8" fill="#66d575"/>
<circle cx="424.8" cy="1565.4" fill="#87e35a"/>
<circle cx="331.9" cy="1490.3" fill="#5ed27c"/>
<circle cx="479.6" cy="1370.4" fill="#7dde62"/>
<circle cx="432.7" cy="1535.9" fill="#86e25b"/>
<circle cx="339.8" cy="1460.8" fill="#66d575"/>
<circle cx="246.9" cy="1385.7" fill="#3fa58e"/>
<circle cx="487.5" cy="1340.8" fill="#61d379"/>
<circle cx="440.6" cy="1506.4" fill="#80e060"/>
<circle cx="347.6" cy="1431.3" fill="#5cd17d"/>
<circle cx="254.7" cy="1356.2" fill="#53c983"/>
<circle cx="495.4" cy="1311.3" fill="#6fd96e"/>
<circle cx="448.4" cy="1477" fill="#84e25c"/>
<circle cx="355.5" cy="1401.8" fill="#66d575"/>
<circle cx="262.5" cy="1326.6" fill="#51c585"/>
<circle cx="308.5" cy="1567.5" fill="#72da6b"/>
<circle cx="456.3" cy="1447.4" fill="#87e35a"/>
<circle cx="363.3" cy="1372.3" fill="#6cd770"/>
<circle cx="316.3" cy="1538" fill="#6ad672"/>
<circle cx="464.2" cy="1417.9" fill="#7cde63"/>
<circle cx="371.2" cy="1342.7" fill="#69d673"/>
<circle cx="324.2" cy="1508.5" fill="#6cd770"/>
<circle cx="472.1" cy="1388.4" fill="#7fdf61"/>
<circle cx="379.1" cy="1313.1" fill="#5fd27b"/>
<circle cx="425.1" cy="1554.2" fill="#85e25c"/>
<circle cx="332" cy="1479" fill="#72da6c"/>
<circle cx="480" cy="1358.8" fill="#78dc66"/>
<circle cx="433" cy="1524.7" fill="#7add65"/>
<circle cx="339.9" cy="1449.4" fill="#62d378"/>
<circle cx="487.9" cy="1329.2" fill="#76dc68"/>
<circle cx="440.9" cy="1495.1" fill="#84e15d"/>
<circle cx="347.8" cy="1419.8" fill="#6ed86f"/>
<circle cx="254.6" cy="1344.5" fill="#4fc186"/>
<circle cx="448.8" cy="1465.6" fill="#75db69"/>
<circle cx="355.6" cy="1390.3" fill="#6dd86f"/>
<circle cx="262.5" cy="1314.9" fill="#4fc186"/>
<circle cx="308.5" cy="1556.3" fill="#6fd96e"/>
<circle cx="456.7" cy="1436" fill="#74db6a"/>
<circle cx="363.5" cy="1360.7" fill="#68d673"/>
<circle cx="316.4" cy="1526.7" fill="#63d378"/>
<circle cx="464.6" cy="1406.4" fill="#85e25c"/>
<circle cx="371.4" cy="1331" fill="#68d674"/>
<circle cx="417.5" cy="1572.5" fill="#6cd771"/>
<circle cx="324.3" cy="1497.2" fill="#6cd870"/>
<circle cx="472.5" cy="1376.8" fill="#76dc68"/>
<circle cx="425.4" cy="1543" fill="#84e15d"/>
<circle cx="332.1" cy="1467.6" fill="#72da6b"/>
<circle cx="480.5" cy="1347.1" fill="#85e25c"/>
<circle cx="433.3" cy="1513.4" fill="#7add65"/>
<circle cx="340" cy="1438" fill="#5bd07e"/>
<circle cx="488.4" cy="1317.5" fill="#6ed86f"/>
<circle cx="441.2" cy="1483.8" fill="#7add65"/>
<circle cx="347.9" cy="1408.3" fill="#68d673"/>
<circle cx="254.6" cy="1332.9" fill="#51c584"/>
<circle cx="449.2" cy="1454.2" fill="#84e15d"/>
<circle cx="355.8" cy="1378.7" fill="#61d379"/>
<circle cx="308.6" cy="1545.1" fill="#74db6a"/>
<circle cx="457.1" cy="1424.5" fill="#83e15e"/>
<circle cx="363.7" cy="1349" fill="#6cd770"/>
<circle cx="316.5" cy="1515.4" fill="#6ed86e"/>
<circle cx="465" cy="1394.8" fill="#7cde63"/>
<circle cx="371.6" cy="1319.3" fill="#64d477"/>
<circle cx="417.8" cy="1561.3" fill="#68d673"/>
<circle cx="324.4" cy="1485.8" fill="#67d574"/>
<circle cx="472.9" cy="1365.2" fill="#77dc67"/>
<circle cx="425.7" cy="1531.7" fill="#7bde64"/>
<circle cx="332.3" cy="1456.1" fill="#62d378"/>
<circle cx="480.9" cy="1335.5" fill="#73da6b"/>
<circle cx="433.6" cy="1502.1" fill="#6dd86f"/>
<circle cx="340.1" cy="1426.5" fill="#6bd771"/>
<circle cx="441.6" cy="1472.4" fill="#7cde63"/>
<circle cx="348" cy="1396.8" fill="#65d476"/>
<circle cx="449.5" cy="1442.7" fill="#6ed86f"/>
<circle cx="356" cy="1367" fill="#5ed27c"/>
<circle cx="457.5" cy="1413" fill="#72da6c"/>
<circle cx="363.9" cy="1337.3" fill="#6ad672"/>
<circle cx="410.2" cy="1579.8" fill="#76db68"/>
<circle cx="316.6" cy="1504.1" fill="#74db6a"/>
<circle cx="465.4" cy="1383.2" fill="#7cde63"/>
<circle cx="418.1" cy="1550.1" fill="#6cd770"/>
<circle cx="324.5" cy="1474.4" fill="#68d674"/>
<circle cx="473.4" cy="1353.5" fill="#78dc67"/>
<circle cx="426" cy="1520.4" fill="#7dde63"/>
<circle cx="332.4" cy="1444.7" fill="#59cf80"/>
<circle cx="481.3" cy="1323.7" fill="#7fdf61"/>
<circle cx="434" cy="1490.7" fill="#7dde63"/>
<circle cx="340.3" cy="1414.9" fill="#62d378"/>
<circle cx="441.9" cy="1460.9" fill="#6ed86f"/>
<circle cx="348.2" cy="1385.1" fill="#5bd07e"/>
<circle cx="449.9" cy="1431.2" fill="#70d96d"/>
<circle cx="356.1" cy="1355.4" fill="#66d575"/>
<circle cx="457.8" cy="1401.4" fill="#75db69"/>
<circle cx="364" cy="1325.5" fill="#56ce82"/>
<circle cx="410.4" cy="1568.5" fill="#7cde64"/>
<circle cx="316.6" cy="1492.7" fill="#6dd86f"/>
<circle cx="465.8" cy="1371.6" fill="#73da6a"/>
<circle cx="418.4" cy="1538.8" fill="#6ad772"/>
<circle cx="324.5" cy="1462.9" fill="#69d673"/>
<circle cx="473.8" cy="1341.8" fill="#83e15e"/>
<circle cx="426.3" cy="1509" fill="#72da6c"/>
<circle cx="332.5" cy="1433.1" fill="#60d27a"/>
<circle cx="434.3" cy="1479.2" fill="#70d96d"/>
<circle cx="340.4" cy="1403.3" fill="#6ed86f"/>
<circle cx="442.3" cy="1449.4" fill="#6bd771"/>
<circle cx="348.3" cy="1373.5" fill="#64d477"/>
<circle cx="450.2" cy="1419.6" fill="#78dc67"/>
<circle cx="356.3" cy="1343.6" fill="#62d378"/>
<circle cx="402.8" cy="1587.1" fill="#74db6a"/>
<circle cx="458.2" cy="1389.7" fill="#77dc67"/>
<circle cx="410.7" cy="1557.3" fill="#63d477"/>
<circle cx="466.2" cy="1359.9" fill="#76dc68"/>
<circle cx="418.7" cy="1527.5" fill="#76db68"/>
<circle cx="324.6" cy="1451.4" fill="#5ed17c"/>
<circle cx="474.2" cy="1330" fill="#71d96c"/>
<circle cx="426.7" cy="1497.6" fill="#70d96d"/>
<circle cx="332.6" cy="1421.6" fill="#55cc83"/>
<circle cx="434.6" cy="1467.8" fill="#69d672"/>
<circle cx="340.5" cy="1391.7" fill="#58cf80"/>
<circle cx="442.6" cy="1437.9" fill="#74db6a"/>
<circle cx="348.5" cy="1361.8" fill="#6dd870"/>
<circle cx="450.6" cy="1408" fill="#6fd96e"/>
<circle cx="356.4" cy="1331.8" fill="#61d37a"/>
<circle cx="403" cy="1575.8" fill="#65d476"/>
<circle cx="458.6" cy="1378.1" fill="#81e05f"/>
<circle cx="411" cy="1545.9" fill="#6ed86f"/>
<circle cx="466.6" cy="1348.1" fill="#6fd86e"/>
<circle cx="419" cy="1516.1" fill="#74db6a"/>
<circle cx="427" cy="1486.1" fill="#84e25c"/>
<circle cx="332.7" cy="1409.9" fill="#5ed17c"/>
<circle cx="435" cy="1456.2" fill="#68d674"/>
<circle cx="340.7" cy="1380" fill="#5ed27b"/>
<circle cx="443" cy="1426.3" fill="#6bd771"/>
<circle cx="348.6" cy="1350" fill="#57cf81"/>
<circle cx="395.3" cy="1594.4" fill="#73da6a"/>
<circle cx="451" cy="1396.3" fill="#6ad672"/>
<circle cx="403.3" cy="1564.5" fill="#75db69"/>
<circle cx="459" cy="1366.3" fill="#79dd66"/>
<circle cx="411.3" cy="1534.6" fill="#82e15e"/>
<circle cx="467" cy="1336.3" fill="#77dc68"/>
<circle cx="419.3" cy="1504.6" fill="#78dc66"/>
<circle cx="427.3" cy="1474.6" fill="#71d96d"/>
<circle cx="435.3" cy="1444.6" fill="#65d476"/>
<circle cx="340.8" cy="1368.2" fill="#61d37a"/>
<circle cx="443.3" cy="1414.6" fill="#6ad772"/>
<circle cx="348.8" cy="1338.2" fill="#60d27a"/>
<circle cx="395.5" cy="1583.1" fill="#74db69"/>
<circle cx="451.3" cy="1384.6" fill="#6ed86f"/>
<circle cx="403.5" cy="1553.1" fill="#73da6a"/>
<circle cx="459.4" cy="1354.5" fill="#6fd96d"/>
<circle cx="411.6" cy="1523.1" fill="#6dd86f"/>
<circle cx="419.6" cy="1493.1" fill="#6ed86e"/>
<circle cx="427.6" cy="1463.1" fill="#72da6b"/>
<circle cx="435.6" cy="1433" fill="#6cd870"/>
<circle cx="340.9" cy="1356.4" fill="#6ad772"/>
<circle cx="443.7" cy="1402.9" fill="#61d379"/>
<circle cx="395.8" cy="1571.8" fill="#73da6a"/>
<circle cx="451.7" cy="1372.8" fill="#72da6b"/>
<circle cx="403.8" cy="1541.7" fill="#78dc67"/>
<circle cx="459.7" cy="1342.7" fill="#7cde63"/>
<circle cx="411.8" cy="1511.7" fill="#74db6a"/>
<circle cx="419.9" cy="1481.6" fill="#85e25c"/>
<circle cx="427.9" cy="1451.5" fill="#70d96d"/>
<circle cx="436" cy="1421.3" fill="#71d96c"/>
<circle cx="444" cy="1391.2" fill="#6cd770"/>
<circle cx="452.1" cy="1361" fill="#62d378"/>
<circle cx="404.1" cy="1530.3" fill="#77dc67"/>
<circle cx="412.1" cy="1500.1" fill="#7bde64"/>
<circle cx="420.2" cy="1470" fill="#6ed86f"/>
<circle cx="428.2" cy="1439.8" fill="#75db69"/>
<circle cx="436.3" cy="1409.6" fill="#5cd17d"/>
<circle cx="444.4" cy="1379.4" fill="#70d96d"/>
<circle cx="452.4" cy="1349.1" fill="#6dd86f"/>
<circle cx="404.3" cy="1518.8" fill="#7cde63"/>
<circle cx="412.4" cy="1488.6" fill="#6cd770"/>
<circle cx="420.5" cy="1458.3" fill="#6bd771"/>
<circle cx="428.5" cy="1428.1" fill="#61d379"/>
<circle cx="436.6" cy="1397.8" fill="#67d574"/>
<circle cx="444.7" cy="1367.5" fill="#65d576"/>
<circle cx="412.7" cy="1476.9" fill="#74db6a"/>
<circle cx="420.8" cy="1446.6" fill="#6ed86e"/>
<circle cx="428.9" cy="1416.3" fill="#68d674"/>
<circle cx="437" cy="1386" fill="#72da6c"/>
<circle cx="445.1" cy="1355.6" fill="#68d574"/>
<circle cx="421.1" cy="1434.9" fill="#69d672"/>
<circle cx="429.2" cy="1404.5" fill="#68d674"/>
<circle cx="437.3" cy="1374.1" fill="#6dd870"/>
<circle cx="429.5" cy="1392.6" fill="#69d673"/>
<circle cx="437.6" cy="1362.1" fill="#6fd96e"/>
<circle cx="429.8" cy="1380.7" fill="#5ad07f"/>
</g>
<defs><linearGradient id="gc" x1="0" y1="0" x2="0" y2="1"><stop offset="0" stop-color="#ecf252"/><stop offset="0.015" stop-color="#e8f255"/><stop offset="0.194" stop-color="#a3ea78"/><stop offset="0.343" stop-color="#78d89b"/><stop offset="0.491" stop-color="#64b4a5"/><stop offset="0.643" stop-color="#6092a5"/><stop offset="0.791" stop-color="#676ea0"/><stop offset="0.942" stop-color="#6c488c"/><stop offset="0.985" stop-color="#693980"/><stop offset="1" stop-color="#68347c"/></linearGradient></defs>
<rect x="607" y="1225.7" width="13.6" height="351.3" fill="url(#gc)" stroke="#000" stroke-width="1.4"/>
<text class="ct" x="628.7" y="1264.9" textLength="19.3" lengthAdjust="spacingAndGlyphs">600</text>
<text class="ct" x="628.7" y="1338" textLength="19.3" lengthAdjust="spacingAndGlyphs">500</text>
<text class="ct" x="628.7" y="1411.3" textLength="19.3" lengthAdjust="spacingAndGlyphs">400</text>
<text class="ct" x="628.7" y="1484.2" textLength="19.3" lengthAdjust="spacingAndGlyphs">300</text>
<text class="ct" x="628.7" y="1557.5" textLength="19.3" lengthAdjust="spacingAndGlyphs">200</text>
<path d="M621.3 1261.3H624.9 M621.3 1334.4H624.9 M621.3 1407.7H624.9 M621.3 1480.6H624.9 M621.3 1553.9H624.9" stroke="#000" stroke-width="1"/>
<text class="ti" x="1.2" y="23.0" textLength="321.0" lengthAdjust="spacingAndGlyphs">(a) Target: Corrosion Rate</text>
<text class="ti" x="46.5" y="60.0" textLength="276.1" lengthAdjust="spacingAndGlyphs">Layer Height = 30 µm</text>
<text class="ti" x="3.4" y="591.7" textLength="376.0" lengthAdjust="spacingAndGlyphs">(b) Target: Corrosion Potential</text>
<text class="ti" x="50.3" y="628.0" textLength="274.3" lengthAdjust="spacingAndGlyphs">Layer Height = 30 µm</text>
<text class="ti" x="8.3" y="1135.7" textLength="328.4" lengthAdjust="spacingAndGlyphs">(c) Target: Pitting Potential</text>
<text class="ti" x="54.8" y="1171.5" textLength="274.4" lengthAdjust="spacingAndGlyphs">Layer Height = 20 µm</text>
<text class="al" transform="translate(201.3 498.9) rotate(17.0)" y="6" textLength="135.5" lengthAdjust="spacingAndGlyphs">Hatch Distance</text>
<text class="al" transform="translate(517.3 492.8) rotate(-45.5)" y="6" textLength="97.0" lengthAdjust="spacingAndGlyphs">Laser Power</text>
<text class="al" transform="translate(591.6 295.3) rotate(-88.0)" y="6" textLength="129.5" lengthAdjust="spacingAndGlyphs">Scanning Speed</text>
<text class="al" transform="translate(202.1 1048.2) rotate(17.0)" y="6" textLength="135.5" lengthAdjust="spacingAndGlyphs">Hatch Distance</text>
<text class="al" transform="translate(509.5 1041.2) rotate(-45.5)" y="6" textLength="97.0" lengthAdjust="spacingAndGlyphs">Laser Power</text>
<text class="al" transform="translate(583.6 843.8) rotate(-88.0)" y="6" textLength="129.5" lengthAdjust="spacingAndGlyphs">Scanning Speed</text>
<text class="al" transform="translate(198.0 1601.5) rotate(17.0)" y="6" textLength="135.5" lengthAdjust="spacingAndGlyphs">Hatch Distance</text>
<text class="al" transform="translate(513.0 1593.7) rotate(-45.5)" y="6" textLength="97.0" lengthAdjust="spacingAndGlyphs">Laser Power</text>
<text class="al" transform="translate(587.0 1396.6) rotate(-88.0)" y="6" textLength="129.5" lengthAdjust="spacingAndGlyphs">Scanning Speed</text>
<text class="cl" transform="translate(658.7 300.3) rotate(-90)" y="5" textLength="78" lengthAdjust="spacingAndGlyphs">CR [mpy]</text>
<text id="clb" class="cl" style="font-size:17px" transform="translate(667.7 848.6) rotate(-90)" y="5.5"><tspan font-style="italic" font-weight="normal">E</tspan><tspan font-weight="normal" font-size="12" dy="3.5">Corr</tspan><tspan dy="-3.5"> [mV]</tspan></text>
<text id="clc" class="cl" style="font-size:17px" transform="translate(662.5 1401.7) rotate(-90)" y="5.5"><tspan font-style="italic" font-weight="normal">E</tspan><tspan font-weight="normal" font-size="12" dy="3.5">Pitting</tspan><tspan dy="-3.5"> [mV]</tspan></text>
<path d="M23.3 558.9H35.8 M61.2 558.9H86.8 M111.9 558.9H137.5 M162.6 558.9H188.2 M213.3 558.9H238.9 M264.0 558.9H289.6 M314.6 558.9H340.2 M365.3 558.9H390.9 M416.0 558.9H441.6 M466.7 558.9H492.3 M517.4 558.9H543.0 M568.1 558.9H593.7 M618.8 558.9H644.4 M669.5 558.9H683.4" stroke="#000" stroke-width="3.9"/>
<path d="M23.3 1103.2H35.8 M61.2 1103.2H86.8 M111.9 1103.2H137.5 M162.6 1103.2H188.2 M213.3 1103.2H238.9 M264.0 1103.2H289.6 M314.6 1103.2H340.2 M365.3 1103.2H390.9 M416.0 1103.2H441.6 M466.7 1103.2H492.3 M517.4 1103.2H543.0 M568.1 1103.2H593.7 M618.8 1103.2H644.4 M669.5 1103.2H683.4" stroke="#000" stroke-width="3.9"/>
</svg>
</body></html>
